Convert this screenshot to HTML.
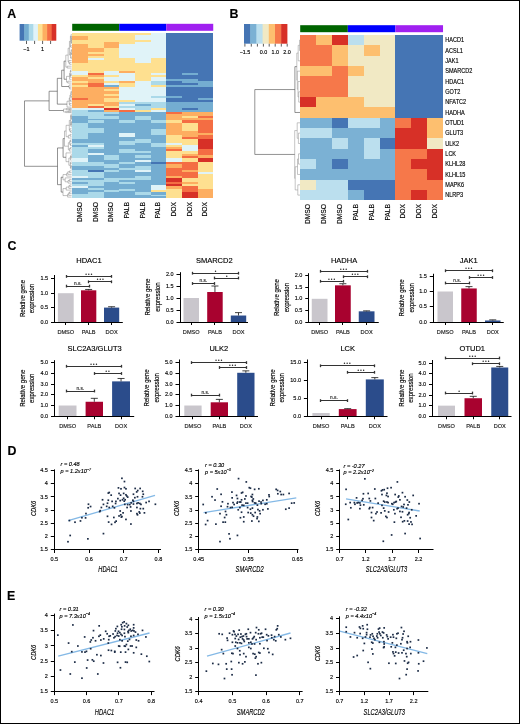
<!DOCTYPE html>
<html><head><meta charset="utf-8"><title>Figure</title>
<style>
html,body{margin:0;padding:0;background:#fff;width:520px;height:724px;overflow:hidden}
svg{display:block;will-change:transform;font-family:"Liberation Sans", sans-serif}
text{font-family:"Liberation Sans", sans-serif;stroke:#000;stroke-width:0.14px;paint-order:stroke}
</style></head><body>
<svg width="520" height="724" viewBox="0 0 520 724">
<rect x="0" y="0" width="520" height="724" fill="#fff"/>
<rect x="72.20" y="33.30" width="15.67" height="2.30" fill="#fee090" shape-rendering="crispEdges"/>
<rect x="72.20" y="35.60" width="15.67" height="4.30" fill="#fdae61" shape-rendering="crispEdges"/>
<rect x="72.20" y="39.90" width="15.67" height="4.10" fill="#fee090" shape-rendering="crispEdges"/>
<rect x="72.20" y="44.00" width="15.67" height="18.60" fill="#fdae61" shape-rendering="crispEdges"/>
<rect x="72.20" y="62.60" width="15.67" height="8.10" fill="#fee090" shape-rendering="crispEdges"/>
<rect x="72.20" y="70.70" width="15.67" height="4.10" fill="#e0f3f8" shape-rendering="crispEdges"/>
<rect x="72.20" y="74.80" width="15.67" height="2.20" fill="#fee090" shape-rendering="crispEdges"/>
<rect x="72.20" y="77.00" width="15.67" height="4.20" fill="#fdae61" shape-rendering="crispEdges"/>
<rect x="72.20" y="81.20" width="15.67" height="2.00" fill="#fee090" shape-rendering="crispEdges"/>
<rect x="72.20" y="83.20" width="15.67" height="1.80" fill="#fdae61" shape-rendering="crispEdges"/>
<rect x="72.20" y="85.00" width="15.67" height="2.20" fill="#fee090" shape-rendering="crispEdges"/>
<rect x="72.20" y="87.20" width="15.67" height="10.40" fill="#fdae61" shape-rendering="crispEdges"/>
<rect x="72.20" y="97.60" width="15.67" height="2.20" fill="#f46d43" shape-rendering="crispEdges"/>
<rect x="72.20" y="99.80" width="15.67" height="8.00" fill="#fdae61" shape-rendering="crispEdges"/>
<rect x="72.20" y="107.80" width="15.67" height="2.10" fill="#e0f3f8" shape-rendering="crispEdges"/>
<rect x="72.20" y="109.90" width="15.67" height="6.10" fill="#abd9e9" shape-rendering="crispEdges"/>
<rect x="72.20" y="116.00" width="15.67" height="7.30" fill="#74add1" shape-rendering="crispEdges"/>
<rect x="72.20" y="123.30" width="15.67" height="15.50" fill="#abd9e9" shape-rendering="crispEdges"/>
<rect x="72.20" y="138.80" width="15.67" height="4.30" fill="#74add1" shape-rendering="crispEdges"/>
<rect x="72.20" y="143.10" width="15.67" height="1.90" fill="#abd9e9" shape-rendering="crispEdges"/>
<rect x="72.20" y="145.00" width="15.67" height="2.00" fill="#74add1" shape-rendering="crispEdges"/>
<rect x="72.20" y="147.00" width="15.67" height="10.60" fill="#abd9e9" shape-rendering="crispEdges"/>
<rect x="72.20" y="157.60" width="15.67" height="4.30" fill="#e0f3f8" shape-rendering="crispEdges"/>
<rect x="72.20" y="161.90" width="15.67" height="4.30" fill="#abd9e9" shape-rendering="crispEdges"/>
<rect x="72.20" y="166.20" width="15.67" height="3.80" fill="#74add1" shape-rendering="crispEdges"/>
<rect x="72.20" y="170.00" width="15.67" height="5.80" fill="#abd9e9" shape-rendering="crispEdges"/>
<rect x="72.20" y="175.80" width="15.67" height="2.20" fill="#e0f3f8" shape-rendering="crispEdges"/>
<rect x="72.20" y="178.00" width="15.67" height="2.10" fill="#74add1" shape-rendering="crispEdges"/>
<rect x="72.20" y="180.10" width="15.67" height="2.20" fill="#abd9e9" shape-rendering="crispEdges"/>
<rect x="72.20" y="182.30" width="15.67" height="1.90" fill="#74add1" shape-rendering="crispEdges"/>
<rect x="72.20" y="184.20" width="15.67" height="1.70" fill="#abd9e9" shape-rendering="crispEdges"/>
<rect x="72.20" y="185.90" width="15.67" height="2.10" fill="#e0f3f8" shape-rendering="crispEdges"/>
<rect x="72.20" y="188.00" width="15.67" height="5.80" fill="#74add1" shape-rendering="crispEdges"/>
<rect x="72.20" y="193.80" width="15.67" height="4.20" fill="#abd9e9" shape-rendering="crispEdges"/>
<rect x="87.87" y="33.30" width="15.67" height="14.60" fill="#fee090" shape-rendering="crispEdges"/>
<rect x="87.87" y="47.90" width="15.67" height="4.30" fill="#fdae61" shape-rendering="crispEdges"/>
<rect x="87.87" y="52.20" width="15.67" height="1.70" fill="#fee090" shape-rendering="crispEdges"/>
<rect x="87.87" y="53.90" width="15.67" height="2.30" fill="#fdae61" shape-rendering="crispEdges"/>
<rect x="87.87" y="56.20" width="15.67" height="1.80" fill="#fee090" shape-rendering="crispEdges"/>
<rect x="87.87" y="58.00" width="15.67" height="2.40" fill="#e0f3f8" shape-rendering="crispEdges"/>
<rect x="87.87" y="60.40" width="15.67" height="12.40" fill="#fee090" shape-rendering="crispEdges"/>
<rect x="87.87" y="72.80" width="15.67" height="2.50" fill="#f46d43" shape-rendering="crispEdges"/>
<rect x="87.87" y="75.30" width="15.67" height="1.70" fill="#fdae61" shape-rendering="crispEdges"/>
<rect x="87.87" y="77.00" width="15.67" height="1.80" fill="#fee090" shape-rendering="crispEdges"/>
<rect x="87.87" y="78.80" width="15.67" height="4.10" fill="#fdae61" shape-rendering="crispEdges"/>
<rect x="87.87" y="82.90" width="15.67" height="4.30" fill="#f46d43" shape-rendering="crispEdges"/>
<rect x="87.87" y="87.20" width="15.67" height="16.60" fill="#fdae61" shape-rendering="crispEdges"/>
<rect x="87.87" y="103.80" width="15.67" height="2.20" fill="#fee090" shape-rendering="crispEdges"/>
<rect x="87.87" y="106.00" width="15.67" height="1.80" fill="#f46d43" shape-rendering="crispEdges"/>
<rect x="87.87" y="107.80" width="15.67" height="2.10" fill="#e0f3f8" shape-rendering="crispEdges"/>
<rect x="87.87" y="109.90" width="15.67" height="1.80" fill="#74add1" shape-rendering="crispEdges"/>
<rect x="87.87" y="111.70" width="15.67" height="7.00" fill="#abd9e9" shape-rendering="crispEdges"/>
<rect x="87.87" y="118.70" width="15.67" height="1.70" fill="#74add1" shape-rendering="crispEdges"/>
<rect x="87.87" y="120.40" width="15.67" height="2.40" fill="#abd9e9" shape-rendering="crispEdges"/>
<rect x="87.87" y="122.80" width="15.67" height="5.20" fill="#74add1" shape-rendering="crispEdges"/>
<rect x="87.87" y="128.00" width="15.67" height="5.00" fill="#abd9e9" shape-rendering="crispEdges"/>
<rect x="87.87" y="133.00" width="15.67" height="10.10" fill="#74add1" shape-rendering="crispEdges"/>
<rect x="87.87" y="143.10" width="15.67" height="1.90" fill="#abd9e9" shape-rendering="crispEdges"/>
<rect x="87.87" y="145.00" width="15.67" height="2.00" fill="#e0f3f8" shape-rendering="crispEdges"/>
<rect x="87.87" y="147.00" width="15.67" height="2.30" fill="#abd9e9" shape-rendering="crispEdges"/>
<rect x="87.87" y="149.30" width="15.67" height="3.90" fill="#74add1" shape-rendering="crispEdges"/>
<rect x="87.87" y="153.20" width="15.67" height="2.20" fill="#e0f3f8" shape-rendering="crispEdges"/>
<rect x="87.87" y="155.40" width="15.67" height="6.50" fill="#74add1" shape-rendering="crispEdges"/>
<rect x="87.87" y="161.90" width="15.67" height="4.30" fill="#abd9e9" shape-rendering="crispEdges"/>
<rect x="87.87" y="166.20" width="15.67" height="3.80" fill="#74add1" shape-rendering="crispEdges"/>
<rect x="87.87" y="170.00" width="15.67" height="2.00" fill="#4575b4" shape-rendering="crispEdges"/>
<rect x="87.87" y="172.00" width="15.67" height="6.00" fill="#abd9e9" shape-rendering="crispEdges"/>
<rect x="87.87" y="178.00" width="15.67" height="2.10" fill="#74add1" shape-rendering="crispEdges"/>
<rect x="87.87" y="180.10" width="15.67" height="5.80" fill="#abd9e9" shape-rendering="crispEdges"/>
<rect x="87.87" y="185.90" width="15.67" height="2.10" fill="#74add1" shape-rendering="crispEdges"/>
<rect x="87.87" y="188.00" width="15.67" height="2.20" fill="#abd9e9" shape-rendering="crispEdges"/>
<rect x="87.87" y="190.20" width="15.67" height="2.20" fill="#74add1" shape-rendering="crispEdges"/>
<rect x="87.87" y="192.40" width="15.67" height="5.60" fill="#abd9e9" shape-rendering="crispEdges"/>
<rect x="103.54" y="33.30" width="15.67" height="8.50" fill="#fee090" shape-rendering="crispEdges"/>
<rect x="103.54" y="41.80" width="15.67" height="6.10" fill="#fdae61" shape-rendering="crispEdges"/>
<rect x="103.54" y="47.90" width="15.67" height="22.80" fill="#fee090" shape-rendering="crispEdges"/>
<rect x="103.54" y="70.70" width="15.67" height="4.10" fill="#e0f3f8" shape-rendering="crispEdges"/>
<rect x="103.54" y="74.80" width="15.67" height="2.20" fill="#fee090" shape-rendering="crispEdges"/>
<rect x="103.54" y="77.00" width="15.67" height="4.40" fill="#e0f3f8" shape-rendering="crispEdges"/>
<rect x="103.54" y="81.40" width="15.67" height="1.80" fill="#fee090" shape-rendering="crispEdges"/>
<rect x="103.54" y="83.20" width="15.67" height="1.80" fill="#e0f3f8" shape-rendering="crispEdges"/>
<rect x="103.54" y="85.00" width="15.67" height="2.00" fill="#74add1" shape-rendering="crispEdges"/>
<rect x="103.54" y="87.00" width="15.67" height="2.40" fill="#fdae61" shape-rendering="crispEdges"/>
<rect x="103.54" y="89.40" width="15.67" height="1.80" fill="#fee090" shape-rendering="crispEdges"/>
<rect x="103.54" y="91.20" width="15.67" height="2.50" fill="#fdae61" shape-rendering="crispEdges"/>
<rect x="103.54" y="93.70" width="15.67" height="1.90" fill="#fee090" shape-rendering="crispEdges"/>
<rect x="103.54" y="95.60" width="15.67" height="2.40" fill="#fdae61" shape-rendering="crispEdges"/>
<rect x="103.54" y="98.00" width="15.67" height="3.60" fill="#fee090" shape-rendering="crispEdges"/>
<rect x="103.54" y="101.60" width="15.67" height="4.40" fill="#fdae61" shape-rendering="crispEdges"/>
<rect x="103.54" y="106.00" width="15.67" height="1.80" fill="#fee090" shape-rendering="crispEdges"/>
<rect x="103.54" y="107.80" width="15.67" height="2.10" fill="#d73027" shape-rendering="crispEdges"/>
<rect x="103.54" y="109.90" width="15.67" height="1.80" fill="#fdae61" shape-rendering="crispEdges"/>
<rect x="103.54" y="111.70" width="15.67" height="2.50" fill="#abd9e9" shape-rendering="crispEdges"/>
<rect x="103.54" y="114.20" width="15.67" height="1.80" fill="#74add1" shape-rendering="crispEdges"/>
<rect x="103.54" y="116.00" width="15.67" height="2.70" fill="#abd9e9" shape-rendering="crispEdges"/>
<rect x="103.54" y="118.70" width="15.67" height="36.70" fill="#74add1" shape-rendering="crispEdges"/>
<rect x="103.54" y="155.40" width="15.67" height="4.30" fill="#abd9e9" shape-rendering="crispEdges"/>
<rect x="103.54" y="159.70" width="15.67" height="4.30" fill="#74add1" shape-rendering="crispEdges"/>
<rect x="103.54" y="164.00" width="15.67" height="3.70" fill="#abd9e9" shape-rendering="crispEdges"/>
<rect x="103.54" y="167.70" width="15.67" height="2.10" fill="#74add1" shape-rendering="crispEdges"/>
<rect x="103.54" y="169.80" width="15.67" height="2.20" fill="#abd9e9" shape-rendering="crispEdges"/>
<rect x="103.54" y="172.00" width="15.67" height="6.00" fill="#74add1" shape-rendering="crispEdges"/>
<rect x="103.54" y="178.00" width="15.67" height="4.00" fill="#abd9e9" shape-rendering="crispEdges"/>
<rect x="103.54" y="182.00" width="15.67" height="8.20" fill="#74add1" shape-rendering="crispEdges"/>
<rect x="103.54" y="190.20" width="15.67" height="2.20" fill="#abd9e9" shape-rendering="crispEdges"/>
<rect x="103.54" y="192.40" width="15.67" height="5.60" fill="#74add1" shape-rendering="crispEdges"/>
<rect x="119.21" y="33.30" width="15.67" height="10.70" fill="#fee090" shape-rendering="crispEdges"/>
<rect x="119.21" y="44.00" width="15.67" height="14.40" fill="#e0f3f8" shape-rendering="crispEdges"/>
<rect x="119.21" y="58.40" width="15.67" height="12.30" fill="#fee090" shape-rendering="crispEdges"/>
<rect x="119.21" y="70.70" width="15.67" height="2.10" fill="#fdae61" shape-rendering="crispEdges"/>
<rect x="119.21" y="72.80" width="15.67" height="8.20" fill="#e0f3f8" shape-rendering="crispEdges"/>
<rect x="119.21" y="81.00" width="15.67" height="2.20" fill="#fdae61" shape-rendering="crispEdges"/>
<rect x="119.21" y="83.20" width="15.67" height="4.00" fill="#fee090" shape-rendering="crispEdges"/>
<rect x="119.21" y="87.20" width="15.67" height="12.30" fill="#e0f3f8" shape-rendering="crispEdges"/>
<rect x="119.21" y="99.50" width="15.67" height="2.10" fill="#fee090" shape-rendering="crispEdges"/>
<rect x="119.21" y="101.60" width="15.67" height="2.20" fill="#abd9e9" shape-rendering="crispEdges"/>
<rect x="119.21" y="103.80" width="15.67" height="2.20" fill="#e0f3f8" shape-rendering="crispEdges"/>
<rect x="119.21" y="106.00" width="15.67" height="1.80" fill="#abd9e9" shape-rendering="crispEdges"/>
<rect x="119.21" y="107.80" width="15.67" height="2.10" fill="#e0f3f8" shape-rendering="crispEdges"/>
<rect x="119.21" y="109.90" width="15.67" height="1.80" fill="#f46d43" shape-rendering="crispEdges"/>
<rect x="119.21" y="111.70" width="15.67" height="8.70" fill="#74add1" shape-rendering="crispEdges"/>
<rect x="119.21" y="120.40" width="15.67" height="2.90" fill="#abd9e9" shape-rendering="crispEdges"/>
<rect x="119.21" y="123.30" width="15.67" height="9.70" fill="#74add1" shape-rendering="crispEdges"/>
<rect x="119.21" y="133.00" width="15.67" height="4.00" fill="#e0f3f8" shape-rendering="crispEdges"/>
<rect x="119.21" y="137.00" width="15.67" height="4.00" fill="#74add1" shape-rendering="crispEdges"/>
<rect x="119.21" y="141.00" width="15.67" height="4.00" fill="#abd9e9" shape-rendering="crispEdges"/>
<rect x="119.21" y="145.00" width="15.67" height="4.30" fill="#74add1" shape-rendering="crispEdges"/>
<rect x="119.21" y="149.30" width="15.67" height="3.90" fill="#abd9e9" shape-rendering="crispEdges"/>
<rect x="119.21" y="153.20" width="15.67" height="8.70" fill="#74add1" shape-rendering="crispEdges"/>
<rect x="119.21" y="161.90" width="15.67" height="2.10" fill="#abd9e9" shape-rendering="crispEdges"/>
<rect x="119.21" y="164.00" width="15.67" height="3.70" fill="#74add1" shape-rendering="crispEdges"/>
<rect x="119.21" y="167.70" width="15.67" height="2.10" fill="#abd9e9" shape-rendering="crispEdges"/>
<rect x="119.21" y="169.80" width="15.67" height="8.20" fill="#74add1" shape-rendering="crispEdges"/>
<rect x="119.21" y="178.00" width="15.67" height="2.10" fill="#abd9e9" shape-rendering="crispEdges"/>
<rect x="119.21" y="180.10" width="15.67" height="2.20" fill="#74add1" shape-rendering="crispEdges"/>
<rect x="119.21" y="182.30" width="15.67" height="1.90" fill="#abd9e9" shape-rendering="crispEdges"/>
<rect x="119.21" y="184.20" width="15.67" height="4.60" fill="#74add1" shape-rendering="crispEdges"/>
<rect x="119.21" y="188.80" width="15.67" height="1.90" fill="#abd9e9" shape-rendering="crispEdges"/>
<rect x="119.21" y="190.70" width="15.67" height="7.30" fill="#74add1" shape-rendering="crispEdges"/>
<rect x="134.88" y="33.30" width="15.67" height="1.90" fill="#fee090" shape-rendering="crispEdges"/>
<rect x="134.88" y="35.20" width="15.67" height="4.80" fill="#e0f3f8" shape-rendering="crispEdges"/>
<rect x="134.88" y="40.00" width="15.67" height="1.80" fill="#fee090" shape-rendering="crispEdges"/>
<rect x="134.88" y="41.80" width="15.67" height="20.80" fill="#e0f3f8" shape-rendering="crispEdges"/>
<rect x="134.88" y="62.60" width="15.67" height="18.60" fill="#fee090" shape-rendering="crispEdges"/>
<rect x="134.88" y="81.20" width="15.67" height="20.40" fill="#e0f3f8" shape-rendering="crispEdges"/>
<rect x="134.88" y="101.60" width="15.67" height="2.20" fill="#abd9e9" shape-rendering="crispEdges"/>
<rect x="134.88" y="103.80" width="15.67" height="2.20" fill="#74add1" shape-rendering="crispEdges"/>
<rect x="134.88" y="106.00" width="15.67" height="3.90" fill="#abd9e9" shape-rendering="crispEdges"/>
<rect x="134.88" y="109.90" width="15.67" height="1.80" fill="#fee090" shape-rendering="crispEdges"/>
<rect x="134.88" y="111.70" width="15.67" height="4.30" fill="#74add1" shape-rendering="crispEdges"/>
<rect x="134.88" y="116.00" width="15.67" height="4.40" fill="#abd9e9" shape-rendering="crispEdges"/>
<rect x="134.88" y="120.40" width="15.67" height="18.40" fill="#74add1" shape-rendering="crispEdges"/>
<rect x="134.88" y="138.80" width="15.67" height="4.30" fill="#abd9e9" shape-rendering="crispEdges"/>
<rect x="134.88" y="143.10" width="15.67" height="7.90" fill="#74add1" shape-rendering="crispEdges"/>
<rect x="134.88" y="151.00" width="15.67" height="2.20" fill="#abd9e9" shape-rendering="crispEdges"/>
<rect x="134.88" y="153.20" width="15.67" height="2.20" fill="#74add1" shape-rendering="crispEdges"/>
<rect x="134.88" y="155.40" width="15.67" height="2.20" fill="#abd9e9" shape-rendering="crispEdges"/>
<rect x="134.88" y="157.60" width="15.67" height="2.10" fill="#74add1" shape-rendering="crispEdges"/>
<rect x="134.88" y="159.70" width="15.67" height="2.20" fill="#e0f3f8" shape-rendering="crispEdges"/>
<rect x="134.88" y="161.90" width="15.67" height="3.60" fill="#74add1" shape-rendering="crispEdges"/>
<rect x="134.88" y="165.50" width="15.67" height="4.50" fill="#abd9e9" shape-rendering="crispEdges"/>
<rect x="134.88" y="170.00" width="15.67" height="2.00" fill="#e0f3f8" shape-rendering="crispEdges"/>
<rect x="134.88" y="172.00" width="15.67" height="3.80" fill="#74add1" shape-rendering="crispEdges"/>
<rect x="134.88" y="175.80" width="15.67" height="4.30" fill="#abd9e9" shape-rendering="crispEdges"/>
<rect x="134.88" y="180.10" width="15.67" height="12.30" fill="#74add1" shape-rendering="crispEdges"/>
<rect x="134.88" y="192.40" width="15.67" height="2.10" fill="#abd9e9" shape-rendering="crispEdges"/>
<rect x="134.88" y="194.50" width="15.67" height="3.50" fill="#74add1" shape-rendering="crispEdges"/>
<rect x="150.55" y="33.30" width="15.67" height="25.10" fill="#e0f3f8" shape-rendering="crispEdges"/>
<rect x="150.55" y="58.40" width="15.67" height="14.30" fill="#fee090" shape-rendering="crispEdges"/>
<rect x="150.55" y="72.70" width="15.67" height="2.10" fill="#e0f3f8" shape-rendering="crispEdges"/>
<rect x="150.55" y="74.80" width="15.67" height="2.20" fill="#fee090" shape-rendering="crispEdges"/>
<rect x="150.55" y="77.00" width="15.67" height="4.20" fill="#e0f3f8" shape-rendering="crispEdges"/>
<rect x="150.55" y="81.20" width="15.67" height="3.80" fill="#abd9e9" shape-rendering="crispEdges"/>
<rect x="150.55" y="85.00" width="15.67" height="2.20" fill="#fee090" shape-rendering="crispEdges"/>
<rect x="150.55" y="87.20" width="15.67" height="8.70" fill="#e0f3f8" shape-rendering="crispEdges"/>
<rect x="150.55" y="95.90" width="15.67" height="1.70" fill="#abd9e9" shape-rendering="crispEdges"/>
<rect x="150.55" y="97.60" width="15.67" height="4.00" fill="#e0f3f8" shape-rendering="crispEdges"/>
<rect x="150.55" y="101.60" width="15.67" height="6.20" fill="#abd9e9" shape-rendering="crispEdges"/>
<rect x="150.55" y="107.80" width="15.67" height="2.10" fill="#fee090" shape-rendering="crispEdges"/>
<rect x="150.55" y="109.90" width="15.67" height="1.80" fill="#e0f3f8" shape-rendering="crispEdges"/>
<rect x="150.55" y="111.70" width="15.67" height="8.70" fill="#74add1" shape-rendering="crispEdges"/>
<rect x="150.55" y="120.40" width="15.67" height="2.40" fill="#abd9e9" shape-rendering="crispEdges"/>
<rect x="150.55" y="122.80" width="15.67" height="6.40" fill="#74add1" shape-rendering="crispEdges"/>
<rect x="150.55" y="129.20" width="15.67" height="5.70" fill="#abd9e9" shape-rendering="crispEdges"/>
<rect x="150.55" y="134.90" width="15.67" height="8.20" fill="#74add1" shape-rendering="crispEdges"/>
<rect x="150.55" y="143.10" width="15.67" height="3.90" fill="#abd9e9" shape-rendering="crispEdges"/>
<rect x="150.55" y="147.00" width="15.67" height="14.90" fill="#74add1" shape-rendering="crispEdges"/>
<rect x="150.55" y="161.90" width="15.67" height="1.90" fill="#4575b4" shape-rendering="crispEdges"/>
<rect x="150.55" y="163.80" width="15.67" height="20.70" fill="#74add1" shape-rendering="crispEdges"/>
<rect x="150.55" y="184.50" width="15.67" height="5.70" fill="#e0f3f8" shape-rendering="crispEdges"/>
<rect x="150.55" y="190.20" width="15.67" height="2.20" fill="#fee090" shape-rendering="crispEdges"/>
<rect x="150.55" y="192.40" width="15.67" height="2.10" fill="#74add1" shape-rendering="crispEdges"/>
<rect x="150.55" y="194.50" width="15.67" height="1.90" fill="#abd9e9" shape-rendering="crispEdges"/>
<rect x="150.55" y="196.40" width="15.67" height="1.60" fill="#74add1" shape-rendering="crispEdges"/>
<rect x="166.22" y="33.30" width="15.67" height="45.90" fill="#4575b4" shape-rendering="crispEdges"/>
<rect x="166.22" y="79.20" width="15.67" height="1.80" fill="#74add1" shape-rendering="crispEdges"/>
<rect x="166.22" y="81.00" width="15.67" height="4.20" fill="#4575b4" shape-rendering="crispEdges"/>
<rect x="166.22" y="85.20" width="15.67" height="1.80" fill="#74add1" shape-rendering="crispEdges"/>
<rect x="166.22" y="87.00" width="15.67" height="8.80" fill="#4575b4" shape-rendering="crispEdges"/>
<rect x="166.22" y="95.80" width="15.67" height="1.80" fill="#74add1" shape-rendering="crispEdges"/>
<rect x="166.22" y="97.60" width="15.67" height="4.20" fill="#4575b4" shape-rendering="crispEdges"/>
<rect x="166.22" y="101.80" width="15.67" height="9.90" fill="#74add1" shape-rendering="crispEdges"/>
<rect x="166.22" y="111.70" width="15.67" height="2.50" fill="#f46d43" shape-rendering="crispEdges"/>
<rect x="166.22" y="114.20" width="15.67" height="6.20" fill="#fdae61" shape-rendering="crispEdges"/>
<rect x="166.22" y="120.40" width="15.67" height="2.40" fill="#fee090" shape-rendering="crispEdges"/>
<rect x="166.22" y="122.80" width="15.67" height="12.20" fill="#fdae61" shape-rendering="crispEdges"/>
<rect x="166.22" y="135.00" width="15.67" height="8.10" fill="#fee090" shape-rendering="crispEdges"/>
<rect x="166.22" y="143.10" width="15.67" height="1.90" fill="#e0f3f8" shape-rendering="crispEdges"/>
<rect x="166.22" y="145.00" width="15.67" height="2.00" fill="#fee090" shape-rendering="crispEdges"/>
<rect x="166.22" y="147.00" width="15.67" height="2.30" fill="#fdae61" shape-rendering="crispEdges"/>
<rect x="166.22" y="149.30" width="15.67" height="2.10" fill="#f46d43" shape-rendering="crispEdges"/>
<rect x="166.22" y="151.40" width="15.67" height="6.20" fill="#fee090" shape-rendering="crispEdges"/>
<rect x="166.22" y="157.60" width="15.67" height="4.30" fill="#e0f3f8" shape-rendering="crispEdges"/>
<rect x="166.22" y="161.90" width="15.67" height="2.10" fill="#f46d43" shape-rendering="crispEdges"/>
<rect x="166.22" y="164.00" width="15.67" height="1.80" fill="#fdae61" shape-rendering="crispEdges"/>
<rect x="166.22" y="165.80" width="15.67" height="0.40" fill="#f46d43" shape-rendering="crispEdges"/>
<rect x="166.22" y="166.20" width="15.67" height="1.80" fill="#fdae61" shape-rendering="crispEdges"/>
<rect x="166.22" y="168.00" width="15.67" height="7.80" fill="#f46d43" shape-rendering="crispEdges"/>
<rect x="166.22" y="175.80" width="15.67" height="2.20" fill="#fdae61" shape-rendering="crispEdges"/>
<rect x="166.22" y="178.00" width="15.67" height="4.00" fill="#d73027" shape-rendering="crispEdges"/>
<rect x="166.22" y="182.00" width="15.67" height="2.00" fill="#f46d43" shape-rendering="crispEdges"/>
<rect x="166.22" y="184.00" width="15.67" height="2.00" fill="#d73027" shape-rendering="crispEdges"/>
<rect x="166.22" y="186.00" width="15.67" height="2.80" fill="#fdae61" shape-rendering="crispEdges"/>
<rect x="166.22" y="188.80" width="15.67" height="9.20" fill="#fee090" shape-rendering="crispEdges"/>
<rect x="181.89" y="33.30" width="15.67" height="39.70" fill="#4575b4" shape-rendering="crispEdges"/>
<rect x="181.89" y="73.00" width="15.67" height="1.80" fill="#74add1" shape-rendering="crispEdges"/>
<rect x="181.89" y="74.80" width="15.67" height="4.40" fill="#4575b4" shape-rendering="crispEdges"/>
<rect x="181.89" y="79.20" width="15.67" height="3.80" fill="#74add1" shape-rendering="crispEdges"/>
<rect x="181.89" y="83.00" width="15.67" height="2.20" fill="#4575b4" shape-rendering="crispEdges"/>
<rect x="181.89" y="85.20" width="15.67" height="1.80" fill="#74add1" shape-rendering="crispEdges"/>
<rect x="181.89" y="87.00" width="15.67" height="14.80" fill="#4575b4" shape-rendering="crispEdges"/>
<rect x="181.89" y="101.80" width="15.67" height="6.30" fill="#74add1" shape-rendering="crispEdges"/>
<rect x="181.89" y="108.10" width="15.67" height="1.90" fill="#4575b4" shape-rendering="crispEdges"/>
<rect x="181.89" y="110.00" width="15.67" height="1.70" fill="#74add1" shape-rendering="crispEdges"/>
<rect x="181.89" y="111.70" width="15.67" height="4.30" fill="#fdae61" shape-rendering="crispEdges"/>
<rect x="181.89" y="116.00" width="15.67" height="2.20" fill="#fee090" shape-rendering="crispEdges"/>
<rect x="181.89" y="118.20" width="15.67" height="2.20" fill="#fdae61" shape-rendering="crispEdges"/>
<rect x="181.89" y="120.40" width="15.67" height="2.40" fill="#f46d43" shape-rendering="crispEdges"/>
<rect x="181.89" y="122.80" width="15.67" height="8.20" fill="#fee090" shape-rendering="crispEdges"/>
<rect x="181.89" y="131.00" width="15.67" height="6.00" fill="#fdae61" shape-rendering="crispEdges"/>
<rect x="181.89" y="137.00" width="15.67" height="1.80" fill="#f46d43" shape-rendering="crispEdges"/>
<rect x="181.89" y="138.80" width="15.67" height="6.20" fill="#fee090" shape-rendering="crispEdges"/>
<rect x="181.89" y="145.00" width="15.67" height="6.40" fill="#e0f3f8" shape-rendering="crispEdges"/>
<rect x="181.89" y="151.40" width="15.67" height="2.30" fill="#fee090" shape-rendering="crispEdges"/>
<rect x="181.89" y="153.70" width="15.67" height="2.00" fill="#fdae61" shape-rendering="crispEdges"/>
<rect x="181.89" y="155.70" width="15.67" height="1.90" fill="#f46d43" shape-rendering="crispEdges"/>
<rect x="181.89" y="157.60" width="15.67" height="4.30" fill="#fee090" shape-rendering="crispEdges"/>
<rect x="181.89" y="161.90" width="15.67" height="8.10" fill="#f46d43" shape-rendering="crispEdges"/>
<rect x="181.89" y="170.00" width="15.67" height="2.00" fill="#fdae61" shape-rendering="crispEdges"/>
<rect x="181.89" y="172.00" width="15.67" height="6.00" fill="#f46d43" shape-rendering="crispEdges"/>
<rect x="181.89" y="178.00" width="15.67" height="4.00" fill="#fee090" shape-rendering="crispEdges"/>
<rect x="181.89" y="182.00" width="15.67" height="2.00" fill="#fdae61" shape-rendering="crispEdges"/>
<rect x="181.89" y="184.00" width="15.67" height="2.00" fill="#fee090" shape-rendering="crispEdges"/>
<rect x="181.89" y="186.00" width="15.67" height="6.40" fill="#f46d43" shape-rendering="crispEdges"/>
<rect x="181.89" y="192.40" width="15.67" height="5.60" fill="#d73027" shape-rendering="crispEdges"/>
<rect x="197.56" y="33.30" width="15.67" height="47.70" fill="#4575b4" shape-rendering="crispEdges"/>
<rect x="197.56" y="81.00" width="15.67" height="6.00" fill="#74add1" shape-rendering="crispEdges"/>
<rect x="197.56" y="87.00" width="15.67" height="10.60" fill="#4575b4" shape-rendering="crispEdges"/>
<rect x="197.56" y="97.60" width="15.67" height="2.10" fill="#74add1" shape-rendering="crispEdges"/>
<rect x="197.56" y="99.70" width="15.67" height="2.10" fill="#4575b4" shape-rendering="crispEdges"/>
<rect x="197.56" y="101.80" width="15.67" height="9.90" fill="#74add1" shape-rendering="crispEdges"/>
<rect x="197.56" y="111.70" width="15.67" height="4.30" fill="#fdae61" shape-rendering="crispEdges"/>
<rect x="197.56" y="116.00" width="15.67" height="2.20" fill="#f46d43" shape-rendering="crispEdges"/>
<rect x="197.56" y="118.20" width="15.67" height="2.20" fill="#fdae61" shape-rendering="crispEdges"/>
<rect x="197.56" y="120.40" width="15.67" height="12.60" fill="#f46d43" shape-rendering="crispEdges"/>
<rect x="197.56" y="133.00" width="15.67" height="2.00" fill="#fdae61" shape-rendering="crispEdges"/>
<rect x="197.56" y="135.00" width="15.67" height="3.80" fill="#f46d43" shape-rendering="crispEdges"/>
<rect x="197.56" y="138.80" width="15.67" height="10.10" fill="#d73027" shape-rendering="crispEdges"/>
<rect x="197.56" y="148.90" width="15.67" height="6.50" fill="#f46d43" shape-rendering="crispEdges"/>
<rect x="197.56" y="155.40" width="15.67" height="2.20" fill="#fdae61" shape-rendering="crispEdges"/>
<rect x="197.56" y="157.60" width="15.67" height="3.90" fill="#d73027" shape-rendering="crispEdges"/>
<rect x="197.56" y="161.50" width="15.67" height="10.50" fill="#fee090" shape-rendering="crispEdges"/>
<rect x="197.56" y="172.00" width="15.67" height="2.00" fill="#e0f3f8" shape-rendering="crispEdges"/>
<rect x="197.56" y="174.00" width="15.67" height="14.80" fill="#fee090" shape-rendering="crispEdges"/>
<rect x="197.56" y="188.80" width="15.67" height="9.20" fill="#fdae61" shape-rendering="crispEdges"/>
<rect x="72.20" y="23.80" width="47.01" height="7.00" fill="#006400" />
<rect x="119.21" y="23.80" width="47.01" height="7.00" fill="#0000ff" />
<rect x="166.22" y="23.80" width="47.01" height="7.00" fill="#a020f0" />
<rect x="19.60" y="24.00" width="5.09" height="16.70" fill="#4575b4" />
<rect x="24.19" y="24.00" width="5.09" height="16.70" fill="#74add1" />
<rect x="28.77" y="24.00" width="5.09" height="16.70" fill="#abd9e9" />
<rect x="33.36" y="24.00" width="5.09" height="16.70" fill="#e0f3f8" />
<rect x="37.95" y="24.00" width="5.09" height="16.70" fill="#fee090" />
<rect x="42.54" y="24.00" width="5.09" height="16.70" fill="#fdae61" />
<rect x="47.12" y="24.00" width="5.09" height="16.70" fill="#f46d43" />
<rect x="51.71" y="24.00" width="4.59" height="16.70" fill="#d73027" />
<line x1="26.50" y1="40.80" x2="26.50" y2="44.00" stroke="#333" stroke-width="0.8" />
<line x1="34.60" y1="40.80" x2="34.60" y2="44.00" stroke="#333" stroke-width="0.8" />
<line x1="42.60" y1="40.80" x2="42.60" y2="44.00" stroke="#333" stroke-width="0.8" />
<line x1="50.60" y1="40.80" x2="50.60" y2="44.00" stroke="#333" stroke-width="0.8" />
<text x="26.50" y="51.00" font-size="5.5" text-anchor="middle" font-weight="normal" fill="#000"  >&#8722;1</text>
<text x="42.60" y="51.00" font-size="5.5" text-anchor="middle" font-weight="normal" fill="#000"  >1</text>
<text x="0" y="0" font-size="6.7" text-anchor="end" transform="translate(82.13,202) rotate(-90)">DMSO</text>
<text x="0" y="0" font-size="6.7" text-anchor="end" transform="translate(97.80,202) rotate(-90)">DMSO</text>
<text x="0" y="0" font-size="6.7" text-anchor="end" transform="translate(113.47,202) rotate(-90)">DMSO</text>
<text x="0" y="0" font-size="6.7" text-anchor="end" transform="translate(129.15,202) rotate(-90)">PALB</text>
<text x="0" y="0" font-size="6.7" text-anchor="end" transform="translate(144.81,202) rotate(-90)">PALB</text>
<text x="0" y="0" font-size="6.7" text-anchor="end" transform="translate(160.48,202) rotate(-90)">PALB</text>
<text x="0" y="0" font-size="6.7" text-anchor="end" transform="translate(176.16,202) rotate(-90)">DOX</text>
<text x="0" y="0" font-size="6.7" text-anchor="end" transform="translate(191.83,202) rotate(-90)">DOX</text>
<text x="0" y="0" font-size="6.7" text-anchor="end" transform="translate(207.49,202) rotate(-90)">DOX</text>
<rect x="300.20" y="35.00" width="15.87" height="10.33" fill="#f6784a" shape-rendering="crispEdges"/>
<rect x="316.07" y="35.00" width="15.87" height="10.33" fill="#fdbf6f" shape-rendering="crispEdges"/>
<rect x="331.94" y="35.00" width="15.87" height="10.33" fill="#d73027" shape-rendering="crispEdges"/>
<rect x="347.81" y="35.00" width="15.87" height="10.33" fill="#bbdfee" shape-rendering="crispEdges"/>
<rect x="363.68" y="35.00" width="15.87" height="10.33" fill="#f1e9c4" shape-rendering="crispEdges"/>
<rect x="379.55" y="35.00" width="15.87" height="10.33" fill="#f1e9c4" shape-rendering="crispEdges"/>
<rect x="395.42" y="35.00" width="15.87" height="10.33" fill="#4575b4" shape-rendering="crispEdges"/>
<rect x="411.29" y="35.00" width="15.87" height="10.33" fill="#4575b4" shape-rendering="crispEdges"/>
<rect x="427.16" y="35.00" width="15.87" height="10.33" fill="#4575b4" shape-rendering="crispEdges"/>
<rect x="300.20" y="45.33" width="15.87" height="10.33" fill="#f6784a" shape-rendering="crispEdges"/>
<rect x="316.07" y="45.33" width="15.87" height="10.33" fill="#f6784a" shape-rendering="crispEdges"/>
<rect x="331.94" y="45.33" width="15.87" height="10.33" fill="#fdbf6f" shape-rendering="crispEdges"/>
<rect x="347.81" y="45.33" width="15.87" height="10.33" fill="#f1e9c4" shape-rendering="crispEdges"/>
<rect x="363.68" y="45.33" width="15.87" height="10.33" fill="#fdbf6f" shape-rendering="crispEdges"/>
<rect x="379.55" y="45.33" width="15.87" height="10.33" fill="#f1e9c4" shape-rendering="crispEdges"/>
<rect x="395.42" y="45.33" width="15.87" height="10.33" fill="#4575b4" shape-rendering="crispEdges"/>
<rect x="411.29" y="45.33" width="15.87" height="10.33" fill="#4575b4" shape-rendering="crispEdges"/>
<rect x="427.16" y="45.33" width="15.87" height="10.33" fill="#4575b4" shape-rendering="crispEdges"/>
<rect x="300.20" y="55.66" width="15.87" height="10.33" fill="#f6784a" shape-rendering="crispEdges"/>
<rect x="316.07" y="55.66" width="15.87" height="10.33" fill="#f6784a" shape-rendering="crispEdges"/>
<rect x="331.94" y="55.66" width="15.87" height="10.33" fill="#fdbf6f" shape-rendering="crispEdges"/>
<rect x="347.81" y="55.66" width="15.87" height="10.33" fill="#f1e9c4" shape-rendering="crispEdges"/>
<rect x="363.68" y="55.66" width="15.87" height="10.33" fill="#f1e9c4" shape-rendering="crispEdges"/>
<rect x="379.55" y="55.66" width="15.87" height="10.33" fill="#f1e9c4" shape-rendering="crispEdges"/>
<rect x="395.42" y="55.66" width="15.87" height="10.33" fill="#4575b4" shape-rendering="crispEdges"/>
<rect x="411.29" y="55.66" width="15.87" height="10.33" fill="#4575b4" shape-rendering="crispEdges"/>
<rect x="427.16" y="55.66" width="15.87" height="10.33" fill="#4575b4" shape-rendering="crispEdges"/>
<rect x="300.20" y="65.99" width="15.87" height="10.33" fill="#fdbf6f" shape-rendering="crispEdges"/>
<rect x="316.07" y="65.99" width="15.87" height="10.33" fill="#fdbf6f" shape-rendering="crispEdges"/>
<rect x="331.94" y="65.99" width="15.87" height="10.33" fill="#f6784a" shape-rendering="crispEdges"/>
<rect x="347.81" y="65.99" width="15.87" height="10.33" fill="#fdbf6f" shape-rendering="crispEdges"/>
<rect x="363.68" y="65.99" width="15.87" height="10.33" fill="#f1e9c4" shape-rendering="crispEdges"/>
<rect x="379.55" y="65.99" width="15.87" height="10.33" fill="#f1e9c4" shape-rendering="crispEdges"/>
<rect x="395.42" y="65.99" width="15.87" height="10.33" fill="#4575b4" shape-rendering="crispEdges"/>
<rect x="411.29" y="65.99" width="15.87" height="10.33" fill="#4575b4" shape-rendering="crispEdges"/>
<rect x="427.16" y="65.99" width="15.87" height="10.33" fill="#4575b4" shape-rendering="crispEdges"/>
<rect x="300.20" y="76.32" width="15.87" height="10.33" fill="#f6784a" shape-rendering="crispEdges"/>
<rect x="316.07" y="76.32" width="15.87" height="10.33" fill="#f6784a" shape-rendering="crispEdges"/>
<rect x="331.94" y="76.32" width="15.87" height="10.33" fill="#f6784a" shape-rendering="crispEdges"/>
<rect x="347.81" y="76.32" width="15.87" height="10.33" fill="#f1e9c4" shape-rendering="crispEdges"/>
<rect x="363.68" y="76.32" width="15.87" height="10.33" fill="#f1e9c4" shape-rendering="crispEdges"/>
<rect x="379.55" y="76.32" width="15.87" height="10.33" fill="#f1e9c4" shape-rendering="crispEdges"/>
<rect x="395.42" y="76.32" width="15.87" height="10.33" fill="#4575b4" shape-rendering="crispEdges"/>
<rect x="411.29" y="76.32" width="15.87" height="10.33" fill="#4575b4" shape-rendering="crispEdges"/>
<rect x="427.16" y="76.32" width="15.87" height="10.33" fill="#4575b4" shape-rendering="crispEdges"/>
<rect x="300.20" y="86.65" width="15.87" height="10.33" fill="#f6784a" shape-rendering="crispEdges"/>
<rect x="316.07" y="86.65" width="15.87" height="10.33" fill="#f6784a" shape-rendering="crispEdges"/>
<rect x="331.94" y="86.65" width="15.87" height="10.33" fill="#f6784a" shape-rendering="crispEdges"/>
<rect x="347.81" y="86.65" width="15.87" height="10.33" fill="#f1e9c4" shape-rendering="crispEdges"/>
<rect x="363.68" y="86.65" width="15.87" height="10.33" fill="#f1e9c4" shape-rendering="crispEdges"/>
<rect x="379.55" y="86.65" width="15.87" height="10.33" fill="#f1e9c4" shape-rendering="crispEdges"/>
<rect x="395.42" y="86.65" width="15.87" height="10.33" fill="#4575b4" shape-rendering="crispEdges"/>
<rect x="411.29" y="86.65" width="15.87" height="10.33" fill="#4575b4" shape-rendering="crispEdges"/>
<rect x="427.16" y="86.65" width="15.87" height="10.33" fill="#4575b4" shape-rendering="crispEdges"/>
<rect x="300.20" y="96.98" width="15.87" height="10.33" fill="#d73027" shape-rendering="crispEdges"/>
<rect x="316.07" y="96.98" width="15.87" height="10.33" fill="#fdbf6f" shape-rendering="crispEdges"/>
<rect x="331.94" y="96.98" width="15.87" height="10.33" fill="#fdbf6f" shape-rendering="crispEdges"/>
<rect x="347.81" y="96.98" width="15.87" height="10.33" fill="#fdbf6f" shape-rendering="crispEdges"/>
<rect x="363.68" y="96.98" width="15.87" height="10.33" fill="#f1e9c4" shape-rendering="crispEdges"/>
<rect x="379.55" y="96.98" width="15.87" height="10.33" fill="#f1e9c4" shape-rendering="crispEdges"/>
<rect x="395.42" y="96.98" width="15.87" height="10.33" fill="#4575b4" shape-rendering="crispEdges"/>
<rect x="411.29" y="96.98" width="15.87" height="10.33" fill="#4575b4" shape-rendering="crispEdges"/>
<rect x="427.16" y="96.98" width="15.87" height="10.33" fill="#4575b4" shape-rendering="crispEdges"/>
<rect x="300.20" y="107.31" width="15.87" height="10.33" fill="#fdbf6f" shape-rendering="crispEdges"/>
<rect x="316.07" y="107.31" width="15.87" height="10.33" fill="#fdbf6f" shape-rendering="crispEdges"/>
<rect x="331.94" y="107.31" width="15.87" height="10.33" fill="#fdbf6f" shape-rendering="crispEdges"/>
<rect x="347.81" y="107.31" width="15.87" height="10.33" fill="#fdbf6f" shape-rendering="crispEdges"/>
<rect x="363.68" y="107.31" width="15.87" height="10.33" fill="#fdbf6f" shape-rendering="crispEdges"/>
<rect x="379.55" y="107.31" width="15.87" height="10.33" fill="#fdbf6f" shape-rendering="crispEdges"/>
<rect x="395.42" y="107.31" width="15.87" height="10.33" fill="#4575b4" shape-rendering="crispEdges"/>
<rect x="411.29" y="107.31" width="15.87" height="10.33" fill="#4575b4" shape-rendering="crispEdges"/>
<rect x="427.16" y="107.31" width="15.87" height="10.33" fill="#4575b4" shape-rendering="crispEdges"/>
<rect x="300.20" y="117.64" width="15.87" height="10.33" fill="#7bb1d4" shape-rendering="crispEdges"/>
<rect x="316.07" y="117.64" width="15.87" height="10.33" fill="#7bb1d4" shape-rendering="crispEdges"/>
<rect x="331.94" y="117.64" width="15.87" height="10.33" fill="#4575b4" shape-rendering="crispEdges"/>
<rect x="347.81" y="117.64" width="15.87" height="10.33" fill="#bbdfee" shape-rendering="crispEdges"/>
<rect x="363.68" y="117.64" width="15.87" height="10.33" fill="#bbdfee" shape-rendering="crispEdges"/>
<rect x="379.55" y="117.64" width="15.87" height="10.33" fill="#7bb1d4" shape-rendering="crispEdges"/>
<rect x="395.42" y="117.64" width="15.87" height="10.33" fill="#f6784a" shape-rendering="crispEdges"/>
<rect x="411.29" y="117.64" width="15.87" height="10.33" fill="#d73027" shape-rendering="crispEdges"/>
<rect x="427.16" y="117.64" width="15.87" height="10.33" fill="#fdbf6f" shape-rendering="crispEdges"/>
<rect x="300.20" y="127.97" width="15.87" height="10.33" fill="#bbdfee" shape-rendering="crispEdges"/>
<rect x="316.07" y="127.97" width="15.87" height="10.33" fill="#bbdfee" shape-rendering="crispEdges"/>
<rect x="331.94" y="127.97" width="15.87" height="10.33" fill="#7bb1d4" shape-rendering="crispEdges"/>
<rect x="347.81" y="127.97" width="15.87" height="10.33" fill="#7bb1d4" shape-rendering="crispEdges"/>
<rect x="363.68" y="127.97" width="15.87" height="10.33" fill="#7bb1d4" shape-rendering="crispEdges"/>
<rect x="379.55" y="127.97" width="15.87" height="10.33" fill="#7bb1d4" shape-rendering="crispEdges"/>
<rect x="395.42" y="127.97" width="15.87" height="10.33" fill="#d73027" shape-rendering="crispEdges"/>
<rect x="411.29" y="127.97" width="15.87" height="10.33" fill="#d73027" shape-rendering="crispEdges"/>
<rect x="427.16" y="127.97" width="15.87" height="10.33" fill="#fdbf6f" shape-rendering="crispEdges"/>
<rect x="300.20" y="138.30" width="15.87" height="10.33" fill="#7bb1d4" shape-rendering="crispEdges"/>
<rect x="316.07" y="138.30" width="15.87" height="10.33" fill="#7bb1d4" shape-rendering="crispEdges"/>
<rect x="331.94" y="138.30" width="15.87" height="10.33" fill="#bbdfee" shape-rendering="crispEdges"/>
<rect x="347.81" y="138.30" width="15.87" height="10.33" fill="#7bb1d4" shape-rendering="crispEdges"/>
<rect x="363.68" y="138.30" width="15.87" height="10.33" fill="#bbdfee" shape-rendering="crispEdges"/>
<rect x="379.55" y="138.30" width="15.87" height="10.33" fill="#4575b4" shape-rendering="crispEdges"/>
<rect x="395.42" y="138.30" width="15.87" height="10.33" fill="#d73027" shape-rendering="crispEdges"/>
<rect x="411.29" y="138.30" width="15.87" height="10.33" fill="#d73027" shape-rendering="crispEdges"/>
<rect x="427.16" y="138.30" width="15.87" height="10.33" fill="#f1e9c4" shape-rendering="crispEdges"/>
<rect x="300.20" y="148.63" width="15.87" height="10.33" fill="#7bb1d4" shape-rendering="crispEdges"/>
<rect x="316.07" y="148.63" width="15.87" height="10.33" fill="#7bb1d4" shape-rendering="crispEdges"/>
<rect x="331.94" y="148.63" width="15.87" height="10.33" fill="#7bb1d4" shape-rendering="crispEdges"/>
<rect x="347.81" y="148.63" width="15.87" height="10.33" fill="#7bb1d4" shape-rendering="crispEdges"/>
<rect x="363.68" y="148.63" width="15.87" height="10.33" fill="#bbdfee" shape-rendering="crispEdges"/>
<rect x="379.55" y="148.63" width="15.87" height="10.33" fill="#7bb1d4" shape-rendering="crispEdges"/>
<rect x="395.42" y="148.63" width="15.87" height="10.33" fill="#f6784a" shape-rendering="crispEdges"/>
<rect x="411.29" y="148.63" width="15.87" height="10.33" fill="#f6784a" shape-rendering="crispEdges"/>
<rect x="427.16" y="148.63" width="15.87" height="10.33" fill="#d73027" shape-rendering="crispEdges"/>
<rect x="300.20" y="158.96" width="15.87" height="10.33" fill="#bbdfee" shape-rendering="crispEdges"/>
<rect x="316.07" y="158.96" width="15.87" height="10.33" fill="#7bb1d4" shape-rendering="crispEdges"/>
<rect x="331.94" y="158.96" width="15.87" height="10.33" fill="#4575b4" shape-rendering="crispEdges"/>
<rect x="347.81" y="158.96" width="15.87" height="10.33" fill="#7bb1d4" shape-rendering="crispEdges"/>
<rect x="363.68" y="158.96" width="15.87" height="10.33" fill="#7bb1d4" shape-rendering="crispEdges"/>
<rect x="379.55" y="158.96" width="15.87" height="10.33" fill="#7bb1d4" shape-rendering="crispEdges"/>
<rect x="395.42" y="158.96" width="15.87" height="10.33" fill="#f6784a" shape-rendering="crispEdges"/>
<rect x="411.29" y="158.96" width="15.87" height="10.33" fill="#d73027" shape-rendering="crispEdges"/>
<rect x="427.16" y="158.96" width="15.87" height="10.33" fill="#d73027" shape-rendering="crispEdges"/>
<rect x="300.20" y="169.29" width="15.87" height="10.33" fill="#7bb1d4" shape-rendering="crispEdges"/>
<rect x="316.07" y="169.29" width="15.87" height="10.33" fill="#7bb1d4" shape-rendering="crispEdges"/>
<rect x="331.94" y="169.29" width="15.87" height="10.33" fill="#7bb1d4" shape-rendering="crispEdges"/>
<rect x="347.81" y="169.29" width="15.87" height="10.33" fill="#7bb1d4" shape-rendering="crispEdges"/>
<rect x="363.68" y="169.29" width="15.87" height="10.33" fill="#7bb1d4" shape-rendering="crispEdges"/>
<rect x="379.55" y="169.29" width="15.87" height="10.33" fill="#7bb1d4" shape-rendering="crispEdges"/>
<rect x="395.42" y="169.29" width="15.87" height="10.33" fill="#f6784a" shape-rendering="crispEdges"/>
<rect x="411.29" y="169.29" width="15.87" height="10.33" fill="#f6784a" shape-rendering="crispEdges"/>
<rect x="427.16" y="169.29" width="15.87" height="10.33" fill="#d73027" shape-rendering="crispEdges"/>
<rect x="300.20" y="179.62" width="15.87" height="10.33" fill="#f1e9c4" shape-rendering="crispEdges"/>
<rect x="316.07" y="179.62" width="15.87" height="10.33" fill="#bbdfee" shape-rendering="crispEdges"/>
<rect x="331.94" y="179.62" width="15.87" height="10.33" fill="#bbdfee" shape-rendering="crispEdges"/>
<rect x="347.81" y="179.62" width="15.87" height="10.33" fill="#4575b4" shape-rendering="crispEdges"/>
<rect x="363.68" y="179.62" width="15.87" height="10.33" fill="#4575b4" shape-rendering="crispEdges"/>
<rect x="379.55" y="179.62" width="15.87" height="10.33" fill="#4575b4" shape-rendering="crispEdges"/>
<rect x="395.42" y="179.62" width="15.87" height="10.33" fill="#f6784a" shape-rendering="crispEdges"/>
<rect x="411.29" y="179.62" width="15.87" height="10.33" fill="#f6784a" shape-rendering="crispEdges"/>
<rect x="427.16" y="179.62" width="15.87" height="10.33" fill="#f6784a" shape-rendering="crispEdges"/>
<rect x="300.20" y="189.95" width="15.87" height="10.33" fill="#bbdfee" shape-rendering="crispEdges"/>
<rect x="316.07" y="189.95" width="15.87" height="10.33" fill="#bbdfee" shape-rendering="crispEdges"/>
<rect x="331.94" y="189.95" width="15.87" height="10.33" fill="#bbdfee" shape-rendering="crispEdges"/>
<rect x="347.81" y="189.95" width="15.87" height="10.33" fill="#7bb1d4" shape-rendering="crispEdges"/>
<rect x="363.68" y="189.95" width="15.87" height="10.33" fill="#4575b4" shape-rendering="crispEdges"/>
<rect x="379.55" y="189.95" width="15.87" height="10.33" fill="#4575b4" shape-rendering="crispEdges"/>
<rect x="395.42" y="189.95" width="15.87" height="10.33" fill="#f6784a" shape-rendering="crispEdges"/>
<rect x="411.29" y="189.95" width="15.87" height="10.33" fill="#d73027" shape-rendering="crispEdges"/>
<rect x="427.16" y="189.95" width="15.87" height="10.33" fill="#f6784a" shape-rendering="crispEdges"/>
<rect x="300.20" y="25.20" width="47.61" height="7.00" fill="#006400" />
<rect x="347.81" y="25.20" width="47.61" height="7.00" fill="#0000ff" />
<rect x="395.42" y="25.20" width="47.61" height="7.00" fill="#a020f0" />
<text x="0" y="0" font-size="6.3" transform="translate(445.3,42.37) scale(0.88,1)">HACD1</text>
<text x="0" y="0" font-size="6.3" transform="translate(445.3,52.70) scale(0.88,1)">ACSL1</text>
<text x="0" y="0" font-size="6.3" transform="translate(445.3,63.03) scale(0.88,1)">JAK1</text>
<text x="0" y="0" font-size="6.3" transform="translate(445.3,73.36) scale(0.88,1)">SMARCD2</text>
<text x="0" y="0" font-size="6.3" transform="translate(445.3,83.69) scale(0.88,1)">HDAC1</text>
<text x="0" y="0" font-size="6.3" transform="translate(445.3,94.02) scale(0.88,1)">GOT2</text>
<text x="0" y="0" font-size="6.3" transform="translate(445.3,104.34) scale(0.88,1)">NFATC2</text>
<text x="0" y="0" font-size="6.3" transform="translate(445.3,114.67) scale(0.88,1)">HADHA</text>
<text x="0" y="0" font-size="6.3" transform="translate(445.3,125.01) scale(0.88,1)">OTUD1</text>
<text x="0" y="0" font-size="6.3" transform="translate(445.3,135.33) scale(0.88,1)">GLUT3</text>
<text x="0" y="0" font-size="6.3" transform="translate(445.3,145.66) scale(0.88,1)">ULK2</text>
<text x="0" y="0" font-size="6.3" transform="translate(445.3,156.00) scale(0.88,1)">LCK</text>
<text x="0" y="0" font-size="6.3" transform="translate(445.3,166.32) scale(0.88,1)">KLHL28</text>
<text x="0" y="0" font-size="6.3" transform="translate(445.3,176.66) scale(0.88,1)">KLHL15</text>
<text x="0" y="0" font-size="6.3" transform="translate(445.3,186.98) scale(0.88,1)">MAPK6</text>
<text x="0" y="0" font-size="6.3" transform="translate(445.3,197.31) scale(0.88,1)">NLRP3</text>
<text x="0" y="0" font-size="6.7" text-anchor="end" transform="translate(310.24,204) rotate(-90)">DMSO</text>
<text x="0" y="0" font-size="6.7" text-anchor="end" transform="translate(326.11,204) rotate(-90)">DMSO</text>
<text x="0" y="0" font-size="6.7" text-anchor="end" transform="translate(341.98,204) rotate(-90)">DMSO</text>
<text x="0" y="0" font-size="6.7" text-anchor="end" transform="translate(357.85,204) rotate(-90)">PALB</text>
<text x="0" y="0" font-size="6.7" text-anchor="end" transform="translate(373.72,204) rotate(-90)">PALB</text>
<text x="0" y="0" font-size="6.7" text-anchor="end" transform="translate(389.59,204) rotate(-90)">PALB</text>
<text x="0" y="0" font-size="6.7" text-anchor="end" transform="translate(405.46,204) rotate(-90)">DOX</text>
<text x="0" y="0" font-size="6.7" text-anchor="end" transform="translate(421.32,204) rotate(-90)">DOX</text>
<text x="0" y="0" font-size="6.7" text-anchor="end" transform="translate(437.19,204) rotate(-90)">DOX</text>
<rect x="244.00" y="24.00" width="6.70" height="19.70" fill="#4575b4" />
<rect x="250.20" y="24.00" width="6.70" height="19.70" fill="#7bb1d4" />
<rect x="256.40" y="24.00" width="6.70" height="19.70" fill="#bbdfee" />
<rect x="262.60" y="24.00" width="6.70" height="19.70" fill="#f1e9c4" />
<rect x="268.80" y="24.00" width="6.70" height="19.70" fill="#fdbf6f" />
<rect x="275.00" y="24.00" width="6.70" height="19.70" fill="#f6784a" />
<rect x="281.20" y="24.00" width="6.20" height="19.70" fill="#d73027" />
<line x1="244.90" y1="43.80" x2="244.90" y2="46.60" stroke="#333" stroke-width="0.8" />
<line x1="251.30" y1="43.80" x2="251.30" y2="46.60" stroke="#333" stroke-width="0.8" />
<line x1="257.40" y1="43.80" x2="257.40" y2="46.60" stroke="#333" stroke-width="0.8" />
<line x1="263.40" y1="43.80" x2="263.40" y2="46.60" stroke="#333" stroke-width="0.8" />
<line x1="269.20" y1="43.80" x2="269.20" y2="46.60" stroke="#333" stroke-width="0.8" />
<line x1="275.20" y1="43.80" x2="275.20" y2="46.60" stroke="#333" stroke-width="0.8" />
<line x1="281.30" y1="43.80" x2="281.30" y2="46.60" stroke="#333" stroke-width="0.8" />
<line x1="287.20" y1="43.80" x2="287.20" y2="46.60" stroke="#333" stroke-width="0.8" />
<text x="245.00" y="53.70" font-size="5.4" text-anchor="middle" font-weight="normal" fill="#000"  >&#8722;1.5</text>
<text x="263.40" y="53.70" font-size="5.4" text-anchor="middle" font-weight="normal" fill="#000"  >0.0</text>
<text x="275.20" y="53.70" font-size="5.4" text-anchor="middle" font-weight="normal" fill="#000"  >1.0</text>
<text x="287.00" y="53.70" font-size="5.4" text-anchor="middle" font-weight="normal" fill="#000"  >2.0</text>
<text x="7.30" y="17.50" font-size="12.4" text-anchor="start" font-weight="bold" fill="#000"  >A</text>
<text x="229.60" y="17.50" font-size="12.4" text-anchor="start" font-weight="bold" fill="#000"  >B</text>
<text x="7.50" y="250.40" font-size="12.4" text-anchor="start" font-weight="bold" fill="#000"  >C</text>
<text x="7.40" y="454.60" font-size="12.4" text-anchor="start" font-weight="bold" fill="#000"  >D</text>
<text x="7.00" y="600.20" font-size="12.4" text-anchor="start" font-weight="bold" fill="#000"  >E</text>
<line x1="71.45" y1="41.91" x2="71.60" y2="41.91" stroke="#777" stroke-width="0.45"/>
<line x1="71.45" y1="43.78" x2="71.60" y2="43.78" stroke="#777" stroke-width="0.45"/>
<line x1="71.45" y1="41.91" x2="71.45" y2="43.78" stroke="#777" stroke-width="0.45"/>
<line x1="71.38" y1="40.04" x2="71.60" y2="40.04" stroke="#777" stroke-width="0.45"/>
<line x1="71.38" y1="42.84" x2="71.45" y2="42.84" stroke="#777" stroke-width="0.45"/>
<line x1="71.38" y1="40.04" x2="71.38" y2="42.84" stroke="#777" stroke-width="0.45"/>
<line x1="71.31" y1="38.17" x2="71.60" y2="38.17" stroke="#777" stroke-width="0.45"/>
<line x1="71.31" y1="41.44" x2="71.38" y2="41.44" stroke="#777" stroke-width="0.45"/>
<line x1="71.31" y1="38.17" x2="71.31" y2="41.44" stroke="#777" stroke-width="0.45"/>
<line x1="71.17" y1="36.30" x2="71.60" y2="36.30" stroke="#777" stroke-width="0.45"/>
<line x1="71.17" y1="39.81" x2="71.31" y2="39.81" stroke="#777" stroke-width="0.45"/>
<line x1="71.17" y1="36.30" x2="71.17" y2="39.81" stroke="#777" stroke-width="0.45"/>
<line x1="71.07" y1="34.43" x2="71.60" y2="34.43" stroke="#777" stroke-width="0.45"/>
<line x1="71.07" y1="38.05" x2="71.17" y2="38.05" stroke="#777" stroke-width="0.45"/>
<line x1="71.07" y1="34.43" x2="71.07" y2="38.05" stroke="#777" stroke-width="0.45"/>
<line x1="70.86" y1="45.64" x2="71.60" y2="45.64" stroke="#777" stroke-width="0.45"/>
<line x1="70.86" y1="47.51" x2="71.60" y2="47.51" stroke="#777" stroke-width="0.45"/>
<line x1="70.86" y1="45.64" x2="70.86" y2="47.51" stroke="#777" stroke-width="0.45"/>
<line x1="70.41" y1="36.24" x2="71.07" y2="36.24" stroke="#777" stroke-width="0.45"/>
<line x1="70.41" y1="46.58" x2="70.86" y2="46.58" stroke="#777" stroke-width="0.45"/>
<line x1="70.41" y1="36.24" x2="70.41" y2="46.58" stroke="#777" stroke-width="0.45"/>
<line x1="71.34" y1="49.38" x2="71.60" y2="49.38" stroke="#777" stroke-width="0.45"/>
<line x1="71.34" y1="51.25" x2="71.60" y2="51.25" stroke="#777" stroke-width="0.45"/>
<line x1="71.34" y1="49.38" x2="71.34" y2="51.25" stroke="#777" stroke-width="0.45"/>
<line x1="71.32" y1="53.12" x2="71.60" y2="53.12" stroke="#777" stroke-width="0.45"/>
<line x1="71.32" y1="54.99" x2="71.60" y2="54.99" stroke="#777" stroke-width="0.45"/>
<line x1="71.32" y1="53.12" x2="71.32" y2="54.99" stroke="#777" stroke-width="0.45"/>
<line x1="71.16" y1="50.32" x2="71.34" y2="50.32" stroke="#777" stroke-width="0.45"/>
<line x1="71.16" y1="54.05" x2="71.32" y2="54.05" stroke="#777" stroke-width="0.45"/>
<line x1="71.16" y1="50.32" x2="71.16" y2="54.05" stroke="#777" stroke-width="0.45"/>
<line x1="71.08" y1="56.86" x2="71.60" y2="56.86" stroke="#777" stroke-width="0.45"/>
<line x1="71.08" y1="58.72" x2="71.60" y2="58.72" stroke="#777" stroke-width="0.45"/>
<line x1="71.08" y1="56.86" x2="71.08" y2="58.72" stroke="#777" stroke-width="0.45"/>
<line x1="70.60" y1="52.18" x2="71.16" y2="52.18" stroke="#777" stroke-width="0.45"/>
<line x1="70.60" y1="57.79" x2="71.08" y2="57.79" stroke="#777" stroke-width="0.45"/>
<line x1="70.60" y1="52.18" x2="70.60" y2="57.79" stroke="#777" stroke-width="0.45"/>
<line x1="69.43" y1="41.41" x2="70.41" y2="41.41" stroke="#777" stroke-width="0.45"/>
<line x1="69.43" y1="54.99" x2="70.60" y2="54.99" stroke="#777" stroke-width="0.45"/>
<line x1="69.43" y1="41.41" x2="69.43" y2="54.99" stroke="#777" stroke-width="0.45"/>
<line x1="69.70" y1="62.46" x2="71.60" y2="62.46" stroke="#777" stroke-width="0.45"/>
<line x1="69.70" y1="64.33" x2="71.60" y2="64.33" stroke="#777" stroke-width="0.45"/>
<line x1="69.70" y1="62.46" x2="69.70" y2="64.33" stroke="#777" stroke-width="0.45"/>
<line x1="68.84" y1="60.59" x2="71.60" y2="60.59" stroke="#777" stroke-width="0.45"/>
<line x1="68.84" y1="63.39" x2="69.70" y2="63.39" stroke="#777" stroke-width="0.45"/>
<line x1="68.84" y1="60.59" x2="68.84" y2="63.39" stroke="#777" stroke-width="0.45"/>
<line x1="68.14" y1="48.20" x2="69.43" y2="48.20" stroke="#777" stroke-width="0.45"/>
<line x1="68.14" y1="61.99" x2="68.84" y2="61.99" stroke="#777" stroke-width="0.45"/>
<line x1="68.14" y1="48.20" x2="68.14" y2="61.99" stroke="#777" stroke-width="0.45"/>
<line x1="67.23" y1="66.20" x2="71.60" y2="66.20" stroke="#777" stroke-width="0.45"/>
<line x1="67.23" y1="68.07" x2="71.60" y2="68.07" stroke="#777" stroke-width="0.45"/>
<line x1="67.23" y1="66.20" x2="67.23" y2="68.07" stroke="#777" stroke-width="0.45"/>
<line x1="65.80" y1="55.10" x2="68.14" y2="55.10" stroke="#777" stroke-width="0.45"/>
<line x1="65.80" y1="67.13" x2="67.23" y2="67.13" stroke="#777" stroke-width="0.45"/>
<line x1="65.80" y1="55.10" x2="65.80" y2="67.13" stroke="#777" stroke-width="0.45"/>
<line x1="70.67" y1="69.94" x2="71.60" y2="69.94" stroke="#777" stroke-width="0.45"/>
<line x1="70.67" y1="71.81" x2="71.60" y2="71.81" stroke="#777" stroke-width="0.45"/>
<line x1="70.67" y1="69.94" x2="70.67" y2="71.81" stroke="#777" stroke-width="0.45"/>
<line x1="71.08" y1="73.69" x2="71.60" y2="73.69" stroke="#777" stroke-width="0.45"/>
<line x1="71.08" y1="75.56" x2="71.60" y2="75.56" stroke="#777" stroke-width="0.45"/>
<line x1="71.08" y1="73.69" x2="71.08" y2="75.56" stroke="#777" stroke-width="0.45"/>
<line x1="70.61" y1="74.62" x2="71.08" y2="74.62" stroke="#777" stroke-width="0.45"/>
<line x1="70.61" y1="77.44" x2="71.60" y2="77.44" stroke="#777" stroke-width="0.45"/>
<line x1="70.61" y1="74.62" x2="70.61" y2="77.44" stroke="#777" stroke-width="0.45"/>
<line x1="70.25" y1="70.88" x2="70.67" y2="70.88" stroke="#777" stroke-width="0.45"/>
<line x1="70.25" y1="76.03" x2="70.61" y2="76.03" stroke="#777" stroke-width="0.45"/>
<line x1="70.25" y1="70.88" x2="70.25" y2="76.03" stroke="#777" stroke-width="0.45"/>
<line x1="69.52" y1="73.45" x2="70.25" y2="73.45" stroke="#777" stroke-width="0.45"/>
<line x1="69.52" y1="79.31" x2="71.60" y2="79.31" stroke="#777" stroke-width="0.45"/>
<line x1="69.52" y1="73.45" x2="69.52" y2="79.31" stroke="#777" stroke-width="0.45"/>
<line x1="67.78" y1="81.19" x2="71.60" y2="81.19" stroke="#777" stroke-width="0.45"/>
<line x1="67.78" y1="83.06" x2="71.60" y2="83.06" stroke="#777" stroke-width="0.45"/>
<line x1="67.78" y1="81.19" x2="67.78" y2="83.06" stroke="#777" stroke-width="0.45"/>
<line x1="66.50" y1="76.38" x2="69.52" y2="76.38" stroke="#777" stroke-width="0.45"/>
<line x1="66.50" y1="82.12" x2="67.78" y2="82.12" stroke="#777" stroke-width="0.45"/>
<line x1="66.50" y1="76.38" x2="66.50" y2="82.12" stroke="#777" stroke-width="0.45"/>
<line x1="64.10" y1="61.11" x2="65.80" y2="61.11" stroke="#4a4a4a" stroke-width="0.6"/>
<line x1="64.10" y1="79.25" x2="66.50" y2="79.25" stroke="#4a4a4a" stroke-width="0.6"/>
<line x1="64.10" y1="61.11" x2="64.10" y2="79.25" stroke="#4a4a4a" stroke-width="0.6"/>
<line x1="69.73" y1="87.00" x2="71.60" y2="87.00" stroke="#777" stroke-width="0.45"/>
<line x1="69.73" y1="89.00" x2="71.60" y2="89.00" stroke="#777" stroke-width="0.45"/>
<line x1="69.73" y1="87.00" x2="69.73" y2="89.00" stroke="#777" stroke-width="0.45"/>
<line x1="69.00" y1="85.00" x2="71.60" y2="85.00" stroke="#777" stroke-width="0.45"/>
<line x1="69.00" y1="88.00" x2="69.73" y2="88.00" stroke="#777" stroke-width="0.45"/>
<line x1="69.00" y1="85.00" x2="69.00" y2="88.00" stroke="#777" stroke-width="0.45"/>
<line x1="61.70" y1="70.18" x2="64.10" y2="70.18" stroke="#4a4a4a" stroke-width="0.6"/>
<line x1="61.70" y1="86.50" x2="69.00" y2="86.50" stroke="#4a4a4a" stroke-width="0.6"/>
<line x1="61.70" y1="70.18" x2="61.70" y2="86.50" stroke="#4a4a4a" stroke-width="0.6"/>
<line x1="71.24" y1="90.90" x2="71.60" y2="90.90" stroke="#777" stroke-width="0.45"/>
<line x1="71.24" y1="92.70" x2="71.60" y2="92.70" stroke="#777" stroke-width="0.45"/>
<line x1="71.24" y1="90.90" x2="71.24" y2="92.70" stroke="#777" stroke-width="0.45"/>
<line x1="71.05" y1="91.80" x2="71.24" y2="91.80" stroke="#777" stroke-width="0.45"/>
<line x1="71.05" y1="94.50" x2="71.60" y2="94.50" stroke="#777" stroke-width="0.45"/>
<line x1="71.05" y1="91.80" x2="71.05" y2="94.50" stroke="#777" stroke-width="0.45"/>
<line x1="71.08" y1="96.30" x2="71.60" y2="96.30" stroke="#777" stroke-width="0.45"/>
<line x1="71.08" y1="98.10" x2="71.60" y2="98.10" stroke="#777" stroke-width="0.45"/>
<line x1="71.08" y1="96.30" x2="71.08" y2="98.10" stroke="#777" stroke-width="0.45"/>
<line x1="70.91" y1="93.15" x2="71.05" y2="93.15" stroke="#777" stroke-width="0.45"/>
<line x1="70.91" y1="97.20" x2="71.08" y2="97.20" stroke="#777" stroke-width="0.45"/>
<line x1="70.91" y1="93.15" x2="70.91" y2="97.20" stroke="#777" stroke-width="0.45"/>
<line x1="70.75" y1="99.90" x2="71.60" y2="99.90" stroke="#777" stroke-width="0.45"/>
<line x1="70.75" y1="101.70" x2="71.60" y2="101.70" stroke="#777" stroke-width="0.45"/>
<line x1="70.75" y1="99.90" x2="70.75" y2="101.70" stroke="#777" stroke-width="0.45"/>
<line x1="69.90" y1="95.17" x2="70.91" y2="95.17" stroke="#777" stroke-width="0.45"/>
<line x1="69.90" y1="100.80" x2="70.75" y2="100.80" stroke="#777" stroke-width="0.45"/>
<line x1="69.90" y1="95.17" x2="69.90" y2="100.80" stroke="#777" stroke-width="0.45"/>
<line x1="69.78" y1="103.50" x2="71.60" y2="103.50" stroke="#777" stroke-width="0.45"/>
<line x1="69.78" y1="105.30" x2="71.60" y2="105.30" stroke="#777" stroke-width="0.45"/>
<line x1="69.78" y1="103.50" x2="69.78" y2="105.30" stroke="#777" stroke-width="0.45"/>
<line x1="69.26" y1="97.99" x2="69.90" y2="97.99" stroke="#777" stroke-width="0.45"/>
<line x1="69.26" y1="104.40" x2="69.78" y2="104.40" stroke="#777" stroke-width="0.45"/>
<line x1="69.26" y1="97.99" x2="69.26" y2="104.40" stroke="#777" stroke-width="0.45"/>
<line x1="67.00" y1="101.19" x2="69.26" y2="101.19" stroke="#777" stroke-width="0.45"/>
<line x1="67.00" y1="107.10" x2="71.60" y2="107.10" stroke="#777" stroke-width="0.45"/>
<line x1="67.00" y1="101.19" x2="67.00" y2="107.10" stroke="#777" stroke-width="0.45"/>
<line x1="57.30" y1="78.34" x2="61.70" y2="78.34" stroke="#4a4a4a" stroke-width="0.6"/>
<line x1="57.30" y1="104.15" x2="67.00" y2="104.15" stroke="#4a4a4a" stroke-width="0.6"/>
<line x1="57.30" y1="78.34" x2="57.30" y2="104.15" stroke="#4a4a4a" stroke-width="0.6"/>
<line x1="69.30" y1="109.25" x2="71.60" y2="109.25" stroke="#777" stroke-width="0.45"/>
<line x1="69.30" y1="110.08" x2="71.60" y2="110.08" stroke="#777" stroke-width="0.45"/>
<line x1="69.30" y1="109.25" x2="69.30" y2="110.08" stroke="#777" stroke-width="0.45"/>
<line x1="66.35" y1="108.42" x2="71.60" y2="108.42" stroke="#777" stroke-width="0.45"/>
<line x1="66.35" y1="109.67" x2="69.30" y2="109.67" stroke="#777" stroke-width="0.45"/>
<line x1="66.35" y1="108.42" x2="66.35" y2="109.67" stroke="#777" stroke-width="0.45"/>
<line x1="67.98" y1="110.92" x2="71.60" y2="110.92" stroke="#777" stroke-width="0.45"/>
<line x1="67.98" y1="111.75" x2="71.60" y2="111.75" stroke="#777" stroke-width="0.45"/>
<line x1="67.98" y1="110.92" x2="67.98" y2="111.75" stroke="#777" stroke-width="0.45"/>
<line x1="65.74" y1="111.33" x2="67.98" y2="111.33" stroke="#777" stroke-width="0.45"/>
<line x1="65.74" y1="112.58" x2="71.60" y2="112.58" stroke="#777" stroke-width="0.45"/>
<line x1="65.74" y1="111.33" x2="65.74" y2="112.58" stroke="#777" stroke-width="0.45"/>
<line x1="63.50" y1="109.04" x2="66.35" y2="109.04" stroke="#777" stroke-width="0.45"/>
<line x1="63.50" y1="111.96" x2="65.74" y2="111.96" stroke="#777" stroke-width="0.45"/>
<line x1="63.50" y1="109.04" x2="63.50" y2="111.96" stroke="#777" stroke-width="0.45"/>
<line x1="49.10" y1="91.24" x2="57.30" y2="91.24" stroke="#4a4a4a" stroke-width="0.6"/>
<line x1="49.10" y1="110.50" x2="63.50" y2="110.50" stroke="#4a4a4a" stroke-width="0.6"/>
<line x1="49.10" y1="91.24" x2="49.10" y2="110.50" stroke="#4a4a4a" stroke-width="0.6"/>
<line x1="71.41" y1="117.64" x2="71.60" y2="117.64" stroke="#777" stroke-width="0.45"/>
<line x1="71.41" y1="119.50" x2="71.60" y2="119.50" stroke="#777" stroke-width="0.45"/>
<line x1="71.41" y1="117.64" x2="71.41" y2="119.50" stroke="#777" stroke-width="0.45"/>
<line x1="71.24" y1="115.79" x2="71.60" y2="115.79" stroke="#777" stroke-width="0.45"/>
<line x1="71.24" y1="118.57" x2="71.41" y2="118.57" stroke="#777" stroke-width="0.45"/>
<line x1="71.24" y1="115.79" x2="71.24" y2="118.57" stroke="#777" stroke-width="0.45"/>
<line x1="71.08" y1="113.93" x2="71.60" y2="113.93" stroke="#777" stroke-width="0.45"/>
<line x1="71.08" y1="117.18" x2="71.24" y2="117.18" stroke="#777" stroke-width="0.45"/>
<line x1="71.08" y1="113.93" x2="71.08" y2="117.18" stroke="#777" stroke-width="0.45"/>
<line x1="71.30" y1="121.36" x2="71.60" y2="121.36" stroke="#777" stroke-width="0.45"/>
<line x1="71.30" y1="123.21" x2="71.60" y2="123.21" stroke="#777" stroke-width="0.45"/>
<line x1="71.30" y1="121.36" x2="71.30" y2="123.21" stroke="#777" stroke-width="0.45"/>
<line x1="71.17" y1="122.29" x2="71.30" y2="122.29" stroke="#777" stroke-width="0.45"/>
<line x1="71.17" y1="125.07" x2="71.60" y2="125.07" stroke="#777" stroke-width="0.45"/>
<line x1="71.17" y1="122.29" x2="71.17" y2="125.07" stroke="#777" stroke-width="0.45"/>
<line x1="71.06" y1="123.68" x2="71.17" y2="123.68" stroke="#777" stroke-width="0.45"/>
<line x1="71.06" y1="126.93" x2="71.60" y2="126.93" stroke="#777" stroke-width="0.45"/>
<line x1="71.06" y1="123.68" x2="71.06" y2="126.93" stroke="#777" stroke-width="0.45"/>
<line x1="70.67" y1="115.55" x2="71.08" y2="115.55" stroke="#777" stroke-width="0.45"/>
<line x1="70.67" y1="125.30" x2="71.06" y2="125.30" stroke="#777" stroke-width="0.45"/>
<line x1="70.67" y1="115.55" x2="70.67" y2="125.30" stroke="#777" stroke-width="0.45"/>
<line x1="70.84" y1="130.64" x2="71.60" y2="130.64" stroke="#777" stroke-width="0.45"/>
<line x1="70.84" y1="132.50" x2="71.60" y2="132.50" stroke="#777" stroke-width="0.45"/>
<line x1="70.84" y1="130.64" x2="70.84" y2="132.50" stroke="#777" stroke-width="0.45"/>
<line x1="69.89" y1="128.79" x2="71.60" y2="128.79" stroke="#777" stroke-width="0.45"/>
<line x1="69.89" y1="131.57" x2="70.84" y2="131.57" stroke="#777" stroke-width="0.45"/>
<line x1="69.89" y1="128.79" x2="69.89" y2="131.57" stroke="#777" stroke-width="0.45"/>
<line x1="69.32" y1="120.43" x2="70.67" y2="120.43" stroke="#777" stroke-width="0.45"/>
<line x1="69.32" y1="130.18" x2="69.89" y2="130.18" stroke="#777" stroke-width="0.45"/>
<line x1="69.32" y1="120.43" x2="69.32" y2="130.18" stroke="#777" stroke-width="0.45"/>
<line x1="70.14" y1="134.36" x2="71.60" y2="134.36" stroke="#777" stroke-width="0.45"/>
<line x1="70.14" y1="136.21" x2="71.60" y2="136.21" stroke="#777" stroke-width="0.45"/>
<line x1="70.14" y1="134.36" x2="70.14" y2="136.21" stroke="#777" stroke-width="0.45"/>
<line x1="68.35" y1="135.29" x2="70.14" y2="135.29" stroke="#777" stroke-width="0.45"/>
<line x1="68.35" y1="138.07" x2="71.60" y2="138.07" stroke="#777" stroke-width="0.45"/>
<line x1="68.35" y1="135.29" x2="68.35" y2="138.07" stroke="#777" stroke-width="0.45"/>
<line x1="66.12" y1="125.30" x2="69.32" y2="125.30" stroke="#777" stroke-width="0.45"/>
<line x1="66.12" y1="136.68" x2="68.35" y2="136.68" stroke="#777" stroke-width="0.45"/>
<line x1="66.12" y1="125.30" x2="66.12" y2="136.68" stroke="#777" stroke-width="0.45"/>
<line x1="70.39" y1="139.93" x2="71.60" y2="139.93" stroke="#777" stroke-width="0.45"/>
<line x1="70.39" y1="141.79" x2="71.60" y2="141.79" stroke="#777" stroke-width="0.45"/>
<line x1="70.39" y1="139.93" x2="70.39" y2="141.79" stroke="#777" stroke-width="0.45"/>
<line x1="70.52" y1="143.64" x2="71.60" y2="143.64" stroke="#777" stroke-width="0.45"/>
<line x1="70.52" y1="145.50" x2="71.60" y2="145.50" stroke="#777" stroke-width="0.45"/>
<line x1="70.52" y1="143.64" x2="70.52" y2="145.50" stroke="#777" stroke-width="0.45"/>
<line x1="69.72" y1="140.86" x2="70.39" y2="140.86" stroke="#777" stroke-width="0.45"/>
<line x1="69.72" y1="144.57" x2="70.52" y2="144.57" stroke="#777" stroke-width="0.45"/>
<line x1="69.72" y1="140.86" x2="69.72" y2="144.57" stroke="#777" stroke-width="0.45"/>
<line x1="70.61" y1="147.36" x2="71.60" y2="147.36" stroke="#777" stroke-width="0.45"/>
<line x1="70.61" y1="149.21" x2="71.60" y2="149.21" stroke="#777" stroke-width="0.45"/>
<line x1="70.61" y1="147.36" x2="70.61" y2="149.21" stroke="#777" stroke-width="0.45"/>
<line x1="69.39" y1="148.29" x2="70.61" y2="148.29" stroke="#777" stroke-width="0.45"/>
<line x1="69.39" y1="151.07" x2="71.60" y2="151.07" stroke="#777" stroke-width="0.45"/>
<line x1="69.39" y1="148.29" x2="69.39" y2="151.07" stroke="#777" stroke-width="0.45"/>
<line x1="68.35" y1="142.71" x2="69.72" y2="142.71" stroke="#777" stroke-width="0.45"/>
<line x1="68.35" y1="149.68" x2="69.39" y2="149.68" stroke="#777" stroke-width="0.45"/>
<line x1="68.35" y1="142.71" x2="68.35" y2="149.68" stroke="#777" stroke-width="0.45"/>
<line x1="64.50" y1="130.99" x2="66.12" y2="130.99" stroke="#777" stroke-width="0.45"/>
<line x1="64.50" y1="146.20" x2="68.35" y2="146.20" stroke="#777" stroke-width="0.45"/>
<line x1="64.50" y1="130.99" x2="64.50" y2="146.20" stroke="#777" stroke-width="0.45"/>
<line x1="71.22" y1="156.50" x2="71.60" y2="156.50" stroke="#777" stroke-width="0.45"/>
<line x1="71.22" y1="158.30" x2="71.60" y2="158.30" stroke="#777" stroke-width="0.45"/>
<line x1="71.22" y1="156.50" x2="71.22" y2="158.30" stroke="#777" stroke-width="0.45"/>
<line x1="71.04" y1="154.70" x2="71.60" y2="154.70" stroke="#777" stroke-width="0.45"/>
<line x1="71.04" y1="157.40" x2="71.22" y2="157.40" stroke="#777" stroke-width="0.45"/>
<line x1="71.04" y1="154.70" x2="71.04" y2="157.40" stroke="#777" stroke-width="0.45"/>
<line x1="70.46" y1="156.05" x2="71.04" y2="156.05" stroke="#777" stroke-width="0.45"/>
<line x1="70.46" y1="160.10" x2="71.60" y2="160.10" stroke="#777" stroke-width="0.45"/>
<line x1="70.46" y1="156.05" x2="70.46" y2="160.10" stroke="#777" stroke-width="0.45"/>
<line x1="70.76" y1="161.90" x2="71.60" y2="161.90" stroke="#777" stroke-width="0.45"/>
<line x1="70.76" y1="163.70" x2="71.60" y2="163.70" stroke="#777" stroke-width="0.45"/>
<line x1="70.76" y1="161.90" x2="70.76" y2="163.70" stroke="#777" stroke-width="0.45"/>
<line x1="71.29" y1="165.50" x2="71.60" y2="165.50" stroke="#777" stroke-width="0.45"/>
<line x1="71.29" y1="167.30" x2="71.60" y2="167.30" stroke="#777" stroke-width="0.45"/>
<line x1="71.29" y1="165.50" x2="71.29" y2="167.30" stroke="#777" stroke-width="0.45"/>
<line x1="70.93" y1="166.40" x2="71.29" y2="166.40" stroke="#777" stroke-width="0.45"/>
<line x1="70.93" y1="169.10" x2="71.60" y2="169.10" stroke="#777" stroke-width="0.45"/>
<line x1="70.93" y1="166.40" x2="70.93" y2="169.10" stroke="#777" stroke-width="0.45"/>
<line x1="70.38" y1="162.80" x2="70.76" y2="162.80" stroke="#777" stroke-width="0.45"/>
<line x1="70.38" y1="167.75" x2="70.93" y2="167.75" stroke="#777" stroke-width="0.45"/>
<line x1="70.38" y1="162.80" x2="70.38" y2="167.75" stroke="#777" stroke-width="0.45"/>
<line x1="68.86" y1="158.07" x2="70.46" y2="158.07" stroke="#777" stroke-width="0.45"/>
<line x1="68.86" y1="165.28" x2="70.38" y2="165.28" stroke="#777" stroke-width="0.45"/>
<line x1="68.86" y1="158.07" x2="68.86" y2="165.28" stroke="#777" stroke-width="0.45"/>
<line x1="66.00" y1="152.90" x2="71.60" y2="152.90" stroke="#777" stroke-width="0.45"/>
<line x1="66.00" y1="161.68" x2="68.86" y2="161.68" stroke="#777" stroke-width="0.45"/>
<line x1="66.00" y1="152.90" x2="66.00" y2="161.68" stroke="#777" stroke-width="0.45"/>
<line x1="63.10" y1="138.59" x2="64.50" y2="138.59" stroke="#4a4a4a" stroke-width="0.6"/>
<line x1="63.10" y1="157.29" x2="66.00" y2="157.29" stroke="#4a4a4a" stroke-width="0.6"/>
<line x1="63.10" y1="138.59" x2="63.10" y2="157.29" stroke="#4a4a4a" stroke-width="0.6"/>
<line x1="69.59" y1="170.88" x2="71.60" y2="170.88" stroke="#777" stroke-width="0.45"/>
<line x1="69.59" y1="172.62" x2="71.60" y2="172.62" stroke="#777" stroke-width="0.45"/>
<line x1="69.59" y1="170.88" x2="69.59" y2="172.62" stroke="#777" stroke-width="0.45"/>
<line x1="67.86" y1="171.75" x2="69.59" y2="171.75" stroke="#777" stroke-width="0.45"/>
<line x1="67.86" y1="174.38" x2="71.60" y2="174.38" stroke="#777" stroke-width="0.45"/>
<line x1="67.86" y1="171.75" x2="67.86" y2="174.38" stroke="#777" stroke-width="0.45"/>
<line x1="66.73" y1="173.06" x2="67.86" y2="173.06" stroke="#777" stroke-width="0.45"/>
<line x1="66.73" y1="176.12" x2="71.60" y2="176.12" stroke="#777" stroke-width="0.45"/>
<line x1="66.73" y1="173.06" x2="66.73" y2="176.12" stroke="#777" stroke-width="0.45"/>
<line x1="69.33" y1="179.62" x2="71.60" y2="179.62" stroke="#777" stroke-width="0.45"/>
<line x1="69.33" y1="181.38" x2="71.60" y2="181.38" stroke="#777" stroke-width="0.45"/>
<line x1="69.33" y1="179.62" x2="69.33" y2="181.38" stroke="#777" stroke-width="0.45"/>
<line x1="68.05" y1="180.50" x2="69.33" y2="180.50" stroke="#777" stroke-width="0.45"/>
<line x1="68.05" y1="183.12" x2="71.60" y2="183.12" stroke="#777" stroke-width="0.45"/>
<line x1="68.05" y1="180.50" x2="68.05" y2="183.12" stroke="#777" stroke-width="0.45"/>
<line x1="65.13" y1="177.88" x2="71.60" y2="177.88" stroke="#777" stroke-width="0.45"/>
<line x1="65.13" y1="181.81" x2="68.05" y2="181.81" stroke="#777" stroke-width="0.45"/>
<line x1="65.13" y1="177.88" x2="65.13" y2="181.81" stroke="#777" stroke-width="0.45"/>
<line x1="63.00" y1="174.59" x2="66.73" y2="174.59" stroke="#777" stroke-width="0.45"/>
<line x1="63.00" y1="179.84" x2="65.13" y2="179.84" stroke="#777" stroke-width="0.45"/>
<line x1="63.00" y1="174.59" x2="63.00" y2="179.84" stroke="#777" stroke-width="0.45"/>
<line x1="69.83" y1="184.88" x2="71.60" y2="184.88" stroke="#777" stroke-width="0.45"/>
<line x1="69.83" y1="186.62" x2="71.60" y2="186.62" stroke="#777" stroke-width="0.45"/>
<line x1="69.83" y1="184.88" x2="69.83" y2="186.62" stroke="#777" stroke-width="0.45"/>
<line x1="68.83" y1="185.75" x2="69.83" y2="185.75" stroke="#777" stroke-width="0.45"/>
<line x1="68.83" y1="188.38" x2="71.60" y2="188.38" stroke="#777" stroke-width="0.45"/>
<line x1="68.83" y1="185.75" x2="68.83" y2="188.38" stroke="#777" stroke-width="0.45"/>
<line x1="66.23" y1="187.06" x2="68.83" y2="187.06" stroke="#777" stroke-width="0.45"/>
<line x1="66.23" y1="190.12" x2="71.60" y2="190.12" stroke="#777" stroke-width="0.45"/>
<line x1="66.23" y1="187.06" x2="66.23" y2="190.12" stroke="#777" stroke-width="0.45"/>
<line x1="69.58" y1="191.88" x2="71.60" y2="191.88" stroke="#777" stroke-width="0.45"/>
<line x1="69.58" y1="193.62" x2="71.60" y2="193.62" stroke="#777" stroke-width="0.45"/>
<line x1="69.58" y1="191.88" x2="69.58" y2="193.62" stroke="#777" stroke-width="0.45"/>
<line x1="68.69" y1="192.75" x2="69.58" y2="192.75" stroke="#777" stroke-width="0.45"/>
<line x1="68.69" y1="195.38" x2="71.60" y2="195.38" stroke="#777" stroke-width="0.45"/>
<line x1="68.69" y1="192.75" x2="68.69" y2="195.38" stroke="#777" stroke-width="0.45"/>
<line x1="67.64" y1="194.06" x2="68.69" y2="194.06" stroke="#777" stroke-width="0.45"/>
<line x1="67.64" y1="197.12" x2="71.60" y2="197.12" stroke="#777" stroke-width="0.45"/>
<line x1="67.64" y1="194.06" x2="67.64" y2="197.12" stroke="#777" stroke-width="0.45"/>
<line x1="63.00" y1="188.59" x2="66.23" y2="188.59" stroke="#777" stroke-width="0.45"/>
<line x1="63.00" y1="195.59" x2="67.64" y2="195.59" stroke="#777" stroke-width="0.45"/>
<line x1="63.00" y1="188.59" x2="63.00" y2="195.59" stroke="#777" stroke-width="0.45"/>
<line x1="61.20" y1="177.22" x2="63.00" y2="177.22" stroke="#4a4a4a" stroke-width="0.6"/>
<line x1="61.20" y1="192.09" x2="63.00" y2="192.09" stroke="#4a4a4a" stroke-width="0.6"/>
<line x1="61.20" y1="177.22" x2="61.20" y2="192.09" stroke="#4a4a4a" stroke-width="0.6"/>
<line x1="57.50" y1="147.94" x2="63.10" y2="147.94" stroke="#4a4a4a" stroke-width="0.6"/>
<line x1="57.50" y1="184.66" x2="61.20" y2="184.66" stroke="#4a4a4a" stroke-width="0.6"/>
<line x1="57.50" y1="147.94" x2="57.50" y2="184.66" stroke="#4a4a4a" stroke-width="0.6"/>
<line x1="24.50" y1="100.87" x2="49.10" y2="100.87" stroke="#4a4a4a" stroke-width="0.6"/>
<line x1="24.50" y1="166.30" x2="57.50" y2="166.30" stroke="#4a4a4a" stroke-width="0.6"/>
<line x1="24.50" y1="100.87" x2="24.50" y2="166.30" stroke="#4a4a4a" stroke-width="0.6"/>
<line x1="299.50" y1="40.16" x2="300.00" y2="40.16" stroke="#8a8a8a" stroke-width="0.5"/>
<line x1="299.50" y1="50.50" x2="300.00" y2="50.50" stroke="#8a8a8a" stroke-width="0.5"/>
<line x1="299.50" y1="40.16" x2="299.50" y2="50.50" stroke="#8a8a8a" stroke-width="0.5"/>
<line x1="298.20" y1="45.33" x2="299.50" y2="45.33" stroke="#8a8a8a" stroke-width="0.5"/>
<line x1="298.20" y1="60.83" x2="300.00" y2="60.83" stroke="#8a8a8a" stroke-width="0.5"/>
<line x1="298.20" y1="45.33" x2="298.20" y2="60.83" stroke="#8a8a8a" stroke-width="0.5"/>
<line x1="298.70" y1="91.81" x2="300.00" y2="91.81" stroke="#8a8a8a" stroke-width="0.5"/>
<line x1="298.70" y1="102.14" x2="300.00" y2="102.14" stroke="#8a8a8a" stroke-width="0.5"/>
<line x1="298.70" y1="91.81" x2="298.70" y2="102.14" stroke="#8a8a8a" stroke-width="0.5"/>
<line x1="298.00" y1="81.48" x2="300.00" y2="81.48" stroke="#8a8a8a" stroke-width="0.5"/>
<line x1="298.00" y1="96.98" x2="298.70" y2="96.98" stroke="#8a8a8a" stroke-width="0.5"/>
<line x1="298.00" y1="81.48" x2="298.00" y2="96.98" stroke="#8a8a8a" stroke-width="0.5"/>
<line x1="297.30" y1="71.16" x2="300.00" y2="71.16" stroke="#8a8a8a" stroke-width="0.5"/>
<line x1="297.30" y1="89.23" x2="298.00" y2="89.23" stroke="#8a8a8a" stroke-width="0.5"/>
<line x1="297.30" y1="71.16" x2="297.30" y2="89.23" stroke="#8a8a8a" stroke-width="0.5"/>
<line x1="296.80" y1="53.08" x2="298.20" y2="53.08" stroke="#8a8a8a" stroke-width="0.5"/>
<line x1="296.80" y1="80.19" x2="297.30" y2="80.19" stroke="#8a8a8a" stroke-width="0.5"/>
<line x1="296.80" y1="53.08" x2="296.80" y2="80.19" stroke="#8a8a8a" stroke-width="0.5"/>
<line x1="294.90" y1="66.64" x2="296.80" y2="66.64" stroke="#4a4a4a" stroke-width="0.6"/>
<line x1="294.90" y1="112.47" x2="300.00" y2="112.47" stroke="#4a4a4a" stroke-width="0.6"/>
<line x1="294.90" y1="66.64" x2="294.90" y2="112.47" stroke="#4a4a4a" stroke-width="0.6"/>
<line x1="298.40" y1="133.13" x2="300.00" y2="133.13" stroke="#8a8a8a" stroke-width="0.5"/>
<line x1="298.40" y1="143.47" x2="300.00" y2="143.47" stroke="#8a8a8a" stroke-width="0.5"/>
<line x1="298.40" y1="133.13" x2="298.40" y2="143.47" stroke="#8a8a8a" stroke-width="0.5"/>
<line x1="297.20" y1="122.81" x2="300.00" y2="122.81" stroke="#8a8a8a" stroke-width="0.5"/>
<line x1="297.20" y1="138.30" x2="298.40" y2="138.30" stroke="#8a8a8a" stroke-width="0.5"/>
<line x1="297.20" y1="122.81" x2="297.20" y2="138.30" stroke="#8a8a8a" stroke-width="0.5"/>
<line x1="298.50" y1="153.80" x2="300.00" y2="153.80" stroke="#8a8a8a" stroke-width="0.5"/>
<line x1="298.50" y1="164.12" x2="300.00" y2="164.12" stroke="#8a8a8a" stroke-width="0.5"/>
<line x1="298.50" y1="153.80" x2="298.50" y2="164.12" stroke="#8a8a8a" stroke-width="0.5"/>
<line x1="297.50" y1="158.96" x2="298.50" y2="158.96" stroke="#8a8a8a" stroke-width="0.5"/>
<line x1="297.50" y1="174.46" x2="300.00" y2="174.46" stroke="#8a8a8a" stroke-width="0.5"/>
<line x1="297.50" y1="158.96" x2="297.50" y2="174.46" stroke="#8a8a8a" stroke-width="0.5"/>
<line x1="297.80" y1="184.78" x2="300.00" y2="184.78" stroke="#8a8a8a" stroke-width="0.5"/>
<line x1="297.80" y1="195.12" x2="300.00" y2="195.12" stroke="#8a8a8a" stroke-width="0.5"/>
<line x1="297.80" y1="184.78" x2="297.80" y2="195.12" stroke="#8a8a8a" stroke-width="0.5"/>
<line x1="295.20" y1="166.71" x2="297.50" y2="166.71" stroke="#8a8a8a" stroke-width="0.5"/>
<line x1="295.20" y1="189.95" x2="297.80" y2="189.95" stroke="#8a8a8a" stroke-width="0.5"/>
<line x1="295.20" y1="166.71" x2="295.20" y2="189.95" stroke="#8a8a8a" stroke-width="0.5"/>
<line x1="294.70" y1="130.55" x2="297.20" y2="130.55" stroke="#8a8a8a" stroke-width="0.5"/>
<line x1="294.70" y1="178.33" x2="295.20" y2="178.33" stroke="#8a8a8a" stroke-width="0.5"/>
<line x1="294.70" y1="130.55" x2="294.70" y2="178.33" stroke="#8a8a8a" stroke-width="0.5"/>
<line x1="254.80" y1="89.56" x2="294.90" y2="89.56" stroke="#4a4a4a" stroke-width="0.6"/>
<line x1="254.80" y1="154.44" x2="294.70" y2="154.44" stroke="#4a4a4a" stroke-width="0.6"/>
<line x1="254.80" y1="89.56" x2="254.80" y2="154.44" stroke="#4a4a4a" stroke-width="0.6"/>
<text x="88.95" y="263.30" font-size="7.5" text-anchor="middle" font-weight="normal" fill="#000" >HDAC1</text>
<rect x="57.90" y="293.20" width="15.80" height="28.80" fill="#c9c6cc" />
<line x1="65.50" y1="322.00" x2="65.50" y2="325.00" stroke="#000" stroke-width="1.0" />
<rect x="81.00" y="290.32" width="15.30" height="31.68" fill="#a8022f" />
<line x1="88.65" y1="290.32" x2="88.65" y2="289.46" stroke="#111" stroke-width="0.8" />
<line x1="85.15" y1="289.46" x2="92.15" y2="289.46" stroke="#111" stroke-width="0.8" />
<line x1="88.50" y1="322.00" x2="88.50" y2="325.00" stroke="#000" stroke-width="1.0" />
<rect x="104.00" y="307.60" width="15.20" height="14.40" fill="#2b4c8b" />
<line x1="111.60" y1="307.60" x2="111.60" y2="306.74" stroke="#111" stroke-width="0.8" />
<line x1="108.10" y1="306.74" x2="115.10" y2="306.74" stroke="#111" stroke-width="0.8" />
<line x1="111.50" y1="322.00" x2="111.50" y2="325.00" stroke="#000" stroke-width="1.0" />
<line x1="54.50" y1="275.00" x2="54.50" y2="322.50" stroke="#000" stroke-width="1.0" />
<line x1="54.00" y1="322.50" x2="122.80" y2="322.50" stroke="#000" stroke-width="1.0" />
<line x1="51.00" y1="322.50" x2="54.50" y2="322.50" stroke="#000" stroke-width="1.0" />
<text x="48.10" y="323.60" font-size="5.5" text-anchor="end" font-weight="normal" fill="#000" >0.0</text>
<line x1="51.00" y1="307.50" x2="54.50" y2="307.50" stroke="#000" stroke-width="1.0" />
<text x="48.10" y="309.20" font-size="5.5" text-anchor="end" font-weight="normal" fill="#000" >0.5</text>
<line x1="51.00" y1="293.50" x2="54.50" y2="293.50" stroke="#000" stroke-width="1.0" />
<text x="48.10" y="294.80" font-size="5.5" text-anchor="end" font-weight="normal" fill="#000" >1.0</text>
<line x1="51.00" y1="278.50" x2="54.50" y2="278.50" stroke="#000" stroke-width="1.0" />
<text x="48.10" y="280.40" font-size="5.5" text-anchor="end" font-weight="normal" fill="#000" >1.5</text>
<text x="0" y="0" font-size="6.6" text-anchor="middle" transform="translate(24.90,298.50) rotate(-90) scale(0.92,1)">Relative gene</text>
<text x="0" y="0" font-size="6.6" text-anchor="middle" transform="translate(34.30,298.50) rotate(-90) scale(0.92,1)">expression</text>
<text x="65.80" y="333.90" font-size="5.6" text-anchor="middle" font-weight="normal" fill="#222" >DMSO</text>
<text x="88.65" y="333.90" font-size="5.6" text-anchor="middle" font-weight="normal" fill="#222" >PALB</text>
<text x="111.60" y="333.90" font-size="5.6" text-anchor="middle" font-weight="normal" fill="#222" >DOX</text>
<line x1="66.00" y1="276.50" x2="111.60" y2="276.50" stroke="#333" stroke-width="1.0" />
<line x1="66.50" y1="275.00" x2="66.50" y2="277.80" stroke="#333" stroke-width="1.3" />
<line x1="111.50" y1="275.00" x2="111.50" y2="277.80" stroke="#333" stroke-width="1.3" />
<circle cx="86.10" cy="274.20" r="0.72" fill="#222"/>
<circle cx="88.80" cy="274.20" r="0.72" fill="#222"/>
<circle cx="91.50" cy="274.20" r="0.72" fill="#222"/>
<line x1="88.90" y1="281.50" x2="111.60" y2="281.50" stroke="#333" stroke-width="1.0" />
<line x1="88.50" y1="280.40" x2="88.50" y2="283.20" stroke="#333" stroke-width="1.3" />
<line x1="111.50" y1="280.40" x2="111.50" y2="283.20" stroke="#333" stroke-width="1.3" />
<circle cx="97.55" cy="279.20" r="0.72" fill="#222"/>
<circle cx="100.25" cy="279.20" r="0.72" fill="#222"/>
<circle cx="102.95" cy="279.20" r="0.72" fill="#222"/>
<line x1="66.40" y1="286.50" x2="89.20" y2="286.50" stroke="#333" stroke-width="1.0" />
<line x1="66.50" y1="284.70" x2="66.50" y2="287.50" stroke="#333" stroke-width="1.3" />
<line x1="89.50" y1="284.70" x2="89.50" y2="287.50" stroke="#333" stroke-width="1.3" />
<text x="77.80" y="285.30" font-size="4.8" text-anchor="middle" font-weight="normal" fill="#333" >n.s.</text>
<text x="214.30" y="263.30" font-size="7.5" text-anchor="middle" font-weight="normal" fill="#000" >SMARCD2</text>
<rect x="183.50" y="298.00" width="15.50" height="24.00" fill="#c9c6cc" />
<line x1="191.50" y1="322.00" x2="191.50" y2="325.00" stroke="#000" stroke-width="1.0" />
<rect x="207.20" y="292.00" width="15.50" height="30.00" fill="#a8022f" />
<line x1="214.95" y1="292.00" x2="214.95" y2="286.00" stroke="#111" stroke-width="0.8" />
<line x1="211.45" y1="286.00" x2="218.45" y2="286.00" stroke="#111" stroke-width="0.8" />
<line x1="214.50" y1="322.00" x2="214.50" y2="325.00" stroke="#000" stroke-width="1.0" />
<rect x="230.80" y="315.52" width="15.40" height="6.48" fill="#2b4c8b" />
<line x1="238.50" y1="315.52" x2="238.50" y2="312.64" stroke="#111" stroke-width="0.8" />
<line x1="235.00" y1="312.64" x2="242.00" y2="312.64" stroke="#111" stroke-width="0.8" />
<line x1="238.50" y1="322.00" x2="238.50" y2="325.00" stroke="#000" stroke-width="1.0" />
<line x1="180.50" y1="272.20" x2="180.50" y2="322.50" stroke="#000" stroke-width="1.0" />
<line x1="179.50" y1="322.50" x2="248.00" y2="322.50" stroke="#000" stroke-width="1.0" />
<line x1="176.50" y1="322.50" x2="180.00" y2="322.50" stroke="#000" stroke-width="1.0" />
<text x="173.60" y="323.60" font-size="5.5" text-anchor="end" font-weight="normal" fill="#000" >0.0</text>
<line x1="176.50" y1="310.50" x2="180.00" y2="310.50" stroke="#000" stroke-width="1.0" />
<text x="173.60" y="311.60" font-size="5.5" text-anchor="end" font-weight="normal" fill="#000" >0.5</text>
<line x1="176.50" y1="298.50" x2="180.00" y2="298.50" stroke="#000" stroke-width="1.0" />
<text x="173.60" y="299.60" font-size="5.5" text-anchor="end" font-weight="normal" fill="#000" >1.0</text>
<line x1="176.50" y1="286.50" x2="180.00" y2="286.50" stroke="#000" stroke-width="1.0" />
<text x="173.60" y="287.60" font-size="5.5" text-anchor="end" font-weight="normal" fill="#000" >1.5</text>
<line x1="176.50" y1="274.50" x2="180.00" y2="274.50" stroke="#000" stroke-width="1.0" />
<text x="173.60" y="275.60" font-size="5.5" text-anchor="end" font-weight="normal" fill="#000" >2.0</text>
<text x="0" y="0" font-size="6.6" text-anchor="middle" transform="translate(150.40,297.10) rotate(-90) scale(0.92,1)">Relative gene</text>
<text x="0" y="0" font-size="6.6" text-anchor="middle" transform="translate(159.80,297.10) rotate(-90) scale(0.92,1)">expression</text>
<text x="191.25" y="333.90" font-size="5.6" text-anchor="middle" font-weight="normal" fill="#222" >DMSO</text>
<text x="214.95" y="333.90" font-size="5.6" text-anchor="middle" font-weight="normal" fill="#222" >PALB</text>
<text x="238.50" y="333.90" font-size="5.6" text-anchor="middle" font-weight="normal" fill="#222" >DOX</text>
<line x1="192.20" y1="273.50" x2="238.90" y2="273.50" stroke="#333" stroke-width="1.0" />
<line x1="192.50" y1="271.80" x2="192.50" y2="274.60" stroke="#333" stroke-width="1.3" />
<line x1="238.50" y1="271.80" x2="238.50" y2="274.60" stroke="#333" stroke-width="1.3" />
<circle cx="215.55" cy="271.20" r="0.72" fill="#222"/>
<line x1="214.60" y1="278.50" x2="238.90" y2="278.50" stroke="#333" stroke-width="1.0" />
<line x1="214.50" y1="276.60" x2="214.50" y2="279.40" stroke="#333" stroke-width="1.3" />
<line x1="238.50" y1="276.60" x2="238.50" y2="279.40" stroke="#333" stroke-width="1.3" />
<circle cx="226.75" cy="276.20" r="0.72" fill="#222"/>
<line x1="192.20" y1="283.50" x2="214.60" y2="283.50" stroke="#333" stroke-width="1.0" />
<line x1="192.50" y1="282.10" x2="192.50" y2="284.90" stroke="#333" stroke-width="1.3" />
<line x1="214.50" y1="282.10" x2="214.50" y2="284.90" stroke="#333" stroke-width="1.3" />
<text x="203.40" y="282.30" font-size="4.8" text-anchor="middle" font-weight="normal" fill="#333" >n.s.</text>
<text x="344.05" y="263.30" font-size="7.5" text-anchor="middle" font-weight="normal" fill="#000" >HADHA</text>
<rect x="311.75" y="298.80" width="15.75" height="23.20" fill="#c9c6cc" />
<line x1="319.50" y1="322.00" x2="319.50" y2="325.00" stroke="#000" stroke-width="1.0" />
<rect x="335.00" y="285.34" width="15.75" height="36.66" fill="#a8022f" />
<line x1="342.88" y1="285.34" x2="342.88" y2="283.72" stroke="#111" stroke-width="0.8" />
<line x1="339.38" y1="283.72" x2="346.38" y2="283.72" stroke="#111" stroke-width="0.8" />
<line x1="342.50" y1="322.00" x2="342.50" y2="325.00" stroke="#000" stroke-width="1.0" />
<rect x="358.75" y="311.33" width="15.75" height="10.67" fill="#2b4c8b" />
<line x1="366.62" y1="311.33" x2="366.62" y2="310.86" stroke="#111" stroke-width="0.8" />
<line x1="363.12" y1="310.86" x2="370.12" y2="310.86" stroke="#111" stroke-width="0.8" />
<line x1="366.50" y1="322.00" x2="366.50" y2="325.00" stroke="#000" stroke-width="1.0" />
<line x1="308.50" y1="273.20" x2="308.50" y2="322.50" stroke="#000" stroke-width="1.0" />
<line x1="308.25" y1="322.50" x2="378.75" y2="322.50" stroke="#000" stroke-width="1.0" />
<line x1="305.25" y1="322.50" x2="308.75" y2="322.50" stroke="#000" stroke-width="1.0" />
<text x="302.35" y="323.60" font-size="5.5" text-anchor="end" font-weight="normal" fill="#000" >0.0</text>
<line x1="305.25" y1="310.50" x2="308.75" y2="310.50" stroke="#000" stroke-width="1.0" />
<text x="302.35" y="312.00" font-size="5.5" text-anchor="end" font-weight="normal" fill="#000" >0.5</text>
<line x1="305.25" y1="298.50" x2="308.75" y2="298.50" stroke="#000" stroke-width="1.0" />
<text x="302.35" y="300.40" font-size="5.5" text-anchor="end" font-weight="normal" fill="#000" >1.0</text>
<line x1="305.25" y1="287.50" x2="308.75" y2="287.50" stroke="#000" stroke-width="1.0" />
<text x="302.35" y="288.80" font-size="5.5" text-anchor="end" font-weight="normal" fill="#000" >1.5</text>
<line x1="305.25" y1="275.50" x2="308.75" y2="275.50" stroke="#000" stroke-width="1.0" />
<text x="302.35" y="277.20" font-size="5.5" text-anchor="end" font-weight="normal" fill="#000" >2.0</text>
<text x="0" y="0" font-size="6.6" text-anchor="middle" transform="translate(279.15,297.60) rotate(-90) scale(0.92,1)">Relative gene</text>
<text x="0" y="0" font-size="6.6" text-anchor="middle" transform="translate(288.55,297.60) rotate(-90) scale(0.92,1)">expression</text>
<text x="319.62" y="333.90" font-size="5.6" text-anchor="middle" font-weight="normal" fill="#222" >DMSO</text>
<text x="342.88" y="333.90" font-size="5.6" text-anchor="middle" font-weight="normal" fill="#222" >PALB</text>
<text x="366.62" y="333.90" font-size="5.6" text-anchor="middle" font-weight="normal" fill="#222" >DOX</text>
<line x1="320.00" y1="271.50" x2="367.00" y2="271.50" stroke="#333" stroke-width="1.0" />
<line x1="320.50" y1="269.85" x2="320.50" y2="272.65" stroke="#333" stroke-width="1.3" />
<line x1="367.50" y1="269.85" x2="367.50" y2="272.65" stroke="#333" stroke-width="1.3" />
<circle cx="340.80" cy="269.20" r="0.72" fill="#222"/>
<circle cx="343.50" cy="269.20" r="0.72" fill="#222"/>
<circle cx="346.20" cy="269.20" r="0.72" fill="#222"/>
<line x1="343.25" y1="276.50" x2="367.00" y2="276.50" stroke="#333" stroke-width="1.0" />
<line x1="343.50" y1="275.35" x2="343.50" y2="278.15" stroke="#333" stroke-width="1.3" />
<line x1="367.50" y1="275.35" x2="367.50" y2="278.15" stroke="#333" stroke-width="1.3" />
<circle cx="352.43" cy="274.20" r="0.72" fill="#222"/>
<circle cx="355.12" cy="274.20" r="0.72" fill="#222"/>
<circle cx="357.82" cy="274.20" r="0.72" fill="#222"/>
<line x1="320.00" y1="281.50" x2="343.25" y2="281.50" stroke="#333" stroke-width="1.0" />
<line x1="320.50" y1="279.85" x2="320.50" y2="282.65" stroke="#333" stroke-width="1.3" />
<line x1="343.50" y1="279.85" x2="343.50" y2="282.65" stroke="#333" stroke-width="1.3" />
<circle cx="328.93" cy="279.20" r="0.72" fill="#222"/>
<circle cx="331.62" cy="279.20" r="0.72" fill="#222"/>
<circle cx="334.32" cy="279.20" r="0.72" fill="#222"/>
<text x="468.80" y="263.30" font-size="7.5" text-anchor="middle" font-weight="normal" fill="#000" >JAK1</text>
<rect x="437.50" y="291.50" width="15.50" height="30.50" fill="#c9c6cc" />
<line x1="445.50" y1="322.00" x2="445.50" y2="325.00" stroke="#000" stroke-width="1.0" />
<rect x="461.25" y="288.45" width="15.50" height="33.55" fill="#a8022f" />
<line x1="469.00" y1="288.45" x2="469.00" y2="286.62" stroke="#111" stroke-width="0.8" />
<line x1="465.50" y1="286.62" x2="472.50" y2="286.62" stroke="#111" stroke-width="0.8" />
<line x1="469.50" y1="322.00" x2="469.50" y2="325.00" stroke="#000" stroke-width="1.0" />
<rect x="485.00" y="320.48" width="15.50" height="1.53" fill="#2b4c8b" />
<line x1="492.75" y1="320.48" x2="492.75" y2="319.87" stroke="#111" stroke-width="0.8" />
<line x1="489.25" y1="319.87" x2="496.25" y2="319.87" stroke="#111" stroke-width="0.8" />
<line x1="492.50" y1="322.00" x2="492.50" y2="325.00" stroke="#000" stroke-width="1.0" />
<line x1="433.50" y1="273.75" x2="433.50" y2="322.50" stroke="#000" stroke-width="1.0" />
<line x1="432.75" y1="322.50" x2="503.75" y2="322.50" stroke="#000" stroke-width="1.0" />
<line x1="429.75" y1="322.50" x2="433.25" y2="322.50" stroke="#000" stroke-width="1.0" />
<text x="426.85" y="323.60" font-size="5.5" text-anchor="end" font-weight="normal" fill="#000" >0.0</text>
<line x1="429.75" y1="306.50" x2="433.25" y2="306.50" stroke="#000" stroke-width="1.0" />
<text x="426.85" y="308.35" font-size="5.5" text-anchor="end" font-weight="normal" fill="#000" >0.5</text>
<line x1="429.75" y1="291.50" x2="433.25" y2="291.50" stroke="#000" stroke-width="1.0" />
<text x="426.85" y="293.10" font-size="5.5" text-anchor="end" font-weight="normal" fill="#000" >1.0</text>
<line x1="429.75" y1="276.50" x2="433.25" y2="276.50" stroke="#000" stroke-width="1.0" />
<text x="426.85" y="277.85" font-size="5.5" text-anchor="end" font-weight="normal" fill="#000" >1.5</text>
<text x="0" y="0" font-size="6.6" text-anchor="middle" transform="translate(404.45,297.88) rotate(-90) scale(0.92,1)">Relative gene</text>
<text x="0" y="0" font-size="6.6" text-anchor="middle" transform="translate(413.85,297.88) rotate(-90) scale(0.92,1)">expression</text>
<text x="445.25" y="333.90" font-size="5.6" text-anchor="middle" font-weight="normal" fill="#222" >DMSO</text>
<text x="469.00" y="333.90" font-size="5.6" text-anchor="middle" font-weight="normal" fill="#222" >PALB</text>
<text x="492.75" y="333.90" font-size="5.6" text-anchor="middle" font-weight="normal" fill="#222" >DOX</text>
<line x1="445.00" y1="270.50" x2="492.50" y2="270.50" stroke="#333" stroke-width="1.0" />
<line x1="445.50" y1="269.35" x2="445.50" y2="272.15" stroke="#333" stroke-width="1.3" />
<line x1="492.50" y1="269.35" x2="492.50" y2="272.15" stroke="#333" stroke-width="1.3" />
<circle cx="466.05" cy="268.20" r="0.72" fill="#222"/>
<circle cx="468.75" cy="268.20" r="0.72" fill="#222"/>
<circle cx="471.45" cy="268.20" r="0.72" fill="#222"/>
<line x1="469.25" y1="277.50" x2="492.50" y2="277.50" stroke="#333" stroke-width="1.0" />
<line x1="469.50" y1="276.10" x2="469.50" y2="278.90" stroke="#333" stroke-width="1.3" />
<line x1="492.50" y1="276.10" x2="492.50" y2="278.90" stroke="#333" stroke-width="1.3" />
<circle cx="478.18" cy="275.20" r="0.72" fill="#222"/>
<circle cx="480.88" cy="275.20" r="0.72" fill="#222"/>
<circle cx="483.57" cy="275.20" r="0.72" fill="#222"/>
<line x1="445.00" y1="283.50" x2="469.25" y2="283.50" stroke="#333" stroke-width="1.0" />
<line x1="445.50" y1="281.60" x2="445.50" y2="284.40" stroke="#333" stroke-width="1.3" />
<line x1="469.50" y1="281.60" x2="469.50" y2="284.40" stroke="#333" stroke-width="1.3" />
<text x="457.12" y="282.30" font-size="4.8" text-anchor="middle" font-weight="normal" fill="#333" >n.s.</text>
<text x="94.65" y="351.00" font-size="7.5" text-anchor="middle" font-weight="normal" fill="#000" >SLC2A3/GLUT3</text>
<rect x="58.70" y="405.52" width="17.80" height="10.73" fill="#c9c6cc" />
<line x1="67.50" y1="416.25" x2="67.50" y2="419.25" stroke="#000" stroke-width="1.0" />
<rect x="85.60" y="401.76" width="17.40" height="14.49" fill="#a8022f" />
<line x1="94.30" y1="401.76" x2="94.30" y2="398.33" stroke="#111" stroke-width="0.8" />
<line x1="90.80" y1="398.33" x2="97.80" y2="398.33" stroke="#111" stroke-width="0.8" />
<line x1="94.50" y1="416.25" x2="94.50" y2="419.25" stroke="#000" stroke-width="1.0" />
<rect x="112.10" y="381.38" width="17.90" height="34.87" fill="#2b4c8b" />
<line x1="121.05" y1="381.38" x2="121.05" y2="378.48" stroke="#111" stroke-width="0.8" />
<line x1="117.55" y1="378.48" x2="124.55" y2="378.48" stroke="#111" stroke-width="0.8" />
<line x1="121.50" y1="416.25" x2="121.50" y2="419.25" stroke="#000" stroke-width="1.0" />
<line x1="54.50" y1="360.20" x2="54.50" y2="416.75" stroke="#000" stroke-width="1.0" />
<line x1="54.00" y1="416.50" x2="134.20" y2="416.50" stroke="#000" stroke-width="1.0" />
<line x1="51.00" y1="416.50" x2="54.50" y2="416.50" stroke="#000" stroke-width="1.0" />
<text x="48.10" y="417.85" font-size="5.5" text-anchor="end" font-weight="normal" fill="#000" >0.0</text>
<line x1="51.00" y1="405.50" x2="54.50" y2="405.50" stroke="#000" stroke-width="1.0" />
<text x="48.10" y="407.12" font-size="5.5" text-anchor="end" font-weight="normal" fill="#000" >1.0</text>
<line x1="51.00" y1="394.50" x2="54.50" y2="394.50" stroke="#000" stroke-width="1.0" />
<text x="48.10" y="396.39" font-size="5.5" text-anchor="end" font-weight="normal" fill="#000" >2.0</text>
<line x1="51.00" y1="384.50" x2="54.50" y2="384.50" stroke="#000" stroke-width="1.0" />
<text x="48.10" y="385.66" font-size="5.5" text-anchor="end" font-weight="normal" fill="#000" >3.0</text>
<line x1="51.00" y1="373.50" x2="54.50" y2="373.50" stroke="#000" stroke-width="1.0" />
<text x="48.10" y="374.93" font-size="5.5" text-anchor="end" font-weight="normal" fill="#000" >4.0</text>
<line x1="51.00" y1="362.50" x2="54.50" y2="362.50" stroke="#000" stroke-width="1.0" />
<text x="48.10" y="364.20" font-size="5.5" text-anchor="end" font-weight="normal" fill="#000" >5.0</text>
<text x="0" y="0" font-size="6.6" text-anchor="middle" transform="translate(24.90,388.23) rotate(-90) scale(0.92,1)">Relative gene</text>
<text x="0" y="0" font-size="6.6" text-anchor="middle" transform="translate(34.30,388.23) rotate(-90) scale(0.92,1)">expression</text>
<text x="67.60" y="428.15" font-size="5.6" text-anchor="middle" font-weight="normal" fill="#222" >DMSO</text>
<text x="94.30" y="428.15" font-size="5.6" text-anchor="middle" font-weight="normal" fill="#222" >PALB</text>
<text x="121.05" y="428.15" font-size="5.6" text-anchor="middle" font-weight="normal" fill="#222" >DOX</text>
<line x1="66.50" y1="366.50" x2="121.00" y2="366.50" stroke="#333" stroke-width="1.0" />
<line x1="66.50" y1="364.85" x2="66.50" y2="367.65" stroke="#333" stroke-width="1.3" />
<line x1="121.50" y1="364.85" x2="121.50" y2="367.65" stroke="#333" stroke-width="1.3" />
<circle cx="91.05" cy="364.20" r="0.72" fill="#222"/>
<circle cx="93.75" cy="364.20" r="0.72" fill="#222"/>
<circle cx="96.45" cy="364.20" r="0.72" fill="#222"/>
<line x1="94.10" y1="373.50" x2="121.00" y2="373.50" stroke="#333" stroke-width="1.0" />
<line x1="94.50" y1="372.10" x2="94.50" y2="374.90" stroke="#333" stroke-width="1.3" />
<line x1="121.50" y1="372.10" x2="121.50" y2="374.90" stroke="#333" stroke-width="1.3" />
<circle cx="106.20" cy="371.20" r="0.72" fill="#222"/>
<circle cx="108.90" cy="371.20" r="0.72" fill="#222"/>
<line x1="66.50" y1="391.50" x2="94.10" y2="391.50" stroke="#333" stroke-width="1.0" />
<line x1="66.50" y1="389.60" x2="66.50" y2="392.40" stroke="#333" stroke-width="1.3" />
<line x1="94.50" y1="389.60" x2="94.50" y2="392.40" stroke="#333" stroke-width="1.3" />
<text x="80.30" y="390.30" font-size="4.8" text-anchor="middle" font-weight="normal" fill="#333" >n.s.</text>
<text x="218.80" y="351.00" font-size="7.5" text-anchor="middle" font-weight="normal" fill="#000" >ULK2</text>
<rect x="184.30" y="405.52" width="17.30" height="10.73" fill="#c9c6cc" />
<line x1="192.50" y1="416.25" x2="192.50" y2="419.25" stroke="#000" stroke-width="1.0" />
<rect x="210.70" y="402.30" width="17.30" height="13.95" fill="#a8022f" />
<line x1="219.35" y1="402.30" x2="219.35" y2="399.40" stroke="#111" stroke-width="0.8" />
<line x1="215.85" y1="399.40" x2="222.85" y2="399.40" stroke="#111" stroke-width="0.8" />
<line x1="219.50" y1="416.25" x2="219.50" y2="419.25" stroke="#000" stroke-width="1.0" />
<rect x="237.20" y="372.79" width="17.30" height="43.46" fill="#2b4c8b" />
<line x1="245.85" y1="372.79" x2="245.85" y2="370.86" stroke="#111" stroke-width="0.8" />
<line x1="242.35" y1="370.86" x2="249.35" y2="370.86" stroke="#111" stroke-width="0.8" />
<line x1="245.50" y1="416.25" x2="245.50" y2="419.25" stroke="#000" stroke-width="1.0" />
<line x1="179.50" y1="359.50" x2="179.50" y2="416.75" stroke="#000" stroke-width="1.0" />
<line x1="178.50" y1="416.50" x2="258.00" y2="416.50" stroke="#000" stroke-width="1.0" />
<line x1="175.50" y1="416.50" x2="179.00" y2="416.50" stroke="#000" stroke-width="1.0" />
<text x="172.60" y="417.85" font-size="5.5" text-anchor="end" font-weight="normal" fill="#000" >0.0</text>
<line x1="175.50" y1="405.50" x2="179.00" y2="405.50" stroke="#000" stroke-width="1.0" />
<text x="172.60" y="407.12" font-size="5.5" text-anchor="end" font-weight="normal" fill="#000" >1.0</text>
<line x1="175.50" y1="394.50" x2="179.00" y2="394.50" stroke="#000" stroke-width="1.0" />
<text x="172.60" y="396.39" font-size="5.5" text-anchor="end" font-weight="normal" fill="#000" >2.0</text>
<line x1="175.50" y1="384.50" x2="179.00" y2="384.50" stroke="#000" stroke-width="1.0" />
<text x="172.60" y="385.66" font-size="5.5" text-anchor="end" font-weight="normal" fill="#000" >3.0</text>
<line x1="175.50" y1="373.50" x2="179.00" y2="373.50" stroke="#000" stroke-width="1.0" />
<text x="172.60" y="374.93" font-size="5.5" text-anchor="end" font-weight="normal" fill="#000" >4.0</text>
<line x1="175.50" y1="362.50" x2="179.00" y2="362.50" stroke="#000" stroke-width="1.0" />
<text x="172.60" y="364.20" font-size="5.5" text-anchor="end" font-weight="normal" fill="#000" >5.0</text>
<text x="0" y="0" font-size="6.6" text-anchor="middle" transform="translate(149.40,387.88) rotate(-90) scale(0.92,1)">Relative gene</text>
<text x="0" y="0" font-size="6.6" text-anchor="middle" transform="translate(158.80,387.88) rotate(-90) scale(0.92,1)">expression</text>
<text x="192.95" y="428.15" font-size="5.6" text-anchor="middle" font-weight="normal" fill="#222" >DMSO</text>
<text x="219.35" y="428.15" font-size="5.6" text-anchor="middle" font-weight="normal" fill="#222" >PALB</text>
<text x="245.85" y="428.15" font-size="5.6" text-anchor="middle" font-weight="normal" fill="#222" >DOX</text>
<line x1="191.50" y1="362.50" x2="246.00" y2="362.50" stroke="#333" stroke-width="1.0" />
<line x1="191.50" y1="361.20" x2="191.50" y2="364.00" stroke="#333" stroke-width="1.3" />
<line x1="246.50" y1="361.20" x2="246.50" y2="364.00" stroke="#333" stroke-width="1.3" />
<circle cx="216.05" cy="360.20" r="0.72" fill="#222"/>
<circle cx="218.75" cy="360.20" r="0.72" fill="#222"/>
<circle cx="221.45" cy="360.20" r="0.72" fill="#222"/>
<line x1="219.10" y1="367.50" x2="246.00" y2="367.50" stroke="#333" stroke-width="1.0" />
<line x1="219.50" y1="366.10" x2="219.50" y2="368.90" stroke="#333" stroke-width="1.3" />
<line x1="246.50" y1="366.10" x2="246.50" y2="368.90" stroke="#333" stroke-width="1.3" />
<circle cx="229.85" cy="365.20" r="0.72" fill="#222"/>
<circle cx="232.55" cy="365.20" r="0.72" fill="#222"/>
<circle cx="235.25" cy="365.20" r="0.72" fill="#222"/>
<line x1="191.50" y1="395.50" x2="219.10" y2="395.50" stroke="#333" stroke-width="1.0" />
<line x1="191.50" y1="393.70" x2="191.50" y2="396.50" stroke="#333" stroke-width="1.3" />
<line x1="219.50" y1="393.70" x2="219.50" y2="396.50" stroke="#333" stroke-width="1.3" />
<text x="205.30" y="394.30" font-size="4.8" text-anchor="middle" font-weight="normal" fill="#333" >n.s.</text>
<text x="347.75" y="351.00" font-size="7.5" text-anchor="middle" font-weight="normal" fill="#000" >LCK</text>
<rect x="312.40" y="413.03" width="17.30" height="3.22" fill="#c9c6cc" />
<line x1="321.50" y1="416.25" x2="321.50" y2="419.25" stroke="#000" stroke-width="1.0" />
<rect x="338.80" y="409.10" width="17.80" height="7.15" fill="#a8022f" />
<line x1="347.70" y1="409.10" x2="347.70" y2="408.67" stroke="#111" stroke-width="0.8" />
<line x1="344.20" y1="408.67" x2="351.20" y2="408.67" stroke="#111" stroke-width="0.8" />
<line x1="347.50" y1="416.25" x2="347.50" y2="419.25" stroke="#000" stroke-width="1.0" />
<rect x="365.80" y="379.41" width="18.00" height="36.84" fill="#2b4c8b" />
<line x1="374.80" y1="379.41" x2="374.80" y2="377.62" stroke="#111" stroke-width="0.8" />
<line x1="371.30" y1="377.62" x2="378.30" y2="377.62" stroke="#111" stroke-width="0.8" />
<line x1="374.50" y1="416.25" x2="374.50" y2="419.25" stroke="#000" stroke-width="1.0" />
<line x1="307.50" y1="359.50" x2="307.50" y2="416.75" stroke="#000" stroke-width="1.0" />
<line x1="306.90" y1="416.50" x2="387.50" y2="416.50" stroke="#000" stroke-width="1.0" />
<line x1="303.90" y1="416.50" x2="307.40" y2="416.50" stroke="#000" stroke-width="1.0" />
<text x="301.00" y="417.85" font-size="5.5" text-anchor="end" font-weight="normal" fill="#000" >0.0</text>
<line x1="303.90" y1="398.50" x2="307.40" y2="398.50" stroke="#000" stroke-width="1.0" />
<text x="301.00" y="399.97" font-size="5.5" text-anchor="end" font-weight="normal" fill="#000" >5.0</text>
<line x1="303.90" y1="380.50" x2="307.40" y2="380.50" stroke="#000" stroke-width="1.0" />
<text x="301.00" y="382.08" font-size="5.5" text-anchor="end" font-weight="normal" fill="#000" >10.0</text>
<line x1="303.90" y1="362.50" x2="307.40" y2="362.50" stroke="#000" stroke-width="1.0" />
<text x="301.00" y="364.20" font-size="5.5" text-anchor="end" font-weight="normal" fill="#000" >15.0</text>
<text x="0" y="0" font-size="6.6" text-anchor="middle" transform="translate(275.00,387.88) rotate(-90) scale(0.92,1)">Relative gene</text>
<text x="0" y="0" font-size="6.6" text-anchor="middle" transform="translate(284.40,387.88) rotate(-90) scale(0.92,1)">expression</text>
<text x="321.05" y="428.15" font-size="5.6" text-anchor="middle" font-weight="normal" fill="#222" >DMSO</text>
<text x="347.70" y="428.15" font-size="5.6" text-anchor="middle" font-weight="normal" fill="#222" >PALB</text>
<text x="374.80" y="428.15" font-size="5.6" text-anchor="middle" font-weight="normal" fill="#222" >DOX</text>
<line x1="320.10" y1="365.50" x2="374.20" y2="365.50" stroke="#333" stroke-width="1.0" />
<line x1="320.50" y1="364.40" x2="320.50" y2="367.20" stroke="#333" stroke-width="1.3" />
<line x1="374.50" y1="364.40" x2="374.50" y2="367.20" stroke="#333" stroke-width="1.3" />
<circle cx="344.45" cy="363.20" r="0.72" fill="#222"/>
<circle cx="347.15" cy="363.20" r="0.72" fill="#222"/>
<circle cx="349.85" cy="363.20" r="0.72" fill="#222"/>
<line x1="347.70" y1="372.50" x2="374.20" y2="372.50" stroke="#333" stroke-width="1.0" />
<line x1="347.50" y1="370.90" x2="347.50" y2="373.70" stroke="#333" stroke-width="1.3" />
<line x1="374.50" y1="370.90" x2="374.50" y2="373.70" stroke="#333" stroke-width="1.3" />
<circle cx="358.25" cy="370.20" r="0.72" fill="#222"/>
<circle cx="360.95" cy="370.20" r="0.72" fill="#222"/>
<circle cx="363.65" cy="370.20" r="0.72" fill="#222"/>
<line x1="320.10" y1="400.50" x2="347.70" y2="400.50" stroke="#333" stroke-width="1.0" />
<line x1="320.50" y1="399.20" x2="320.50" y2="402.00" stroke="#333" stroke-width="1.3" />
<line x1="347.50" y1="399.20" x2="347.50" y2="402.00" stroke="#333" stroke-width="1.3" />
<text x="333.90" y="399.30" font-size="4.8" text-anchor="middle" font-weight="normal" fill="#333" >n.s.</text>
<text x="472.30" y="351.00" font-size="7.5" text-anchor="middle" font-weight="normal" fill="#000" >OTUD1</text>
<rect x="438.00" y="405.65" width="17.00" height="10.60" fill="#c9c6cc" />
<line x1="446.50" y1="416.25" x2="446.50" y2="419.25" stroke="#000" stroke-width="1.0" />
<rect x="464.50" y="398.23" width="17.50" height="18.02" fill="#a8022f" />
<line x1="473.25" y1="398.23" x2="473.25" y2="396.32" stroke="#111" stroke-width="0.8" />
<line x1="469.75" y1="396.32" x2="476.75" y2="396.32" stroke="#111" stroke-width="0.8" />
<line x1="473.50" y1="416.25" x2="473.50" y2="419.25" stroke="#000" stroke-width="1.0" />
<rect x="491.25" y="367.49" width="17.00" height="48.76" fill="#2b4c8b" />
<line x1="499.75" y1="367.49" x2="499.75" y2="366.43" stroke="#111" stroke-width="0.8" />
<line x1="496.25" y1="366.43" x2="503.25" y2="366.43" stroke="#111" stroke-width="0.8" />
<line x1="499.50" y1="416.25" x2="499.50" y2="419.25" stroke="#000" stroke-width="1.0" />
<line x1="432.50" y1="360.00" x2="432.50" y2="416.75" stroke="#000" stroke-width="1.0" />
<line x1="432.00" y1="416.50" x2="511.50" y2="416.50" stroke="#000" stroke-width="1.0" />
<line x1="429.00" y1="416.50" x2="432.50" y2="416.50" stroke="#000" stroke-width="1.0" />
<text x="426.10" y="417.85" font-size="5.5" text-anchor="end" font-weight="normal" fill="#000" >0.0</text>
<line x1="429.00" y1="405.50" x2="432.50" y2="405.50" stroke="#000" stroke-width="1.0" />
<text x="426.10" y="407.25" font-size="5.5" text-anchor="end" font-weight="normal" fill="#000" >1.0</text>
<line x1="429.00" y1="395.50" x2="432.50" y2="395.50" stroke="#000" stroke-width="1.0" />
<text x="426.10" y="396.65" font-size="5.5" text-anchor="end" font-weight="normal" fill="#000" >2.0</text>
<line x1="429.00" y1="384.50" x2="432.50" y2="384.50" stroke="#000" stroke-width="1.0" />
<text x="426.10" y="386.05" font-size="5.5" text-anchor="end" font-weight="normal" fill="#000" >3.0</text>
<line x1="429.00" y1="373.50" x2="432.50" y2="373.50" stroke="#000" stroke-width="1.0" />
<text x="426.10" y="375.45" font-size="5.5" text-anchor="end" font-weight="normal" fill="#000" >4.0</text>
<line x1="429.00" y1="363.50" x2="432.50" y2="363.50" stroke="#000" stroke-width="1.0" />
<text x="426.10" y="364.85" font-size="5.5" text-anchor="end" font-weight="normal" fill="#000" >5.0</text>
<text x="0" y="0" font-size="6.6" text-anchor="middle" transform="translate(403.90,388.12) rotate(-90) scale(0.92,1)">Relative gene</text>
<text x="0" y="0" font-size="6.6" text-anchor="middle" transform="translate(413.30,388.12) rotate(-90) scale(0.92,1)">expression</text>
<text x="446.50" y="428.15" font-size="5.6" text-anchor="middle" font-weight="normal" fill="#222" >DMSO</text>
<text x="473.25" y="428.15" font-size="5.6" text-anchor="middle" font-weight="normal" fill="#222" >PALB</text>
<text x="499.75" y="428.15" font-size="5.6" text-anchor="middle" font-weight="normal" fill="#222" >DOX</text>
<line x1="445.75" y1="358.50" x2="499.25" y2="358.50" stroke="#333" stroke-width="1.0" />
<line x1="445.50" y1="356.60" x2="445.50" y2="359.40" stroke="#333" stroke-width="1.3" />
<line x1="499.50" y1="356.60" x2="499.50" y2="359.40" stroke="#333" stroke-width="1.3" />
<circle cx="469.80" cy="356.20" r="0.72" fill="#222"/>
<circle cx="472.50" cy="356.20" r="0.72" fill="#222"/>
<circle cx="475.20" cy="356.20" r="0.72" fill="#222"/>
<line x1="472.50" y1="363.50" x2="499.25" y2="363.50" stroke="#333" stroke-width="1.0" />
<line x1="472.50" y1="362.35" x2="472.50" y2="365.15" stroke="#333" stroke-width="1.3" />
<line x1="499.50" y1="362.35" x2="499.50" y2="365.15" stroke="#333" stroke-width="1.3" />
<circle cx="483.18" cy="361.20" r="0.72" fill="#222"/>
<circle cx="485.88" cy="361.20" r="0.72" fill="#222"/>
<circle cx="488.57" cy="361.20" r="0.72" fill="#222"/>
<line x1="445.75" y1="393.50" x2="472.50" y2="393.50" stroke="#333" stroke-width="1.0" />
<line x1="445.50" y1="391.60" x2="445.50" y2="394.40" stroke="#333" stroke-width="1.3" />
<line x1="472.50" y1="391.60" x2="472.50" y2="394.40" stroke="#333" stroke-width="1.3" />
<circle cx="459.12" cy="391.20" r="0.72" fill="#222"/>
<line x1="68.20" y1="520.60" x2="155.00" y2="495.40" stroke="#84b9e6" stroke-width="1.3" />
<rect x="121.07" y="477.46" width="1.7" height="1.7" fill="#1b2b45"/>
<rect x="123.61" y="480.69" width="1.7" height="1.7" fill="#1b2b45"/>
<rect x="117.61" y="487.03" width="1.7" height="1.7" fill="#1b2b45"/>
<rect x="120.15" y="487.96" width="1.7" height="1.7" fill="#1b2b45"/>
<rect x="123.61" y="486.69" width="1.7" height="1.7" fill="#1b2b45"/>
<rect x="125.11" y="487.96" width="1.7" height="1.7" fill="#1b2b45"/>
<rect x="134.34" y="487.61" width="1.7" height="1.7" fill="#1b2b45"/>
<rect x="139.30" y="487.61" width="1.7" height="1.7" fill="#1b2b45"/>
<rect x="136.88" y="489.69" width="1.7" height="1.7" fill="#1b2b45"/>
<rect x="141.84" y="490.50" width="1.7" height="1.7" fill="#1b2b45"/>
<rect x="108.38" y="491.65" width="1.7" height="1.7" fill="#1b2b45"/>
<rect x="107.46" y="492.23" width="1.7" height="1.7" fill="#1b2b45"/>
<rect x="110.34" y="494.30" width="1.7" height="1.7" fill="#1b2b45"/>
<rect x="118.19" y="492.57" width="1.7" height="1.7" fill="#1b2b45"/>
<rect x="119.69" y="494.30" width="1.7" height="1.7" fill="#1b2b45"/>
<rect x="122.80" y="492.57" width="1.7" height="1.7" fill="#1b2b45"/>
<rect x="125.11" y="493.96" width="1.7" height="1.7" fill="#1b2b45"/>
<rect x="125.92" y="495.11" width="1.7" height="1.7" fill="#1b2b45"/>
<rect x="126.84" y="496.26" width="1.7" height="1.7" fill="#1b2b45"/>
<rect x="132.61" y="493.38" width="1.7" height="1.7" fill="#1b2b45"/>
<rect x="135.84" y="491.07" width="1.7" height="1.7" fill="#1b2b45"/>
<rect x="142.42" y="493.38" width="1.7" height="1.7" fill="#1b2b45"/>
<rect x="101.69" y="498.92" width="1.7" height="1.7" fill="#1b2b45"/>
<rect x="107.46" y="499.38" width="1.7" height="1.7" fill="#1b2b45"/>
<rect x="111.26" y="500.53" width="1.7" height="1.7" fill="#1b2b45"/>
<rect x="115.07" y="500.53" width="1.7" height="1.7" fill="#1b2b45"/>
<rect x="117.03" y="497.76" width="1.7" height="1.7" fill="#1b2b45"/>
<rect x="119.34" y="499.73" width="1.7" height="1.7" fill="#1b2b45"/>
<rect x="121.65" y="498.92" width="1.7" height="1.7" fill="#1b2b45"/>
<rect x="122.80" y="497.42" width="1.7" height="1.7" fill="#1b2b45"/>
<rect x="123.38" y="500.30" width="1.7" height="1.7" fill="#1b2b45"/>
<rect x="124.30" y="498.92" width="1.7" height="1.7" fill="#1b2b45"/>
<rect x="133.99" y="496.84" width="1.7" height="1.7" fill="#1b2b45"/>
<rect x="136.65" y="495.92" width="1.7" height="1.7" fill="#1b2b45"/>
<rect x="141.61" y="495.92" width="1.7" height="1.7" fill="#1b2b45"/>
<rect x="132.03" y="499.38" width="1.7" height="1.7" fill="#1b2b45"/>
<rect x="132.61" y="500.53" width="1.7" height="1.7" fill="#1b2b45"/>
<rect x="102.61" y="503.53" width="1.7" height="1.7" fill="#1b2b45"/>
<rect x="106.65" y="502.38" width="1.7" height="1.7" fill="#1b2b45"/>
<rect x="114.73" y="502.61" width="1.7" height="1.7" fill="#1b2b45"/>
<rect x="123.96" y="503.53" width="1.7" height="1.7" fill="#1b2b45"/>
<rect x="126.84" y="503.76" width="1.7" height="1.7" fill="#1b2b45"/>
<rect x="128.92" y="503.76" width="1.7" height="1.7" fill="#1b2b45"/>
<rect x="130.30" y="502.03" width="1.7" height="1.7" fill="#1b2b45"/>
<rect x="132.61" y="503.19" width="1.7" height="1.7" fill="#1b2b45"/>
<rect x="136.07" y="502.61" width="1.7" height="1.7" fill="#1b2b45"/>
<rect x="137.23" y="502.03" width="1.7" height="1.7" fill="#1b2b45"/>
<rect x="138.96" y="502.61" width="1.7" height="1.7" fill="#1b2b45"/>
<rect x="140.11" y="503.53" width="1.7" height="1.7" fill="#1b2b45"/>
<rect x="145.30" y="501.69" width="1.7" height="1.7" fill="#1b2b45"/>
<rect x="148.19" y="500.53" width="1.7" height="1.7" fill="#1b2b45"/>
<rect x="154.53" y="503.42" width="1.7" height="1.7" fill="#1b2b45"/>
<rect x="105.84" y="505.49" width="1.7" height="1.7" fill="#1b2b45"/>
<rect x="108.38" y="506.65" width="1.7" height="1.7" fill="#1b2b45"/>
<rect x="111.84" y="505.49" width="1.7" height="1.7" fill="#1b2b45"/>
<rect x="113.57" y="506.99" width="1.7" height="1.7" fill="#1b2b45"/>
<rect x="126.26" y="506.65" width="1.7" height="1.7" fill="#1b2b45"/>
<rect x="129.73" y="506.07" width="1.7" height="1.7" fill="#1b2b45"/>
<rect x="136.07" y="506.65" width="1.7" height="1.7" fill="#1b2b45"/>
<rect x="139.53" y="507.80" width="1.7" height="1.7" fill="#1b2b45"/>
<rect x="142.42" y="507.80" width="1.7" height="1.7" fill="#1b2b45"/>
<rect x="100.53" y="506.65" width="1.7" height="1.7" fill="#1b2b45"/>
<rect x="106.65" y="515.46" width="1.7" height="1.7" fill="#1b2b45"/>
<rect x="113.00" y="516.61" width="1.7" height="1.7" fill="#1b2b45"/>
<rect x="118.19" y="515.11" width="1.7" height="1.7" fill="#1b2b45"/>
<rect x="119.34" y="510.15" width="1.7" height="1.7" fill="#1b2b45"/>
<rect x="119.92" y="513.96" width="1.7" height="1.7" fill="#1b2b45"/>
<rect x="121.07" y="515.69" width="1.7" height="1.7" fill="#1b2b45"/>
<rect x="122.23" y="512.00" width="1.7" height="1.7" fill="#1b2b45"/>
<rect x="120.50" y="516.26" width="1.7" height="1.7" fill="#1b2b45"/>
<rect x="107.80" y="521.23" width="1.7" height="1.7" fill="#1b2b45"/>
<rect x="114.15" y="521.46" width="1.7" height="1.7" fill="#1b2b45"/>
<rect x="115.30" y="520.30" width="1.7" height="1.7" fill="#1b2b45"/>
<rect x="110.69" y="523.53" width="1.7" height="1.7" fill="#1b2b45"/>
<rect x="125.11" y="518.57" width="1.7" height="1.7" fill="#1b2b45"/>
<rect x="130.07" y="523.19" width="1.7" height="1.7" fill="#1b2b45"/>
<rect x="102.61" y="532.76" width="1.7" height="1.7" fill="#1b2b45"/>
<rect x="130.07" y="510.15" width="1.7" height="1.7" fill="#1b2b45"/>
<rect x="136.07" y="512.80" width="1.7" height="1.7" fill="#1b2b45"/>
<rect x="136.65" y="513.96" width="1.7" height="1.7" fill="#1b2b45"/>
<rect x="138.38" y="511.07" width="1.7" height="1.7" fill="#1b2b45"/>
<rect x="138.96" y="512.23" width="1.7" height="1.7" fill="#1b2b45"/>
<rect x="143.57" y="512.00" width="1.7" height="1.7" fill="#1b2b45"/>
<rect x="68.57" y="519.73" width="1.7" height="1.7" fill="#1b2b45"/>
<rect x="74.15" y="521.36" width="1.7" height="1.7" fill="#1b2b45"/>
<rect x="79.63" y="520.11" width="1.7" height="1.7" fill="#1b2b45"/>
<rect x="81.07" y="516.84" width="1.7" height="1.7" fill="#1b2b45"/>
<rect x="84.73" y="517.03" width="1.7" height="1.7" fill="#1b2b45"/>
<rect x="85.11" y="512.71" width="1.7" height="1.7" fill="#1b2b45"/>
<rect x="87.32" y="506.94" width="1.7" height="1.7" fill="#1b2b45"/>
<rect x="87.61" y="503.38" width="1.7" height="1.7" fill="#1b2b45"/>
<rect x="89.73" y="505.69" width="1.7" height="1.7" fill="#1b2b45"/>
<rect x="69.34" y="534.63" width="1.7" height="1.7" fill="#1b2b45"/>
<rect x="67.13" y="540.88" width="1.7" height="1.7" fill="#1b2b45"/>
<rect x="87.03" y="538.00" width="1.7" height="1.7" fill="#1b2b45"/>
<rect x="98.86" y="510.78" width="1.7" height="1.7" fill="#1b2b45"/>
<rect x="99.34" y="509.82" width="1.7" height="1.7" fill="#1b2b45"/>
<line x1="54.50" y1="469.40" x2="54.50" y2="550.20" stroke="#000" stroke-width="1.0" />
<line x1="53.80" y1="549.50" x2="161.00" y2="549.50" stroke="#000" stroke-width="1.0" />
<line x1="50.80" y1="549.50" x2="54.30" y2="549.50" stroke="#000" stroke-width="1.0" />
<text x="47.90" y="551.30" font-size="5.5" text-anchor="end" font-weight="normal" fill="#000" >1.5</text>
<line x1="50.80" y1="536.50" x2="54.30" y2="536.50" stroke="#000" stroke-width="1.0" />
<text x="47.90" y="538.10" font-size="5.5" text-anchor="end" font-weight="normal" fill="#000" >2</text>
<line x1="50.80" y1="523.50" x2="54.30" y2="523.50" stroke="#000" stroke-width="1.0" />
<text x="47.90" y="524.90" font-size="5.5" text-anchor="end" font-weight="normal" fill="#000" >2.5</text>
<line x1="50.80" y1="510.50" x2="54.30" y2="510.50" stroke="#000" stroke-width="1.0" />
<text x="47.90" y="511.70" font-size="5.5" text-anchor="end" font-weight="normal" fill="#000" >3</text>
<line x1="50.80" y1="496.50" x2="54.30" y2="496.50" stroke="#000" stroke-width="1.0" />
<text x="47.90" y="498.50" font-size="5.5" text-anchor="end" font-weight="normal" fill="#000" >3.5</text>
<line x1="50.80" y1="483.50" x2="54.30" y2="483.50" stroke="#000" stroke-width="1.0" />
<text x="47.90" y="485.30" font-size="5.5" text-anchor="end" font-weight="normal" fill="#000" >4</text>
<line x1="50.80" y1="470.50" x2="54.30" y2="470.50" stroke="#000" stroke-width="1.0" />
<text x="47.90" y="472.10" font-size="5.5" text-anchor="end" font-weight="normal" fill="#000" >4.5</text>
<line x1="54.50" y1="549.70" x2="54.50" y2="553.00" stroke="#000" stroke-width="1.0" />
<text x="54.30" y="560.80" font-size="5.5" text-anchor="middle" font-weight="normal" fill="#000" >0.5</text>
<line x1="89.50" y1="549.70" x2="89.50" y2="553.00" stroke="#000" stroke-width="1.0" />
<text x="89.00" y="560.80" font-size="5.5" text-anchor="middle" font-weight="normal" fill="#000" >0.6</text>
<line x1="123.50" y1="549.70" x2="123.50" y2="553.00" stroke="#000" stroke-width="1.0" />
<text x="123.70" y="560.80" font-size="5.5" text-anchor="middle" font-weight="normal" fill="#000" >0.7</text>
<line x1="158.50" y1="549.70" x2="158.50" y2="553.00" stroke="#000" stroke-width="1.0" />
<text x="158.40" y="560.80" font-size="5.5" text-anchor="middle" font-weight="normal" fill="#000" >0.8</text>
<text x="60.60" y="466.20" font-size="5.6" text-anchor="start" font-weight="normal" fill="#000" font-style="italic">r = 0.48</text>
<text x="60.60" y="472.70" font-size="5.6" font-style="italic">p = 1.2x10<tspan font-size="3.6" dy="-2.2">&#8722;7</tspan></text>
<text x="0" y="0" font-size="7.2" font-style="italic" text-anchor="middle" transform="translate(35.60,508.50) rotate(-90) scale(0.79,1)">CDK6</text>
<text x="0" y="0" font-size="8.2" font-style="italic" text-anchor="middle" transform="translate(108.00,571.70) scale(0.70,1)">HDAC1</text>
<line x1="203.60" y1="512.70" x2="296.30" y2="497.80" stroke="#84b9e6" stroke-width="1.3" />
<rect x="202.35" y="503.63" width="1.7" height="1.7" fill="#1b2b45"/>
<rect x="205.00" y="512.02" width="1.7" height="1.7" fill="#1b2b45"/>
<rect x="206.77" y="519.76" width="1.7" height="1.7" fill="#1b2b45"/>
<rect x="204.78" y="523.63" width="1.7" height="1.7" fill="#1b2b45"/>
<rect x="211.19" y="495.89" width="1.7" height="1.7" fill="#1b2b45"/>
<rect x="214.17" y="499.21" width="1.7" height="1.7" fill="#1b2b45"/>
<rect x="216.38" y="488.16" width="1.7" height="1.7" fill="#1b2b45"/>
<rect x="220.25" y="493.46" width="1.7" height="1.7" fill="#1b2b45"/>
<rect x="221.58" y="500.97" width="1.7" height="1.7" fill="#1b2b45"/>
<rect x="220.25" y="505.39" width="1.7" height="1.7" fill="#1b2b45"/>
<rect x="219.14" y="512.80" width="1.7" height="1.7" fill="#1b2b45"/>
<rect x="215.06" y="523.29" width="1.7" height="1.7" fill="#1b2b45"/>
<rect x="222.24" y="521.30" width="1.7" height="1.7" fill="#1b2b45"/>
<rect x="224.45" y="521.30" width="1.7" height="1.7" fill="#1b2b45"/>
<rect x="223.79" y="516.66" width="1.7" height="1.7" fill="#1b2b45"/>
<rect x="225.55" y="513.90" width="1.7" height="1.7" fill="#1b2b45"/>
<rect x="224.67" y="510.59" width="1.7" height="1.7" fill="#1b2b45"/>
<rect x="227.10" y="502.85" width="1.7" height="1.7" fill="#1b2b45"/>
<rect x="226.66" y="505.84" width="1.7" height="1.7" fill="#1b2b45"/>
<rect x="229.64" y="506.72" width="1.7" height="1.7" fill="#1b2b45"/>
<rect x="231.30" y="506.50" width="1.7" height="1.7" fill="#1b2b45"/>
<rect x="231.08" y="491.25" width="1.7" height="1.7" fill="#1b2b45"/>
<rect x="231.30" y="497.00" width="1.7" height="1.7" fill="#1b2b45"/>
<rect x="232.18" y="501.75" width="1.7" height="1.7" fill="#1b2b45"/>
<rect x="233.29" y="503.63" width="1.7" height="1.7" fill="#1b2b45"/>
<rect x="235.72" y="494.56" width="1.7" height="1.7" fill="#1b2b45"/>
<rect x="236.60" y="497.66" width="1.7" height="1.7" fill="#1b2b45"/>
<rect x="236.82" y="501.19" width="1.7" height="1.7" fill="#1b2b45"/>
<rect x="236.27" y="502.30" width="1.7" height="1.7" fill="#1b2b45"/>
<rect x="239.03" y="501.19" width="1.7" height="1.7" fill="#1b2b45"/>
<rect x="239.92" y="501.19" width="1.7" height="1.7" fill="#1b2b45"/>
<rect x="240.69" y="498.98" width="1.7" height="1.7" fill="#1b2b45"/>
<rect x="240.69" y="492.13" width="1.7" height="1.7" fill="#1b2b45"/>
<rect x="241.80" y="491.47" width="1.7" height="1.7" fill="#1b2b45"/>
<rect x="241.24" y="504.29" width="1.7" height="1.7" fill="#1b2b45"/>
<rect x="242.90" y="504.51" width="1.7" height="1.7" fill="#1b2b45"/>
<rect x="244.01" y="498.10" width="1.7" height="1.7" fill="#1b2b45"/>
<rect x="245.11" y="495.12" width="1.7" height="1.7" fill="#1b2b45"/>
<rect x="245.11" y="502.30" width="1.7" height="1.7" fill="#1b2b45"/>
<rect x="246.77" y="502.30" width="1.7" height="1.7" fill="#1b2b45"/>
<rect x="246.77" y="506.72" width="1.7" height="1.7" fill="#1b2b45"/>
<rect x="239.03" y="506.72" width="1.7" height="1.7" fill="#1b2b45"/>
<rect x="237.38" y="508.93" width="1.7" height="1.7" fill="#1b2b45"/>
<rect x="240.69" y="511.36" width="1.7" height="1.7" fill="#1b2b45"/>
<rect x="239.59" y="516.88" width="1.7" height="1.7" fill="#1b2b45"/>
<rect x="242.90" y="516.11" width="1.7" height="1.7" fill="#1b2b45"/>
<rect x="242.90" y="520.86" width="1.7" height="1.7" fill="#1b2b45"/>
<rect x="247.32" y="511.69" width="1.7" height="1.7" fill="#1b2b45"/>
<rect x="237.71" y="477.77" width="1.7" height="1.7" fill="#1b2b45"/>
<rect x="245.44" y="481.08" width="1.7" height="1.7" fill="#1b2b45"/>
<rect x="248.43" y="486.83" width="1.7" height="1.7" fill="#1b2b45"/>
<rect x="228.21" y="533.02" width="1.7" height="1.7" fill="#1b2b45"/>
<rect x="229.09" y="537.88" width="1.7" height="1.7" fill="#1b2b45"/>
<rect x="236.60" y="534.56" width="1.7" height="1.7" fill="#1b2b45"/>
<rect x="219.14" y="540.75" width="1.7" height="1.7" fill="#1b2b45"/>
<rect x="249.58" y="487.38" width="1.7" height="1.7" fill="#1b2b45"/>
<rect x="253.78" y="488.49" width="1.7" height="1.7" fill="#1b2b45"/>
<rect x="257.98" y="487.93" width="1.7" height="1.7" fill="#1b2b45"/>
<rect x="251.57" y="493.68" width="1.7" height="1.7" fill="#1b2b45"/>
<rect x="250.24" y="495.67" width="1.7" height="1.7" fill="#1b2b45"/>
<rect x="251.02" y="496.22" width="1.7" height="1.7" fill="#1b2b45"/>
<rect x="252.45" y="498.10" width="1.7" height="1.7" fill="#1b2b45"/>
<rect x="251.57" y="499.54" width="1.7" height="1.7" fill="#1b2b45"/>
<rect x="251.79" y="500.64" width="1.7" height="1.7" fill="#1b2b45"/>
<rect x="253.78" y="502.08" width="1.7" height="1.7" fill="#1b2b45"/>
<rect x="254.88" y="502.30" width="1.7" height="1.7" fill="#1b2b45"/>
<rect x="256.54" y="504.29" width="1.7" height="1.7" fill="#1b2b45"/>
<rect x="258.20" y="500.31" width="1.7" height="1.7" fill="#1b2b45"/>
<rect x="260.19" y="501.19" width="1.7" height="1.7" fill="#1b2b45"/>
<rect x="262.07" y="499.54" width="1.7" height="1.7" fill="#1b2b45"/>
<rect x="260.41" y="502.85" width="1.7" height="1.7" fill="#1b2b45"/>
<rect x="264.28" y="503.40" width="1.7" height="1.7" fill="#1b2b45"/>
<rect x="265.93" y="498.98" width="1.7" height="1.7" fill="#1b2b45"/>
<rect x="265.93" y="502.85" width="1.7" height="1.7" fill="#1b2b45"/>
<rect x="268.14" y="494.01" width="1.7" height="1.7" fill="#1b2b45"/>
<rect x="268.37" y="495.67" width="1.7" height="1.7" fill="#1b2b45"/>
<rect x="267.04" y="508.05" width="1.7" height="1.7" fill="#1b2b45"/>
<rect x="249.58" y="508.38" width="1.7" height="1.7" fill="#1b2b45"/>
<rect x="251.57" y="507.27" width="1.7" height="1.7" fill="#1b2b45"/>
<rect x="249.91" y="512.24" width="1.7" height="1.7" fill="#1b2b45"/>
<rect x="251.57" y="513.90" width="1.7" height="1.7" fill="#1b2b45"/>
<rect x="252.67" y="515.34" width="1.7" height="1.7" fill="#1b2b45"/>
<rect x="254.33" y="511.69" width="1.7" height="1.7" fill="#1b2b45"/>
<rect x="257.09" y="508.71" width="1.7" height="1.7" fill="#1b2b45"/>
<rect x="258.75" y="510.03" width="1.7" height="1.7" fill="#1b2b45"/>
<rect x="259.30" y="512.80" width="1.7" height="1.7" fill="#1b2b45"/>
<rect x="262.07" y="508.93" width="1.7" height="1.7" fill="#1b2b45"/>
<rect x="256.54" y="516.11" width="1.7" height="1.7" fill="#1b2b45"/>
<rect x="256.21" y="517.77" width="1.7" height="1.7" fill="#1b2b45"/>
<rect x="257.98" y="520.53" width="1.7" height="1.7" fill="#1b2b45"/>
<rect x="251.02" y="520.20" width="1.7" height="1.7" fill="#1b2b45"/>
<rect x="275.33" y="488.49" width="1.7" height="1.7" fill="#1b2b45"/>
<rect x="276.76" y="489.59" width="1.7" height="1.7" fill="#1b2b45"/>
<rect x="276.98" y="492.91" width="1.7" height="1.7" fill="#1b2b45"/>
<rect x="279.42" y="490.70" width="1.7" height="1.7" fill="#1b2b45"/>
<rect x="280.30" y="493.68" width="1.7" height="1.7" fill="#1b2b45"/>
<rect x="282.51" y="493.68" width="1.7" height="1.7" fill="#1b2b45"/>
<rect x="288.25" y="492.58" width="1.7" height="1.7" fill="#1b2b45"/>
<rect x="290.80" y="502.30" width="1.7" height="1.7" fill="#1b2b45"/>
<rect x="293.34" y="502.08" width="1.7" height="1.7" fill="#1b2b45"/>
<rect x="284.94" y="508.38" width="1.7" height="1.7" fill="#1b2b45"/>
<rect x="288.25" y="507.27" width="1.7" height="1.7" fill="#1b2b45"/>
<line x1="198.50" y1="469.40" x2="198.50" y2="550.20" stroke="#000" stroke-width="1.0" />
<line x1="198.20" y1="549.50" x2="298.50" y2="549.50" stroke="#000" stroke-width="1.0" />
<line x1="195.20" y1="549.50" x2="198.70" y2="549.50" stroke="#000" stroke-width="1.0" />
<text x="192.30" y="551.30" font-size="5.5" text-anchor="end" font-weight="normal" fill="#000" >1.5</text>
<line x1="195.20" y1="536.50" x2="198.70" y2="536.50" stroke="#000" stroke-width="1.0" />
<text x="192.30" y="538.10" font-size="5.5" text-anchor="end" font-weight="normal" fill="#000" >2</text>
<line x1="195.20" y1="523.50" x2="198.70" y2="523.50" stroke="#000" stroke-width="1.0" />
<text x="192.30" y="524.90" font-size="5.5" text-anchor="end" font-weight="normal" fill="#000" >2.5</text>
<line x1="195.20" y1="510.50" x2="198.70" y2="510.50" stroke="#000" stroke-width="1.0" />
<text x="192.30" y="511.70" font-size="5.5" text-anchor="end" font-weight="normal" fill="#000" >3</text>
<line x1="195.20" y1="496.50" x2="198.70" y2="496.50" stroke="#000" stroke-width="1.0" />
<text x="192.30" y="498.50" font-size="5.5" text-anchor="end" font-weight="normal" fill="#000" >3.5</text>
<line x1="195.20" y1="483.50" x2="198.70" y2="483.50" stroke="#000" stroke-width="1.0" />
<text x="192.30" y="485.30" font-size="5.5" text-anchor="end" font-weight="normal" fill="#000" >4</text>
<line x1="195.20" y1="470.50" x2="198.70" y2="470.50" stroke="#000" stroke-width="1.0" />
<text x="192.30" y="472.10" font-size="5.5" text-anchor="end" font-weight="normal" fill="#000" >4.5</text>
<line x1="198.50" y1="549.70" x2="198.50" y2="553.00" stroke="#000" stroke-width="1.0" />
<text x="198.70" y="560.80" font-size="5.5" text-anchor="middle" font-weight="normal" fill="#000" >0.45</text>
<line x1="248.50" y1="549.70" x2="248.50" y2="553.00" stroke="#000" stroke-width="1.0" />
<text x="248.20" y="560.80" font-size="5.5" text-anchor="middle" font-weight="normal" fill="#000" >0.55</text>
<line x1="297.50" y1="549.70" x2="297.50" y2="553.00" stroke="#000" stroke-width="1.0" />
<text x="297.40" y="560.80" font-size="5.5" text-anchor="middle" font-weight="normal" fill="#000" >0.65</text>
<text x="205.00" y="467.00" font-size="5.6" text-anchor="start" font-weight="normal" fill="#000" font-style="italic">r = 0.30</text>
<text x="205.00" y="473.50" font-size="5.6" font-style="italic">p = 5x10<tspan font-size="3.6" dy="-2.2">&#8722;3</tspan></text>
<text x="0" y="0" font-size="7.2" font-style="italic" text-anchor="middle" transform="translate(179.40,508.50) rotate(-90) scale(0.79,1)">CDK6</text>
<text x="0" y="0" font-size="8.2" font-style="italic" text-anchor="middle" transform="translate(249.60,571.70) scale(0.70,1)">SMARCD2</text>
<line x1="346.00" y1="498.80" x2="419.70" y2="511.00" stroke="#84b9e6" stroke-width="1.3" />
<rect x="345.23" y="488.49" width="1.7" height="1.7" fill="#1b2b45"/>
<rect x="344.90" y="503.40" width="1.7" height="1.7" fill="#1b2b45"/>
<rect x="349.32" y="501.75" width="1.7" height="1.7" fill="#1b2b45"/>
<rect x="349.98" y="506.94" width="1.7" height="1.7" fill="#1b2b45"/>
<rect x="347.44" y="518.65" width="1.7" height="1.7" fill="#1b2b45"/>
<rect x="353.51" y="501.75" width="1.7" height="1.7" fill="#1b2b45"/>
<rect x="354.07" y="503.40" width="1.7" height="1.7" fill="#1b2b45"/>
<rect x="355.72" y="497.00" width="1.7" height="1.7" fill="#1b2b45"/>
<rect x="356.28" y="502.08" width="1.7" height="1.7" fill="#1b2b45"/>
<rect x="357.38" y="501.75" width="1.7" height="1.7" fill="#1b2b45"/>
<rect x="359.04" y="502.08" width="1.7" height="1.7" fill="#1b2b45"/>
<rect x="359.59" y="504.29" width="1.7" height="1.7" fill="#1b2b45"/>
<rect x="359.04" y="507.82" width="1.7" height="1.7" fill="#1b2b45"/>
<rect x="361.25" y="499.54" width="1.7" height="1.7" fill="#1b2b45"/>
<rect x="362.13" y="497.88" width="1.7" height="1.7" fill="#1b2b45"/>
<rect x="362.58" y="492.91" width="1.7" height="1.7" fill="#1b2b45"/>
<rect x="362.91" y="503.96" width="1.7" height="1.7" fill="#1b2b45"/>
<rect x="364.01" y="477.99" width="1.7" height="1.7" fill="#1b2b45"/>
<rect x="367.33" y="492.58" width="1.7" height="1.7" fill="#1b2b45"/>
<rect x="368.43" y="497.66" width="1.7" height="1.7" fill="#1b2b45"/>
<rect x="369.54" y="500.09" width="1.7" height="1.7" fill="#1b2b45"/>
<rect x="368.43" y="507.82" width="1.7" height="1.7" fill="#1b2b45"/>
<rect x="368.98" y="506.72" width="1.7" height="1.7" fill="#1b2b45"/>
<rect x="371.75" y="506.72" width="1.7" height="1.7" fill="#1b2b45"/>
<rect x="370.64" y="511.69" width="1.7" height="1.7" fill="#1b2b45"/>
<rect x="370.64" y="516.66" width="1.7" height="1.7" fill="#1b2b45"/>
<rect x="372.85" y="519.76" width="1.7" height="1.7" fill="#1b2b45"/>
<rect x="373.96" y="488.16" width="1.7" height="1.7" fill="#1b2b45"/>
<rect x="374.51" y="497.66" width="1.7" height="1.7" fill="#1b2b45"/>
<rect x="375.06" y="512.80" width="1.7" height="1.7" fill="#1b2b45"/>
<rect x="376.17" y="511.14" width="1.7" height="1.7" fill="#1b2b45"/>
<rect x="377.27" y="502.30" width="1.7" height="1.7" fill="#1b2b45"/>
<rect x="380.25" y="512.02" width="1.7" height="1.7" fill="#1b2b45"/>
<rect x="380.59" y="489.92" width="1.7" height="1.7" fill="#1b2b45"/>
<rect x="381.14" y="493.68" width="1.7" height="1.7" fill="#1b2b45"/>
<rect x="381.69" y="489.04" width="1.7" height="1.7" fill="#1b2b45"/>
<rect x="383.35" y="488.82" width="1.7" height="1.7" fill="#1b2b45"/>
<rect x="382.80" y="500.31" width="1.7" height="1.7" fill="#1b2b45"/>
<rect x="383.90" y="501.19" width="1.7" height="1.7" fill="#1b2b45"/>
<rect x="382.80" y="507.27" width="1.7" height="1.7" fill="#1b2b45"/>
<rect x="383.90" y="510.03" width="1.7" height="1.7" fill="#1b2b45"/>
<rect x="385.01" y="515.56" width="1.7" height="1.7" fill="#1b2b45"/>
<rect x="386.11" y="516.66" width="1.7" height="1.7" fill="#1b2b45"/>
<rect x="386.66" y="487.38" width="1.7" height="1.7" fill="#1b2b45"/>
<rect x="386.11" y="492.35" width="1.7" height="1.7" fill="#1b2b45"/>
<rect x="385.56" y="494.56" width="1.7" height="1.7" fill="#1b2b45"/>
<rect x="387.22" y="495.67" width="1.7" height="1.7" fill="#1b2b45"/>
<rect x="386.11" y="501.19" width="1.7" height="1.7" fill="#1b2b45"/>
<rect x="387.22" y="501.75" width="1.7" height="1.7" fill="#1b2b45"/>
<rect x="381.14" y="504.51" width="1.7" height="1.7" fill="#1b2b45"/>
<rect x="387.77" y="511.14" width="1.7" height="1.7" fill="#1b2b45"/>
<rect x="382.46" y="540.42" width="1.7" height="1.7" fill="#1b2b45"/>
<rect x="390.23" y="486.83" width="1.7" height="1.7" fill="#1b2b45"/>
<rect x="396.53" y="481.08" width="1.7" height="1.7" fill="#1b2b45"/>
<rect x="394.32" y="493.68" width="1.7" height="1.7" fill="#1b2b45"/>
<rect x="397.96" y="495.12" width="1.7" height="1.7" fill="#1b2b45"/>
<rect x="397.41" y="496.22" width="1.7" height="1.7" fill="#1b2b45"/>
<rect x="399.07" y="498.98" width="1.7" height="1.7" fill="#1b2b45"/>
<rect x="401.61" y="491.80" width="1.7" height="1.7" fill="#1b2b45"/>
<rect x="404.26" y="495.89" width="1.7" height="1.7" fill="#1b2b45"/>
<rect x="412.33" y="494.56" width="1.7" height="1.7" fill="#1b2b45"/>
<rect x="406.47" y="499.21" width="1.7" height="1.7" fill="#1b2b45"/>
<rect x="408.46" y="501.19" width="1.7" height="1.7" fill="#1b2b45"/>
<rect x="407.13" y="503.96" width="1.7" height="1.7" fill="#1b2b45"/>
<rect x="403.16" y="503.63" width="1.7" height="1.7" fill="#1b2b45"/>
<rect x="400.72" y="505.61" width="1.7" height="1.7" fill="#1b2b45"/>
<rect x="402.38" y="506.17" width="1.7" height="1.7" fill="#1b2b45"/>
<rect x="405.70" y="507.27" width="1.7" height="1.7" fill="#1b2b45"/>
<rect x="410.89" y="508.93" width="1.7" height="1.7" fill="#1b2b45"/>
<rect x="418.18" y="502.85" width="1.7" height="1.7" fill="#1b2b45"/>
<rect x="391.00" y="502.85" width="1.7" height="1.7" fill="#1b2b45"/>
<rect x="391.88" y="503.40" width="1.7" height="1.7" fill="#1b2b45"/>
<rect x="393.21" y="501.75" width="1.7" height="1.7" fill="#1b2b45"/>
<rect x="394.65" y="501.19" width="1.7" height="1.7" fill="#1b2b45"/>
<rect x="395.42" y="500.64" width="1.7" height="1.7" fill="#1b2b45"/>
<rect x="392.99" y="508.93" width="1.7" height="1.7" fill="#1b2b45"/>
<rect x="394.09" y="512.80" width="1.7" height="1.7" fill="#1b2b45"/>
<rect x="396.30" y="507.82" width="1.7" height="1.7" fill="#1b2b45"/>
<rect x="397.19" y="507.27" width="1.7" height="1.7" fill="#1b2b45"/>
<rect x="399.07" y="510.59" width="1.7" height="1.7" fill="#1b2b45"/>
<rect x="401.61" y="510.92" width="1.7" height="1.7" fill="#1b2b45"/>
<rect x="400.17" y="516.44" width="1.7" height="1.7" fill="#1b2b45"/>
<rect x="406.80" y="513.90" width="1.7" height="1.7" fill="#1b2b45"/>
<rect x="407.91" y="512.80" width="1.7" height="1.7" fill="#1b2b45"/>
<rect x="408.24" y="511.69" width="1.7" height="1.7" fill="#1b2b45"/>
<rect x="409.34" y="516.88" width="1.7" height="1.7" fill="#1b2b45"/>
<rect x="415.31" y="515.01" width="1.7" height="1.7" fill="#1b2b45"/>
<rect x="393.54" y="521.30" width="1.7" height="1.7" fill="#1b2b45"/>
<rect x="401.83" y="520.86" width="1.7" height="1.7" fill="#1b2b45"/>
<rect x="403.49" y="519.98" width="1.7" height="1.7" fill="#1b2b45"/>
<rect x="406.80" y="520.20" width="1.7" height="1.7" fill="#1b2b45"/>
<rect x="410.12" y="521.08" width="1.7" height="1.7" fill="#1b2b45"/>
<rect x="408.24" y="523.29" width="1.7" height="1.7" fill="#1b2b45"/>
<rect x="411.22" y="523.51" width="1.7" height="1.7" fill="#1b2b45"/>
<rect x="390.78" y="534.12" width="1.7" height="1.7" fill="#1b2b45"/>
<rect x="404.26" y="532.69" width="1.7" height="1.7" fill="#1b2b45"/>
<rect x="419.29" y="537.66" width="1.7" height="1.7" fill="#1b2b45"/>
<line x1="339.50" y1="469.40" x2="339.50" y2="550.20" stroke="#000" stroke-width="1.0" />
<line x1="339.20" y1="549.50" x2="433.50" y2="549.50" stroke="#000" stroke-width="1.0" />
<line x1="336.20" y1="549.50" x2="339.70" y2="549.50" stroke="#000" stroke-width="1.0" />
<text x="333.30" y="551.30" font-size="5.5" text-anchor="end" font-weight="normal" fill="#000" >1.5</text>
<line x1="336.20" y1="536.50" x2="339.70" y2="536.50" stroke="#000" stroke-width="1.0" />
<text x="333.30" y="538.10" font-size="5.5" text-anchor="end" font-weight="normal" fill="#000" >2</text>
<line x1="336.20" y1="523.50" x2="339.70" y2="523.50" stroke="#000" stroke-width="1.0" />
<text x="333.30" y="524.90" font-size="5.5" text-anchor="end" font-weight="normal" fill="#000" >5</text>
<line x1="336.20" y1="510.50" x2="339.70" y2="510.50" stroke="#000" stroke-width="1.0" />
<text x="333.30" y="511.70" font-size="5.5" text-anchor="end" font-weight="normal" fill="#000" >3</text>
<line x1="336.20" y1="496.50" x2="339.70" y2="496.50" stroke="#000" stroke-width="1.0" />
<text x="333.30" y="498.50" font-size="5.5" text-anchor="end" font-weight="normal" fill="#000" >5</text>
<line x1="336.20" y1="483.50" x2="339.70" y2="483.50" stroke="#000" stroke-width="1.0" />
<text x="333.30" y="485.30" font-size="5.5" text-anchor="end" font-weight="normal" fill="#000" >4</text>
<line x1="336.20" y1="470.50" x2="339.70" y2="470.50" stroke="#000" stroke-width="1.0" />
<text x="333.30" y="472.10" font-size="5.5" text-anchor="end" font-weight="normal" fill="#000" >4.5</text>
<line x1="339.50" y1="549.70" x2="339.50" y2="553.00" stroke="#000" stroke-width="1.0" />
<text x="339.70" y="560.80" font-size="5.5" text-anchor="middle" font-weight="normal" fill="#000" >0.7</text>
<line x1="365.50" y1="549.70" x2="365.50" y2="553.00" stroke="#000" stroke-width="1.0" />
<text x="365.70" y="560.80" font-size="5.5" text-anchor="middle" font-weight="normal" fill="#000" >1.2</text>
<line x1="392.50" y1="549.70" x2="392.50" y2="553.00" stroke="#000" stroke-width="1.0" />
<text x="392.00" y="560.80" font-size="5.5" text-anchor="middle" font-weight="normal" fill="#000" >1.7</text>
<line x1="418.50" y1="549.70" x2="418.50" y2="553.00" stroke="#000" stroke-width="1.0" />
<text x="418.60" y="560.80" font-size="5.5" text-anchor="middle" font-weight="normal" fill="#000" >2.2</text>
<text x="343.50" y="467.80" font-size="5.6" text-anchor="start" font-weight="normal" fill="#000" font-style="italic">r = -0.27</text>
<text x="343.50" y="474.30" font-size="5.6" font-style="italic">p = 2.2x10<tspan font-size="3.6" dy="-2.2">&#8722;2</tspan></text>
<text x="0" y="0" font-size="7.2" font-style="italic" text-anchor="middle" transform="translate(320.10,508.50) rotate(-90) scale(0.79,1)">CDK6</text>
<text x="0" y="0" font-size="8.2" font-style="italic" text-anchor="middle" transform="translate(386.50,571.70) scale(0.70,1)">SLC2A3/GLUT3</text>
<line x1="58.20" y1="656.20" x2="149.50" y2="633.00" stroke="#84b9e6" stroke-width="1.3" />
<rect x="56.98" y="634.29" width="1.7" height="1.7" fill="#1b2b45"/>
<rect x="72.04" y="624.10" width="1.7" height="1.7" fill="#1b2b45"/>
<rect x="67.74" y="642.22" width="1.7" height="1.7" fill="#1b2b45"/>
<rect x="70.91" y="650.83" width="1.7" height="1.7" fill="#1b2b45"/>
<rect x="77.03" y="645.16" width="1.7" height="1.7" fill="#1b2b45"/>
<rect x="81.10" y="651.05" width="1.7" height="1.7" fill="#1b2b45"/>
<rect x="83.82" y="636.10" width="1.7" height="1.7" fill="#1b2b45"/>
<rect x="84.16" y="651.28" width="1.7" height="1.7" fill="#1b2b45"/>
<rect x="85.63" y="650.49" width="1.7" height="1.7" fill="#1b2b45"/>
<rect x="89.82" y="647.88" width="1.7" height="1.7" fill="#1b2b45"/>
<rect x="89.48" y="641.09" width="1.7" height="1.7" fill="#1b2b45"/>
<rect x="90.39" y="639.16" width="1.7" height="1.7" fill="#1b2b45"/>
<rect x="92.09" y="636.90" width="1.7" height="1.7" fill="#1b2b45"/>
<rect x="92.66" y="629.76" width="1.7" height="1.7" fill="#1b2b45"/>
<rect x="94.69" y="639.95" width="1.7" height="1.7" fill="#1b2b45"/>
<rect x="98.32" y="625.01" width="1.7" height="1.7" fill="#1b2b45"/>
<rect x="98.09" y="635.42" width="1.7" height="1.7" fill="#1b2b45"/>
<rect x="99.45" y="634.29" width="1.7" height="1.7" fill="#1b2b45"/>
<rect x="100.02" y="639.16" width="1.7" height="1.7" fill="#1b2b45"/>
<rect x="102.85" y="638.03" width="1.7" height="1.7" fill="#1b2b45"/>
<rect x="73.97" y="661.25" width="1.7" height="1.7" fill="#1b2b45"/>
<rect x="59.59" y="669.17" width="1.7" height="1.7" fill="#1b2b45"/>
<rect x="69.44" y="673.14" width="1.7" height="1.7" fill="#1b2b45"/>
<rect x="81.10" y="677.33" width="1.7" height="1.7" fill="#1b2b45"/>
<rect x="85.86" y="667.13" width="1.7" height="1.7" fill="#1b2b45"/>
<rect x="86.77" y="659.21" width="1.7" height="1.7" fill="#1b2b45"/>
<rect x="91.52" y="658.98" width="1.7" height="1.7" fill="#1b2b45"/>
<rect x="92.88" y="660.34" width="1.7" height="1.7" fill="#1b2b45"/>
<rect x="96.05" y="653.88" width="1.7" height="1.7" fill="#1b2b45"/>
<rect x="100.02" y="654.68" width="1.7" height="1.7" fill="#1b2b45"/>
<rect x="102.62" y="662.15" width="1.7" height="1.7" fill="#1b2b45"/>
<rect x="96.96" y="673.14" width="1.7" height="1.7" fill="#1b2b45"/>
<rect x="104.85" y="630.44" width="1.7" height="1.7" fill="#1b2b45"/>
<rect x="106.32" y="632.93" width="1.7" height="1.7" fill="#1b2b45"/>
<rect x="108.25" y="635.42" width="1.7" height="1.7" fill="#1b2b45"/>
<rect x="109.38" y="634.97" width="1.7" height="1.7" fill="#1b2b45"/>
<rect x="107.91" y="638.82" width="1.7" height="1.7" fill="#1b2b45"/>
<rect x="107.45" y="642.22" width="1.7" height="1.7" fill="#1b2b45"/>
<rect x="112.21" y="633.16" width="1.7" height="1.7" fill="#1b2b45"/>
<rect x="113.12" y="636.90" width="1.7" height="1.7" fill="#1b2b45"/>
<rect x="114.25" y="635.76" width="1.7" height="1.7" fill="#1b2b45"/>
<rect x="114.48" y="630.10" width="1.7" height="1.7" fill="#1b2b45"/>
<rect x="115.04" y="627.84" width="1.7" height="1.7" fill="#1b2b45"/>
<rect x="116.51" y="625.57" width="1.7" height="1.7" fill="#1b2b45"/>
<rect x="116.74" y="632.37" width="1.7" height="1.7" fill="#1b2b45"/>
<rect x="116.17" y="634.63" width="1.7" height="1.7" fill="#1b2b45"/>
<rect x="117.87" y="635.20" width="1.7" height="1.7" fill="#1b2b45"/>
<rect x="117.65" y="630.44" width="1.7" height="1.7" fill="#1b2b45"/>
<rect x="119.01" y="631.80" width="1.7" height="1.7" fill="#1b2b45"/>
<rect x="120.14" y="633.50" width="1.7" height="1.7" fill="#1b2b45"/>
<rect x="120.36" y="623.87" width="1.7" height="1.7" fill="#1b2b45"/>
<rect x="121.04" y="625.91" width="1.7" height="1.7" fill="#1b2b45"/>
<rect x="120.70" y="628.40" width="1.7" height="1.7" fill="#1b2b45"/>
<rect x="121.27" y="634.63" width="1.7" height="1.7" fill="#1b2b45"/>
<rect x="121.84" y="621.83" width="1.7" height="1.7" fill="#1b2b45"/>
<rect x="123.31" y="621.04" width="1.7" height="1.7" fill="#1b2b45"/>
<rect x="123.76" y="625.01" width="1.7" height="1.7" fill="#1b2b45"/>
<rect x="123.54" y="628.63" width="1.7" height="1.7" fill="#1b2b45"/>
<rect x="123.54" y="632.37" width="1.7" height="1.7" fill="#1b2b45"/>
<rect x="124.10" y="635.76" width="1.7" height="1.7" fill="#1b2b45"/>
<rect x="125.57" y="622.74" width="1.7" height="1.7" fill="#1b2b45"/>
<rect x="126.37" y="626.14" width="1.7" height="1.7" fill="#1b2b45"/>
<rect x="127.50" y="624.44" width="1.7" height="1.7" fill="#1b2b45"/>
<rect x="127.16" y="630.67" width="1.7" height="1.7" fill="#1b2b45"/>
<rect x="127.50" y="631.80" width="1.7" height="1.7" fill="#1b2b45"/>
<rect x="128.07" y="629.54" width="1.7" height="1.7" fill="#1b2b45"/>
<rect x="129.42" y="628.40" width="1.7" height="1.7" fill="#1b2b45"/>
<rect x="130.33" y="630.10" width="1.7" height="1.7" fill="#1b2b45"/>
<rect x="130.10" y="635.42" width="1.7" height="1.7" fill="#1b2b45"/>
<rect x="128.63" y="638.60" width="1.7" height="1.7" fill="#1b2b45"/>
<rect x="132.03" y="629.54" width="1.7" height="1.7" fill="#1b2b45"/>
<rect x="133.16" y="630.10" width="1.7" height="1.7" fill="#1b2b45"/>
<rect x="134.63" y="631.23" width="1.7" height="1.7" fill="#1b2b45"/>
<rect x="132.82" y="623.87" width="1.7" height="1.7" fill="#1b2b45"/>
<rect x="132.82" y="627.04" width="1.7" height="1.7" fill="#1b2b45"/>
<rect x="132.82" y="634.63" width="1.7" height="1.7" fill="#1b2b45"/>
<rect x="135.43" y="639.16" width="1.7" height="1.7" fill="#1b2b45"/>
<rect x="137.13" y="633.50" width="1.7" height="1.7" fill="#1b2b45"/>
<rect x="137.69" y="639.95" width="1.7" height="1.7" fill="#1b2b45"/>
<rect x="141.66" y="629.54" width="1.7" height="1.7" fill="#1b2b45"/>
<rect x="145.05" y="636.10" width="1.7" height="1.7" fill="#1b2b45"/>
<rect x="119.01" y="638.82" width="1.7" height="1.7" fill="#1b2b45"/>
<rect x="121.27" y="639.95" width="1.7" height="1.7" fill="#1b2b45"/>
<rect x="126.93" y="640.29" width="1.7" height="1.7" fill="#1b2b45"/>
<rect x="125.57" y="643.69" width="1.7" height="1.7" fill="#1b2b45"/>
<rect x="124.44" y="645.39" width="1.7" height="1.7" fill="#1b2b45"/>
<rect x="123.54" y="645.16" width="1.7" height="1.7" fill="#1b2b45"/>
<rect x="117.87" y="645.16" width="1.7" height="1.7" fill="#1b2b45"/>
<rect x="118.78" y="645.39" width="1.7" height="1.7" fill="#1b2b45"/>
<rect x="129.76" y="645.16" width="1.7" height="1.7" fill="#1b2b45"/>
<rect x="131.24" y="645.16" width="1.7" height="1.7" fill="#1b2b45"/>
<rect x="135.43" y="646.52" width="1.7" height="1.7" fill="#1b2b45"/>
<rect x="127.50" y="648.56" width="1.7" height="1.7" fill="#1b2b45"/>
<rect x="107.68" y="649.35" width="1.7" height="1.7" fill="#1b2b45"/>
<rect x="110.51" y="649.69" width="1.7" height="1.7" fill="#1b2b45"/>
<rect x="113.91" y="650.49" width="1.7" height="1.7" fill="#1b2b45"/>
<rect x="113.91" y="651.28" width="1.7" height="1.7" fill="#1b2b45"/>
<rect x="119.91" y="651.28" width="1.7" height="1.7" fill="#1b2b45"/>
<rect x="124.67" y="651.28" width="1.7" height="1.7" fill="#1b2b45"/>
<rect x="132.82" y="651.96" width="1.7" height="1.7" fill="#1b2b45"/>
<rect x="140.52" y="653.32" width="1.7" height="1.7" fill="#1b2b45"/>
<rect x="145.96" y="655.36" width="1.7" height="1.7" fill="#1b2b45"/>
<rect x="148.45" y="660.68" width="1.7" height="1.7" fill="#1b2b45"/>
<rect x="116.74" y="661.47" width="1.7" height="1.7" fill="#1b2b45"/>
<rect x="124.67" y="661.25" width="1.7" height="1.7" fill="#1b2b45"/>
<rect x="126.37" y="661.47" width="1.7" height="1.7" fill="#1b2b45"/>
<rect x="119.57" y="666.91" width="1.7" height="1.7" fill="#1b2b45"/>
<line x1="54.50" y1="613.60" x2="54.50" y2="692.30" stroke="#000" stroke-width="1.0" />
<line x1="53.80" y1="691.50" x2="154.50" y2="691.50" stroke="#000" stroke-width="1.0" />
<line x1="50.80" y1="691.50" x2="54.30" y2="691.50" stroke="#000" stroke-width="1.0" />
<text x="47.90" y="693.40" font-size="5.5" text-anchor="end" font-weight="normal" fill="#000" >1.5</text>
<line x1="50.80" y1="676.50" x2="54.30" y2="676.50" stroke="#000" stroke-width="1.0" />
<text x="47.90" y="678.10" font-size="5.5" text-anchor="end" font-weight="normal" fill="#000" >2</text>
<line x1="50.80" y1="661.50" x2="54.30" y2="661.50" stroke="#000" stroke-width="1.0" />
<text x="47.90" y="662.80" font-size="5.5" text-anchor="end" font-weight="normal" fill="#000" >2.5</text>
<line x1="50.80" y1="645.50" x2="54.30" y2="645.50" stroke="#000" stroke-width="1.0" />
<text x="47.90" y="647.50" font-size="5.5" text-anchor="end" font-weight="normal" fill="#000" >3</text>
<line x1="50.80" y1="630.50" x2="54.30" y2="630.50" stroke="#000" stroke-width="1.0" />
<text x="47.90" y="632.20" font-size="5.5" text-anchor="end" font-weight="normal" fill="#000" >3.5</text>
<line x1="50.80" y1="615.50" x2="54.30" y2="615.50" stroke="#000" stroke-width="1.0" />
<text x="47.90" y="616.90" font-size="5.5" text-anchor="end" font-weight="normal" fill="#000" >4</text>
<line x1="54.50" y1="691.80" x2="54.50" y2="695.10" stroke="#000" stroke-width="1.0" />
<text x="54.30" y="702.90" font-size="5.5" text-anchor="middle" font-weight="normal" fill="#000" >0.5</text>
<line x1="86.50" y1="691.80" x2="86.50" y2="695.10" stroke="#000" stroke-width="1.0" />
<text x="86.60" y="702.90" font-size="5.5" text-anchor="middle" font-weight="normal" fill="#000" >0.6</text>
<line x1="118.50" y1="691.80" x2="118.50" y2="695.10" stroke="#000" stroke-width="1.0" />
<text x="118.90" y="702.90" font-size="5.5" text-anchor="middle" font-weight="normal" fill="#000" >0.7</text>
<line x1="151.50" y1="691.80" x2="151.50" y2="695.10" stroke="#000" stroke-width="1.0" />
<text x="151.30" y="702.90" font-size="5.5" text-anchor="middle" font-weight="normal" fill="#000" >0.8</text>
<text x="59.50" y="611.10" font-size="5.6" text-anchor="start" font-weight="normal" fill="#000" font-style="italic">r = 0.31</text>
<text x="59.50" y="617.60" font-size="5.6" font-style="italic">p = 7.3x10<tspan font-size="3.6" dy="-2.2">&#8722;4</tspan></text>
<text x="0" y="0" font-size="7.2" font-style="italic" text-anchor="middle" transform="translate(35.80,652.40) rotate(-90) scale(0.79,1)">CDK6</text>
<text x="0" y="0" font-size="8.2" font-style="italic" text-anchor="middle" transform="translate(104.50,714.60) scale(0.70,1)">HDAC1</text>
<line x1="207.00" y1="656.20" x2="290.50" y2="633.00" stroke="#84b9e6" stroke-width="1.3" />
<rect x="205.51" y="670.31" width="1.7" height="1.7" fill="#1b2b45"/>
<rect x="211.97" y="662.60" width="1.7" height="1.7" fill="#1b2b45"/>
<rect x="217.63" y="663.51" width="1.7" height="1.7" fill="#1b2b45"/>
<rect x="218.31" y="632.93" width="1.7" height="1.7" fill="#1b2b45"/>
<rect x="221.37" y="633.50" width="1.7" height="1.7" fill="#1b2b45"/>
<rect x="220.80" y="648.79" width="1.7" height="1.7" fill="#1b2b45"/>
<rect x="222.50" y="652.75" width="1.7" height="1.7" fill="#1b2b45"/>
<rect x="225.33" y="662.94" width="1.7" height="1.7" fill="#1b2b45"/>
<rect x="225.90" y="668.27" width="1.7" height="1.7" fill="#1b2b45"/>
<rect x="223.63" y="677.67" width="1.7" height="1.7" fill="#1b2b45"/>
<rect x="230.77" y="668.27" width="1.7" height="1.7" fill="#1b2b45"/>
<rect x="231.22" y="673.93" width="1.7" height="1.7" fill="#1b2b45"/>
<rect x="230.43" y="660.68" width="1.7" height="1.7" fill="#1b2b45"/>
<rect x="230.99" y="652.41" width="1.7" height="1.7" fill="#1b2b45"/>
<rect x="232.13" y="652.75" width="1.7" height="1.7" fill="#1b2b45"/>
<rect x="226.24" y="637.24" width="1.7" height="1.7" fill="#1b2b45"/>
<rect x="226.69" y="639.50" width="1.7" height="1.7" fill="#1b2b45"/>
<rect x="228.73" y="632.37" width="1.7" height="1.7" fill="#1b2b45"/>
<rect x="231.56" y="633.84" width="1.7" height="1.7" fill="#1b2b45"/>
<rect x="231.56" y="641.43" width="1.7" height="1.7" fill="#1b2b45"/>
<rect x="232.69" y="630.10" width="1.7" height="1.7" fill="#1b2b45"/>
<rect x="233.26" y="630.89" width="1.7" height="1.7" fill="#1b2b45"/>
<rect x="234.16" y="633.50" width="1.7" height="1.7" fill="#1b2b45"/>
<rect x="234.39" y="637.69" width="1.7" height="1.7" fill="#1b2b45"/>
<rect x="234.39" y="645.16" width="1.7" height="1.7" fill="#1b2b45"/>
<rect x="234.96" y="641.43" width="1.7" height="1.7" fill="#1b2b45"/>
<rect x="235.52" y="635.20" width="1.7" height="1.7" fill="#1b2b45"/>
<rect x="236.66" y="641.99" width="1.7" height="1.7" fill="#1b2b45"/>
<rect x="237.22" y="633.50" width="1.7" height="1.7" fill="#1b2b45"/>
<rect x="237.79" y="638.60" width="1.7" height="1.7" fill="#1b2b45"/>
<rect x="238.35" y="629.31" width="1.7" height="1.7" fill="#1b2b45"/>
<rect x="239.49" y="636.33" width="1.7" height="1.7" fill="#1b2b45"/>
<rect x="240.05" y="633.16" width="1.7" height="1.7" fill="#1b2b45"/>
<rect x="239.15" y="641.99" width="1.7" height="1.7" fill="#1b2b45"/>
<rect x="240.62" y="642.56" width="1.7" height="1.7" fill="#1b2b45"/>
<rect x="241.19" y="635.76" width="1.7" height="1.7" fill="#1b2b45"/>
<rect x="241.75" y="638.03" width="1.7" height="1.7" fill="#1b2b45"/>
<rect x="242.54" y="635.20" width="1.7" height="1.7" fill="#1b2b45"/>
<rect x="242.88" y="639.16" width="1.7" height="1.7" fill="#1b2b45"/>
<rect x="243.45" y="640.63" width="1.7" height="1.7" fill="#1b2b45"/>
<rect x="244.58" y="633.50" width="1.7" height="1.7" fill="#1b2b45"/>
<rect x="245.49" y="632.93" width="1.7" height="1.7" fill="#1b2b45"/>
<rect x="245.72" y="635.76" width="1.7" height="1.7" fill="#1b2b45"/>
<rect x="246.28" y="638.03" width="1.7" height="1.7" fill="#1b2b45"/>
<rect x="247.41" y="628.40" width="1.7" height="1.7" fill="#1b2b45"/>
<rect x="247.98" y="638.03" width="1.7" height="1.7" fill="#1b2b45"/>
<rect x="247.98" y="641.99" width="1.7" height="1.7" fill="#1b2b45"/>
<rect x="247.98" y="646.52" width="1.7" height="1.7" fill="#1b2b45"/>
<rect x="236.66" y="647.66" width="1.7" height="1.7" fill="#1b2b45"/>
<rect x="238.92" y="649.92" width="1.7" height="1.7" fill="#1b2b45"/>
<rect x="239.15" y="653.88" width="1.7" height="1.7" fill="#1b2b45"/>
<rect x="242.88" y="652.75" width="1.7" height="1.7" fill="#1b2b45"/>
<rect x="245.15" y="655.81" width="1.7" height="1.7" fill="#1b2b45"/>
<rect x="238.01" y="661.81" width="1.7" height="1.7" fill="#1b2b45"/>
<rect x="241.75" y="662.94" width="1.7" height="1.7" fill="#1b2b45"/>
<rect x="244.02" y="661.02" width="1.7" height="1.7" fill="#1b2b45"/>
<rect x="249.64" y="631.80" width="1.7" height="1.7" fill="#1b2b45"/>
<rect x="249.98" y="641.43" width="1.7" height="1.7" fill="#1b2b45"/>
<rect x="251.11" y="643.13" width="1.7" height="1.7" fill="#1b2b45"/>
<rect x="251.68" y="638.03" width="1.7" height="1.7" fill="#1b2b45"/>
<rect x="252.59" y="636.90" width="1.7" height="1.7" fill="#1b2b45"/>
<rect x="253.38" y="635.76" width="1.7" height="1.7" fill="#1b2b45"/>
<rect x="253.72" y="643.13" width="1.7" height="1.7" fill="#1b2b45"/>
<rect x="254.85" y="631.80" width="1.7" height="1.7" fill="#1b2b45"/>
<rect x="255.30" y="638.82" width="1.7" height="1.7" fill="#1b2b45"/>
<rect x="255.64" y="626.70" width="1.7" height="1.7" fill="#1b2b45"/>
<rect x="257.57" y="632.93" width="1.7" height="1.7" fill="#1b2b45"/>
<rect x="257.91" y="628.97" width="1.7" height="1.7" fill="#1b2b45"/>
<rect x="259.04" y="636.90" width="1.7" height="1.7" fill="#1b2b45"/>
<rect x="259.04" y="642.90" width="1.7" height="1.7" fill="#1b2b45"/>
<rect x="259.83" y="632.93" width="1.7" height="1.7" fill="#1b2b45"/>
<rect x="260.74" y="632.37" width="1.7" height="1.7" fill="#1b2b45"/>
<rect x="261.31" y="636.33" width="1.7" height="1.7" fill="#1b2b45"/>
<rect x="262.44" y="636.33" width="1.7" height="1.7" fill="#1b2b45"/>
<rect x="263.01" y="647.43" width="1.7" height="1.7" fill="#1b2b45"/>
<rect x="264.70" y="628.40" width="1.7" height="1.7" fill="#1b2b45"/>
<rect x="265.84" y="633.84" width="1.7" height="1.7" fill="#1b2b45"/>
<rect x="266.18" y="639.73" width="1.7" height="1.7" fill="#1b2b45"/>
<rect x="267.54" y="634.97" width="1.7" height="1.7" fill="#1b2b45"/>
<rect x="266.97" y="647.88" width="1.7" height="1.7" fill="#1b2b45"/>
<rect x="268.10" y="651.62" width="1.7" height="1.7" fill="#1b2b45"/>
<rect x="270.71" y="634.29" width="1.7" height="1.7" fill="#1b2b45"/>
<rect x="270.93" y="636.90" width="1.7" height="1.7" fill="#1b2b45"/>
<rect x="271.84" y="653.54" width="1.7" height="1.7" fill="#1b2b45"/>
<rect x="272.97" y="638.82" width="1.7" height="1.7" fill="#1b2b45"/>
<rect x="273.76" y="635.76" width="1.7" height="1.7" fill="#1b2b45"/>
<rect x="274.90" y="639.95" width="1.7" height="1.7" fill="#1b2b45"/>
<rect x="275.46" y="628.97" width="1.7" height="1.7" fill="#1b2b45"/>
<rect x="276.37" y="627.84" width="1.7" height="1.7" fill="#1b2b45"/>
<rect x="276.82" y="625.01" width="1.7" height="1.7" fill="#1b2b45"/>
<rect x="277.95" y="633.84" width="1.7" height="1.7" fill="#1b2b45"/>
<rect x="279.99" y="636.10" width="1.7" height="1.7" fill="#1b2b45"/>
<rect x="284.52" y="638.82" width="1.7" height="1.7" fill="#1b2b45"/>
<rect x="289.62" y="637.46" width="1.7" height="1.7" fill="#1b2b45"/>
<rect x="249.98" y="647.66" width="1.7" height="1.7" fill="#1b2b45"/>
<rect x="252.25" y="652.75" width="1.7" height="1.7" fill="#1b2b45"/>
<rect x="253.95" y="653.32" width="1.7" height="1.7" fill="#1b2b45"/>
<rect x="254.51" y="657.28" width="1.7" height="1.7" fill="#1b2b45"/>
<rect x="255.30" y="655.81" width="1.7" height="1.7" fill="#1b2b45"/>
<rect x="257.91" y="651.62" width="1.7" height="1.7" fill="#1b2b45"/>
<rect x="259.04" y="652.19" width="1.7" height="1.7" fill="#1b2b45"/>
<rect x="257.12" y="662.94" width="1.7" height="1.7" fill="#1b2b45"/>
<rect x="260.51" y="661.81" width="1.7" height="1.7" fill="#1b2b45"/>
<rect x="255.08" y="674.27" width="1.7" height="1.7" fill="#1b2b45"/>
<line x1="198.50" y1="617.00" x2="198.50" y2="692.30" stroke="#000" stroke-width="1.0" />
<line x1="198.20" y1="691.50" x2="302.60" y2="691.50" stroke="#000" stroke-width="1.0" />
<line x1="195.20" y1="691.50" x2="198.70" y2="691.50" stroke="#000" stroke-width="1.0" />
<text x="192.30" y="693.40" font-size="5.5" text-anchor="end" font-weight="normal" fill="#000" >1.5</text>
<line x1="195.20" y1="677.50" x2="198.70" y2="677.50" stroke="#000" stroke-width="1.0" />
<text x="192.30" y="678.86" font-size="5.5" text-anchor="end" font-weight="normal" fill="#000" >2</text>
<line x1="195.20" y1="662.50" x2="198.70" y2="662.50" stroke="#000" stroke-width="1.0" />
<text x="192.30" y="664.32" font-size="5.5" text-anchor="end" font-weight="normal" fill="#000" >2.5</text>
<line x1="195.20" y1="648.50" x2="198.70" y2="648.50" stroke="#000" stroke-width="1.0" />
<text x="192.30" y="649.78" font-size="5.5" text-anchor="end" font-weight="normal" fill="#000" >3</text>
<line x1="195.20" y1="633.50" x2="198.70" y2="633.50" stroke="#000" stroke-width="1.0" />
<text x="192.30" y="635.24" font-size="5.5" text-anchor="end" font-weight="normal" fill="#000" >3.5</text>
<line x1="195.20" y1="619.50" x2="198.70" y2="619.50" stroke="#000" stroke-width="1.0" />
<text x="192.30" y="620.70" font-size="5.5" text-anchor="end" font-weight="normal" fill="#000" >4</text>
<line x1="198.50" y1="691.80" x2="198.50" y2="695.10" stroke="#000" stroke-width="1.0" />
<text x="198.70" y="702.90" font-size="5.5" text-anchor="middle" font-weight="normal" fill="#000" >0.4</text>
<line x1="232.50" y1="691.80" x2="232.50" y2="695.10" stroke="#000" stroke-width="1.0" />
<text x="232.40" y="702.90" font-size="5.5" text-anchor="middle" font-weight="normal" fill="#000" >0.5</text>
<line x1="266.50" y1="691.80" x2="266.50" y2="695.10" stroke="#000" stroke-width="1.0" />
<text x="266.10" y="702.90" font-size="5.5" text-anchor="middle" font-weight="normal" fill="#000" >0.6</text>
<line x1="299.50" y1="691.80" x2="299.50" y2="695.10" stroke="#000" stroke-width="1.0" />
<text x="299.80" y="702.90" font-size="5.5" text-anchor="middle" font-weight="normal" fill="#000" >0.7</text>
<text x="204.60" y="611.10" font-size="5.6" text-anchor="start" font-weight="normal" fill="#000" font-style="italic">r = 0.30</text>
<text x="204.60" y="617.60" font-size="5.6" font-style="italic">p = 1.5x10<tspan font-size="3.6" dy="-2.2">&#8722;4</tspan></text>
<text x="0" y="0" font-size="7.2" font-style="italic" text-anchor="middle" transform="translate(179.80,653.90) rotate(-90) scale(0.79,1)">CDK6</text>
<text x="0" y="0" font-size="8.2" font-style="italic" text-anchor="middle" transform="translate(250.80,714.60) scale(0.70,1)">SMARCD2</text>
<line x1="339.70" y1="631.20" x2="427.30" y2="653.70" stroke="#84b9e6" stroke-width="1.3" />
<rect x="345.38" y="626.36" width="1.7" height="1.7" fill="#1b2b45"/>
<rect x="345.38" y="630.89" width="1.7" height="1.7" fill="#1b2b45"/>
<rect x="349.57" y="636.10" width="1.7" height="1.7" fill="#1b2b45"/>
<rect x="353.65" y="631.80" width="1.7" height="1.7" fill="#1b2b45"/>
<rect x="356.36" y="636.90" width="1.7" height="1.7" fill="#1b2b45"/>
<rect x="359.31" y="632.71" width="1.7" height="1.7" fill="#1b2b45"/>
<rect x="358.63" y="626.14" width="1.7" height="1.7" fill="#1b2b45"/>
<rect x="359.54" y="627.50" width="1.7" height="1.7" fill="#1b2b45"/>
<rect x="361.80" y="625.01" width="1.7" height="1.7" fill="#1b2b45"/>
<rect x="362.37" y="627.84" width="1.7" height="1.7" fill="#1b2b45"/>
<rect x="366.33" y="623.87" width="1.7" height="1.7" fill="#1b2b45"/>
<rect x="366.56" y="628.40" width="1.7" height="1.7" fill="#1b2b45"/>
<rect x="365.76" y="631.80" width="1.7" height="1.7" fill="#1b2b45"/>
<rect x="365.76" y="633.84" width="1.7" height="1.7" fill="#1b2b45"/>
<rect x="364.63" y="636.10" width="1.7" height="1.7" fill="#1b2b45"/>
<rect x="361.80" y="637.46" width="1.7" height="1.7" fill="#1b2b45"/>
<rect x="363.50" y="642.56" width="1.7" height="1.7" fill="#1b2b45"/>
<rect x="362.37" y="649.69" width="1.7" height="1.7" fill="#1b2b45"/>
<rect x="352.74" y="656.15" width="1.7" height="1.7" fill="#1b2b45"/>
<rect x="356.36" y="654.68" width="1.7" height="1.7" fill="#1b2b45"/>
<rect x="367.24" y="661.47" width="1.7" height="1.7" fill="#1b2b45"/>
<rect x="369.50" y="667.81" width="1.7" height="1.7" fill="#1b2b45"/>
<rect x="371.09" y="648.22" width="1.7" height="1.7" fill="#1b2b45"/>
<rect x="371.99" y="653.09" width="1.7" height="1.7" fill="#1b2b45"/>
<rect x="370.86" y="641.43" width="1.7" height="1.7" fill="#1b2b45"/>
<rect x="371.99" y="642.22" width="1.7" height="1.7" fill="#1b2b45"/>
<rect x="369.16" y="636.33" width="1.7" height="1.7" fill="#1b2b45"/>
<rect x="369.73" y="634.07" width="1.7" height="1.7" fill="#1b2b45"/>
<rect x="371.43" y="632.93" width="1.7" height="1.7" fill="#1b2b45"/>
<rect x="372.22" y="635.42" width="1.7" height="1.7" fill="#1b2b45"/>
<rect x="373.13" y="637.46" width="1.7" height="1.7" fill="#1b2b45"/>
<rect x="374.03" y="638.82" width="1.7" height="1.7" fill="#1b2b45"/>
<rect x="375.96" y="635.20" width="1.7" height="1.7" fill="#1b2b45"/>
<rect x="376.52" y="632.93" width="1.7" height="1.7" fill="#1b2b45"/>
<rect x="376.75" y="636.90" width="1.7" height="1.7" fill="#1b2b45"/>
<rect x="377.66" y="628.18" width="1.7" height="1.7" fill="#1b2b45"/>
<rect x="378.79" y="627.27" width="1.7" height="1.7" fill="#1b2b45"/>
<rect x="378.22" y="631.23" width="1.7" height="1.7" fill="#1b2b45"/>
<rect x="379.01" y="632.93" width="1.7" height="1.7" fill="#1b2b45"/>
<rect x="379.92" y="634.63" width="1.7" height="1.7" fill="#1b2b45"/>
<rect x="378.56" y="641.43" width="1.7" height="1.7" fill="#1b2b45"/>
<rect x="381.62" y="631.23" width="1.7" height="1.7" fill="#1b2b45"/>
<rect x="381.96" y="636.90" width="1.7" height="1.7" fill="#1b2b45"/>
<rect x="383.32" y="627.04" width="1.7" height="1.7" fill="#1b2b45"/>
<rect x="382.75" y="632.03" width="1.7" height="1.7" fill="#1b2b45"/>
<rect x="383.09" y="640.86" width="1.7" height="1.7" fill="#1b2b45"/>
<rect x="383.32" y="643.13" width="1.7" height="1.7" fill="#1b2b45"/>
<rect x="383.32" y="645.96" width="1.7" height="1.7" fill="#1b2b45"/>
<rect x="382.75" y="646.75" width="1.7" height="1.7" fill="#1b2b45"/>
<rect x="385.81" y="634.07" width="1.7" height="1.7" fill="#1b2b45"/>
<rect x="386.49" y="635.76" width="1.7" height="1.7" fill="#1b2b45"/>
<rect x="387.28" y="638.03" width="1.7" height="1.7" fill="#1b2b45"/>
<rect x="388.07" y="662.38" width="1.7" height="1.7" fill="#1b2b45"/>
<rect x="389.81" y="636.33" width="1.7" height="1.7" fill="#1b2b45"/>
<rect x="390.38" y="645.96" width="1.7" height="1.7" fill="#1b2b45"/>
<rect x="391.51" y="641.99" width="1.7" height="1.7" fill="#1b2b45"/>
<rect x="392.08" y="633.84" width="1.7" height="1.7" fill="#1b2b45"/>
<rect x="392.64" y="636.33" width="1.7" height="1.7" fill="#1b2b45"/>
<rect x="392.08" y="651.05" width="1.7" height="1.7" fill="#1b2b45"/>
<rect x="392.64" y="652.75" width="1.7" height="1.7" fill="#1b2b45"/>
<rect x="393.78" y="655.02" width="1.7" height="1.7" fill="#1b2b45"/>
<rect x="394.57" y="646.52" width="1.7" height="1.7" fill="#1b2b45"/>
<rect x="394.91" y="651.28" width="1.7" height="1.7" fill="#1b2b45"/>
<rect x="395.48" y="637.46" width="1.7" height="1.7" fill="#1b2b45"/>
<rect x="396.04" y="632.93" width="1.7" height="1.7" fill="#1b2b45"/>
<rect x="396.04" y="644.26" width="1.7" height="1.7" fill="#1b2b45"/>
<rect x="397.17" y="632.37" width="1.7" height="1.7" fill="#1b2b45"/>
<rect x="397.74" y="652.19" width="1.7" height="1.7" fill="#1b2b45"/>
<rect x="400.01" y="642.90" width="1.7" height="1.7" fill="#1b2b45"/>
<rect x="400.57" y="626.70" width="1.7" height="1.7" fill="#1b2b45"/>
<rect x="401.14" y="638.82" width="1.7" height="1.7" fill="#1b2b45"/>
<rect x="401.14" y="651.96" width="1.7" height="1.7" fill="#1b2b45"/>
<rect x="401.70" y="636.90" width="1.7" height="1.7" fill="#1b2b45"/>
<rect x="402.27" y="633.16" width="1.7" height="1.7" fill="#1b2b45"/>
<rect x="403.18" y="630.44" width="1.7" height="1.7" fill="#1b2b45"/>
<rect x="402.84" y="649.35" width="1.7" height="1.7" fill="#1b2b45"/>
<rect x="405.10" y="652.75" width="1.7" height="1.7" fill="#1b2b45"/>
<rect x="405.89" y="655.81" width="1.7" height="1.7" fill="#1b2b45"/>
<rect x="406.23" y="640.86" width="1.7" height="1.7" fill="#1b2b45"/>
<rect x="406.57" y="641.99" width="1.7" height="1.7" fill="#1b2b45"/>
<rect x="406.23" y="647.66" width="1.7" height="1.7" fill="#1b2b45"/>
<rect x="407.37" y="635.42" width="1.7" height="1.7" fill="#1b2b45"/>
<rect x="409.29" y="646.52" width="1.7" height="1.7" fill="#1b2b45"/>
<rect x="409.63" y="640.86" width="1.7" height="1.7" fill="#1b2b45"/>
<rect x="409.97" y="652.75" width="1.7" height="1.7" fill="#1b2b45"/>
<rect x="403.63" y="660.11" width="1.7" height="1.7" fill="#1b2b45"/>
<rect x="406.80" y="662.38" width="1.7" height="1.7" fill="#1b2b45"/>
<rect x="407.71" y="661.47" width="1.7" height="1.7" fill="#1b2b45"/>
<rect x="406.23" y="668.27" width="1.7" height="1.7" fill="#1b2b45"/>
<rect x="405.33" y="673.82" width="1.7" height="1.7" fill="#1b2b45"/>
<rect x="398.65" y="677.67" width="1.7" height="1.7" fill="#1b2b45"/>
<rect x="394.91" y="662.60" width="1.7" height="1.7" fill="#1b2b45"/>
<rect x="417.56" y="639.16" width="1.7" height="1.7" fill="#1b2b45"/>
<rect x="417.56" y="651.96" width="1.7" height="1.7" fill="#1b2b45"/>
<rect x="417.90" y="662.94" width="1.7" height="1.7" fill="#1b2b45"/>
<rect x="417.22" y="670.08" width="1.7" height="1.7" fill="#1b2b45"/>
<rect x="422.66" y="660.34" width="1.7" height="1.7" fill="#1b2b45"/>
<rect x="426.05" y="647.09" width="1.7" height="1.7" fill="#1b2b45"/>
<line x1="339.50" y1="616.30" x2="339.50" y2="692.30" stroke="#000" stroke-width="1.0" />
<line x1="339.00" y1="691.50" x2="428.30" y2="691.50" stroke="#000" stroke-width="1.0" />
<line x1="336.00" y1="691.50" x2="339.50" y2="691.50" stroke="#000" stroke-width="1.0" />
<text x="333.10" y="693.40" font-size="5.5" text-anchor="end" font-weight="normal" fill="#000" >1.5</text>
<line x1="336.00" y1="677.50" x2="339.50" y2="677.50" stroke="#000" stroke-width="1.0" />
<text x="333.10" y="678.80" font-size="5.5" text-anchor="end" font-weight="normal" fill="#000" >2</text>
<line x1="336.00" y1="662.50" x2="339.50" y2="662.50" stroke="#000" stroke-width="1.0" />
<text x="333.10" y="664.20" font-size="5.5" text-anchor="end" font-weight="normal" fill="#000" >2.5</text>
<line x1="336.00" y1="648.50" x2="339.50" y2="648.50" stroke="#000" stroke-width="1.0" />
<text x="333.10" y="649.60" font-size="5.5" text-anchor="end" font-weight="normal" fill="#000" >3</text>
<line x1="336.00" y1="633.50" x2="339.50" y2="633.50" stroke="#000" stroke-width="1.0" />
<text x="333.10" y="635.00" font-size="5.5" text-anchor="end" font-weight="normal" fill="#000" >3.5</text>
<line x1="336.00" y1="618.50" x2="339.50" y2="618.50" stroke="#000" stroke-width="1.0" />
<text x="333.10" y="620.40" font-size="5.5" text-anchor="end" font-weight="normal" fill="#000" >4</text>
<line x1="339.50" y1="691.80" x2="339.50" y2="695.10" stroke="#000" stroke-width="1.0" />
<text x="339.50" y="702.90" font-size="5.5" text-anchor="middle" font-weight="normal" fill="#000" >0.7</text>
<line x1="364.50" y1="691.80" x2="364.50" y2="695.10" stroke="#000" stroke-width="1.0" />
<text x="364.30" y="702.90" font-size="5.5" text-anchor="middle" font-weight="normal" fill="#000" >1.2</text>
<line x1="389.50" y1="691.80" x2="389.50" y2="695.10" stroke="#000" stroke-width="1.0" />
<text x="389.00" y="702.90" font-size="5.5" text-anchor="middle" font-weight="normal" fill="#000" >1.7</text>
<line x1="413.50" y1="691.80" x2="413.50" y2="695.10" stroke="#000" stroke-width="1.0" />
<text x="413.70" y="702.90" font-size="5.5" text-anchor="middle" font-weight="normal" fill="#000" >2.2</text>
<text x="345.80" y="611.10" font-size="5.6" text-anchor="start" font-weight="normal" fill="#000" font-style="italic">r = -0.32</text>
<text x="345.80" y="617.60" font-size="5.6" font-style="italic">p = 4.4x10<tspan font-size="3.6" dy="-2.2">&#8722;4</tspan></text>
<text x="0" y="0" font-size="7.2" font-style="italic" text-anchor="middle" transform="translate(320.10,653.75) rotate(-90) scale(0.79,1)">CDK6</text>
<text x="0" y="0" font-size="8.2" font-style="italic" text-anchor="middle" transform="translate(384.30,714.60) scale(0.70,1)">SLC2A3/GLUT3</text>
<rect x="0.5" y="0.5" width="519" height="723" fill="none" stroke="#000" stroke-width="1"/>
</svg>
</body></html>
